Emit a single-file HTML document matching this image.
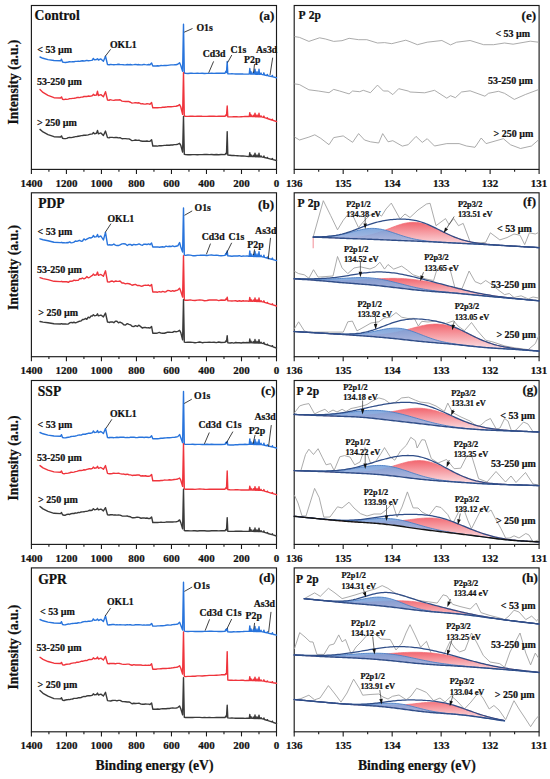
<!DOCTYPE html>
<html><head><meta charset="utf-8"><style>
html,body{margin:0;padding:0;background:#fff;}
svg{display:block;}
text{font-family:"Liberation Serif",serif;font-weight:bold;fill:#111;stroke:#111;stroke-width:0.22px;}
</style></head><body>
<svg width="550" height="779" viewBox="0 0 550 779">
<defs><linearGradient id="gR" x1="0" y1="0" x2="0" y2="1"><stop offset="0" stop-color="#f2666f"/><stop offset="0.5" stop-color="#f7a9af"/><stop offset="1" stop-color="#fdebee"/></linearGradient><linearGradient id="gB" x1="0" y1="0" x2="0" y2="1"><stop offset="0" stop-color="#75a0da"/><stop offset="0.5" stop-color="#9aafdd"/><stop offset="1" stop-color="#cacae4"/></linearGradient></defs>
<rect width="550" height="779" fill="#fff"/>
<rect x="31.40" y="5.50" width="245.10" height="163.90" fill="none" stroke="#1a1a1a" stroke-width="1.15"/>
<rect x="294.20" y="5.50" width="244.90" height="163.90" fill="none" stroke="#1a1a1a" stroke-width="1.15"/>
<line x1="276.50" y1="169.40" x2="276.50" y2="174.00" stroke="#1a1a1a" stroke-width="1.1"/>
<line x1="258.99" y1="169.40" x2="258.99" y2="171.80" stroke="#1a1a1a" stroke-width="1.1"/>
<line x1="241.49" y1="169.40" x2="241.49" y2="174.00" stroke="#1a1a1a" stroke-width="1.1"/>
<line x1="223.98" y1="169.40" x2="223.98" y2="171.80" stroke="#1a1a1a" stroke-width="1.1"/>
<line x1="206.47" y1="169.40" x2="206.47" y2="174.00" stroke="#1a1a1a" stroke-width="1.1"/>
<line x1="188.96" y1="169.40" x2="188.96" y2="171.80" stroke="#1a1a1a" stroke-width="1.1"/>
<line x1="171.46" y1="169.40" x2="171.46" y2="174.00" stroke="#1a1a1a" stroke-width="1.1"/>
<line x1="153.95" y1="169.40" x2="153.95" y2="171.80" stroke="#1a1a1a" stroke-width="1.1"/>
<line x1="136.44" y1="169.40" x2="136.44" y2="174.00" stroke="#1a1a1a" stroke-width="1.1"/>
<line x1="118.94" y1="169.40" x2="118.94" y2="171.80" stroke="#1a1a1a" stroke-width="1.1"/>
<line x1="101.43" y1="169.40" x2="101.43" y2="174.00" stroke="#1a1a1a" stroke-width="1.1"/>
<line x1="83.92" y1="169.40" x2="83.92" y2="171.80" stroke="#1a1a1a" stroke-width="1.1"/>
<line x1="66.41" y1="169.40" x2="66.41" y2="174.00" stroke="#1a1a1a" stroke-width="1.1"/>
<line x1="48.91" y1="169.40" x2="48.91" y2="171.80" stroke="#1a1a1a" stroke-width="1.1"/>
<line x1="31.40" y1="169.40" x2="31.40" y2="174.00" stroke="#1a1a1a" stroke-width="1.1"/>
<line x1="294.20" y1="169.40" x2="294.20" y2="174.00" stroke="#1a1a1a" stroke-width="1.1"/>
<line x1="318.69" y1="169.40" x2="318.69" y2="171.80" stroke="#1a1a1a" stroke-width="1.1"/>
<line x1="343.18" y1="169.40" x2="343.18" y2="174.00" stroke="#1a1a1a" stroke-width="1.1"/>
<line x1="367.67" y1="169.40" x2="367.67" y2="171.80" stroke="#1a1a1a" stroke-width="1.1"/>
<line x1="392.16" y1="169.40" x2="392.16" y2="174.00" stroke="#1a1a1a" stroke-width="1.1"/>
<line x1="416.65" y1="169.40" x2="416.65" y2="171.80" stroke="#1a1a1a" stroke-width="1.1"/>
<line x1="441.14" y1="169.40" x2="441.14" y2="174.00" stroke="#1a1a1a" stroke-width="1.1"/>
<line x1="465.63" y1="169.40" x2="465.63" y2="171.80" stroke="#1a1a1a" stroke-width="1.1"/>
<line x1="490.12" y1="169.40" x2="490.12" y2="174.00" stroke="#1a1a1a" stroke-width="1.1"/>
<line x1="514.61" y1="169.40" x2="514.61" y2="171.80" stroke="#1a1a1a" stroke-width="1.1"/>
<line x1="539.10" y1="169.40" x2="539.10" y2="174.00" stroke="#1a1a1a" stroke-width="1.1"/>
<text x="276.50" y="186.60" font-size="11.0" text-anchor="middle" >0</text>
<text x="241.49" y="186.60" font-size="11.0" text-anchor="middle" >200</text>
<text x="206.47" y="186.60" font-size="11.0" text-anchor="middle" >400</text>
<text x="171.46" y="186.60" font-size="11.0" text-anchor="middle" >600</text>
<text x="136.44" y="186.60" font-size="11.0" text-anchor="middle" >800</text>
<text x="101.43" y="186.60" font-size="11.0" text-anchor="middle" >1000</text>
<text x="66.41" y="186.60" font-size="11.0" text-anchor="middle" >1200</text>
<text x="31.40" y="186.60" font-size="11.0" text-anchor="middle" >1400</text>
<text x="539.10" y="186.60" font-size="11.0" text-anchor="middle" >131</text>
<text x="490.12" y="186.60" font-size="11.0" text-anchor="middle" >132</text>
<text x="441.14" y="186.60" font-size="11.0" text-anchor="middle" >133</text>
<text x="392.16" y="186.60" font-size="11.0" text-anchor="middle" >134</text>
<text x="343.18" y="186.60" font-size="11.0" text-anchor="middle" >135</text>
<text x="294.20" y="186.60" font-size="11.0" text-anchor="middle" >136</text>
<rect x="31.40" y="192.80" width="245.10" height="163.90" fill="none" stroke="#1a1a1a" stroke-width="1.15"/>
<rect x="294.20" y="192.80" width="244.90" height="163.90" fill="none" stroke="#1a1a1a" stroke-width="1.15"/>
<line x1="276.50" y1="356.70" x2="276.50" y2="361.30" stroke="#1a1a1a" stroke-width="1.1"/>
<line x1="258.99" y1="356.70" x2="258.99" y2="359.10" stroke="#1a1a1a" stroke-width="1.1"/>
<line x1="241.49" y1="356.70" x2="241.49" y2="361.30" stroke="#1a1a1a" stroke-width="1.1"/>
<line x1="223.98" y1="356.70" x2="223.98" y2="359.10" stroke="#1a1a1a" stroke-width="1.1"/>
<line x1="206.47" y1="356.70" x2="206.47" y2="361.30" stroke="#1a1a1a" stroke-width="1.1"/>
<line x1="188.96" y1="356.70" x2="188.96" y2="359.10" stroke="#1a1a1a" stroke-width="1.1"/>
<line x1="171.46" y1="356.70" x2="171.46" y2="361.30" stroke="#1a1a1a" stroke-width="1.1"/>
<line x1="153.95" y1="356.70" x2="153.95" y2="359.10" stroke="#1a1a1a" stroke-width="1.1"/>
<line x1="136.44" y1="356.70" x2="136.44" y2="361.30" stroke="#1a1a1a" stroke-width="1.1"/>
<line x1="118.94" y1="356.70" x2="118.94" y2="359.10" stroke="#1a1a1a" stroke-width="1.1"/>
<line x1="101.43" y1="356.70" x2="101.43" y2="361.30" stroke="#1a1a1a" stroke-width="1.1"/>
<line x1="83.92" y1="356.70" x2="83.92" y2="359.10" stroke="#1a1a1a" stroke-width="1.1"/>
<line x1="66.41" y1="356.70" x2="66.41" y2="361.30" stroke="#1a1a1a" stroke-width="1.1"/>
<line x1="48.91" y1="356.70" x2="48.91" y2="359.10" stroke="#1a1a1a" stroke-width="1.1"/>
<line x1="31.40" y1="356.70" x2="31.40" y2="361.30" stroke="#1a1a1a" stroke-width="1.1"/>
<line x1="294.20" y1="356.70" x2="294.20" y2="361.30" stroke="#1a1a1a" stroke-width="1.1"/>
<line x1="318.69" y1="356.70" x2="318.69" y2="359.10" stroke="#1a1a1a" stroke-width="1.1"/>
<line x1="343.18" y1="356.70" x2="343.18" y2="361.30" stroke="#1a1a1a" stroke-width="1.1"/>
<line x1="367.67" y1="356.70" x2="367.67" y2="359.10" stroke="#1a1a1a" stroke-width="1.1"/>
<line x1="392.16" y1="356.70" x2="392.16" y2="361.30" stroke="#1a1a1a" stroke-width="1.1"/>
<line x1="416.65" y1="356.70" x2="416.65" y2="359.10" stroke="#1a1a1a" stroke-width="1.1"/>
<line x1="441.14" y1="356.70" x2="441.14" y2="361.30" stroke="#1a1a1a" stroke-width="1.1"/>
<line x1="465.63" y1="356.70" x2="465.63" y2="359.10" stroke="#1a1a1a" stroke-width="1.1"/>
<line x1="490.12" y1="356.70" x2="490.12" y2="361.30" stroke="#1a1a1a" stroke-width="1.1"/>
<line x1="514.61" y1="356.70" x2="514.61" y2="359.10" stroke="#1a1a1a" stroke-width="1.1"/>
<line x1="539.10" y1="356.70" x2="539.10" y2="361.30" stroke="#1a1a1a" stroke-width="1.1"/>
<text x="276.50" y="373.90" font-size="11.0" text-anchor="middle" >0</text>
<text x="241.49" y="373.90" font-size="11.0" text-anchor="middle" >200</text>
<text x="206.47" y="373.90" font-size="11.0" text-anchor="middle" >400</text>
<text x="171.46" y="373.90" font-size="11.0" text-anchor="middle" >600</text>
<text x="136.44" y="373.90" font-size="11.0" text-anchor="middle" >800</text>
<text x="101.43" y="373.90" font-size="11.0" text-anchor="middle" >1000</text>
<text x="66.41" y="373.90" font-size="11.0" text-anchor="middle" >1200</text>
<text x="31.40" y="373.90" font-size="11.0" text-anchor="middle" >1400</text>
<text x="539.10" y="373.90" font-size="11.0" text-anchor="middle" >131</text>
<text x="490.12" y="373.90" font-size="11.0" text-anchor="middle" >132</text>
<text x="441.14" y="373.90" font-size="11.0" text-anchor="middle" >133</text>
<text x="392.16" y="373.90" font-size="11.0" text-anchor="middle" >134</text>
<text x="343.18" y="373.90" font-size="11.0" text-anchor="middle" >135</text>
<text x="294.20" y="373.90" font-size="11.0" text-anchor="middle" >136</text>
<rect x="31.40" y="380.50" width="245.10" height="163.90" fill="none" stroke="#1a1a1a" stroke-width="1.15"/>
<rect x="294.20" y="380.50" width="244.90" height="163.90" fill="none" stroke="#1a1a1a" stroke-width="1.15"/>
<line x1="276.50" y1="544.40" x2="276.50" y2="549.00" stroke="#1a1a1a" stroke-width="1.1"/>
<line x1="258.99" y1="544.40" x2="258.99" y2="546.80" stroke="#1a1a1a" stroke-width="1.1"/>
<line x1="241.49" y1="544.40" x2="241.49" y2="549.00" stroke="#1a1a1a" stroke-width="1.1"/>
<line x1="223.98" y1="544.40" x2="223.98" y2="546.80" stroke="#1a1a1a" stroke-width="1.1"/>
<line x1="206.47" y1="544.40" x2="206.47" y2="549.00" stroke="#1a1a1a" stroke-width="1.1"/>
<line x1="188.96" y1="544.40" x2="188.96" y2="546.80" stroke="#1a1a1a" stroke-width="1.1"/>
<line x1="171.46" y1="544.40" x2="171.46" y2="549.00" stroke="#1a1a1a" stroke-width="1.1"/>
<line x1="153.95" y1="544.40" x2="153.95" y2="546.80" stroke="#1a1a1a" stroke-width="1.1"/>
<line x1="136.44" y1="544.40" x2="136.44" y2="549.00" stroke="#1a1a1a" stroke-width="1.1"/>
<line x1="118.94" y1="544.40" x2="118.94" y2="546.80" stroke="#1a1a1a" stroke-width="1.1"/>
<line x1="101.43" y1="544.40" x2="101.43" y2="549.00" stroke="#1a1a1a" stroke-width="1.1"/>
<line x1="83.92" y1="544.40" x2="83.92" y2="546.80" stroke="#1a1a1a" stroke-width="1.1"/>
<line x1="66.41" y1="544.40" x2="66.41" y2="549.00" stroke="#1a1a1a" stroke-width="1.1"/>
<line x1="48.91" y1="544.40" x2="48.91" y2="546.80" stroke="#1a1a1a" stroke-width="1.1"/>
<line x1="31.40" y1="544.40" x2="31.40" y2="549.00" stroke="#1a1a1a" stroke-width="1.1"/>
<line x1="294.20" y1="544.40" x2="294.20" y2="549.00" stroke="#1a1a1a" stroke-width="1.1"/>
<line x1="318.69" y1="544.40" x2="318.69" y2="546.80" stroke="#1a1a1a" stroke-width="1.1"/>
<line x1="343.18" y1="544.40" x2="343.18" y2="549.00" stroke="#1a1a1a" stroke-width="1.1"/>
<line x1="367.67" y1="544.40" x2="367.67" y2="546.80" stroke="#1a1a1a" stroke-width="1.1"/>
<line x1="392.16" y1="544.40" x2="392.16" y2="549.00" stroke="#1a1a1a" stroke-width="1.1"/>
<line x1="416.65" y1="544.40" x2="416.65" y2="546.80" stroke="#1a1a1a" stroke-width="1.1"/>
<line x1="441.14" y1="544.40" x2="441.14" y2="549.00" stroke="#1a1a1a" stroke-width="1.1"/>
<line x1="465.63" y1="544.40" x2="465.63" y2="546.80" stroke="#1a1a1a" stroke-width="1.1"/>
<line x1="490.12" y1="544.40" x2="490.12" y2="549.00" stroke="#1a1a1a" stroke-width="1.1"/>
<line x1="514.61" y1="544.40" x2="514.61" y2="546.80" stroke="#1a1a1a" stroke-width="1.1"/>
<line x1="539.10" y1="544.40" x2="539.10" y2="549.00" stroke="#1a1a1a" stroke-width="1.1"/>
<text x="276.50" y="561.60" font-size="11.0" text-anchor="middle" >0</text>
<text x="241.49" y="561.60" font-size="11.0" text-anchor="middle" >200</text>
<text x="206.47" y="561.60" font-size="11.0" text-anchor="middle" >400</text>
<text x="171.46" y="561.60" font-size="11.0" text-anchor="middle" >600</text>
<text x="136.44" y="561.60" font-size="11.0" text-anchor="middle" >800</text>
<text x="101.43" y="561.60" font-size="11.0" text-anchor="middle" >1000</text>
<text x="66.41" y="561.60" font-size="11.0" text-anchor="middle" >1200</text>
<text x="31.40" y="561.60" font-size="11.0" text-anchor="middle" >1400</text>
<text x="539.10" y="561.60" font-size="11.0" text-anchor="middle" >131</text>
<text x="490.12" y="561.60" font-size="11.0" text-anchor="middle" >132</text>
<text x="441.14" y="561.60" font-size="11.0" text-anchor="middle" >133</text>
<text x="392.16" y="561.60" font-size="11.0" text-anchor="middle" >134</text>
<text x="343.18" y="561.60" font-size="11.0" text-anchor="middle" >135</text>
<text x="294.20" y="561.60" font-size="11.0" text-anchor="middle" >136</text>
<rect x="31.40" y="567.90" width="245.10" height="163.90" fill="none" stroke="#1a1a1a" stroke-width="1.15"/>
<rect x="294.20" y="567.90" width="244.90" height="163.90" fill="none" stroke="#1a1a1a" stroke-width="1.15"/>
<line x1="276.50" y1="731.80" x2="276.50" y2="736.40" stroke="#1a1a1a" stroke-width="1.1"/>
<line x1="258.99" y1="731.80" x2="258.99" y2="734.20" stroke="#1a1a1a" stroke-width="1.1"/>
<line x1="241.49" y1="731.80" x2="241.49" y2="736.40" stroke="#1a1a1a" stroke-width="1.1"/>
<line x1="223.98" y1="731.80" x2="223.98" y2="734.20" stroke="#1a1a1a" stroke-width="1.1"/>
<line x1="206.47" y1="731.80" x2="206.47" y2="736.40" stroke="#1a1a1a" stroke-width="1.1"/>
<line x1="188.96" y1="731.80" x2="188.96" y2="734.20" stroke="#1a1a1a" stroke-width="1.1"/>
<line x1="171.46" y1="731.80" x2="171.46" y2="736.40" stroke="#1a1a1a" stroke-width="1.1"/>
<line x1="153.95" y1="731.80" x2="153.95" y2="734.20" stroke="#1a1a1a" stroke-width="1.1"/>
<line x1="136.44" y1="731.80" x2="136.44" y2="736.40" stroke="#1a1a1a" stroke-width="1.1"/>
<line x1="118.94" y1="731.80" x2="118.94" y2="734.20" stroke="#1a1a1a" stroke-width="1.1"/>
<line x1="101.43" y1="731.80" x2="101.43" y2="736.40" stroke="#1a1a1a" stroke-width="1.1"/>
<line x1="83.92" y1="731.80" x2="83.92" y2="734.20" stroke="#1a1a1a" stroke-width="1.1"/>
<line x1="66.41" y1="731.80" x2="66.41" y2="736.40" stroke="#1a1a1a" stroke-width="1.1"/>
<line x1="48.91" y1="731.80" x2="48.91" y2="734.20" stroke="#1a1a1a" stroke-width="1.1"/>
<line x1="31.40" y1="731.80" x2="31.40" y2="736.40" stroke="#1a1a1a" stroke-width="1.1"/>
<line x1="294.20" y1="731.80" x2="294.20" y2="736.40" stroke="#1a1a1a" stroke-width="1.1"/>
<line x1="318.69" y1="731.80" x2="318.69" y2="734.20" stroke="#1a1a1a" stroke-width="1.1"/>
<line x1="343.18" y1="731.80" x2="343.18" y2="736.40" stroke="#1a1a1a" stroke-width="1.1"/>
<line x1="367.67" y1="731.80" x2="367.67" y2="734.20" stroke="#1a1a1a" stroke-width="1.1"/>
<line x1="392.16" y1="731.80" x2="392.16" y2="736.40" stroke="#1a1a1a" stroke-width="1.1"/>
<line x1="416.65" y1="731.80" x2="416.65" y2="734.20" stroke="#1a1a1a" stroke-width="1.1"/>
<line x1="441.14" y1="731.80" x2="441.14" y2="736.40" stroke="#1a1a1a" stroke-width="1.1"/>
<line x1="465.63" y1="731.80" x2="465.63" y2="734.20" stroke="#1a1a1a" stroke-width="1.1"/>
<line x1="490.12" y1="731.80" x2="490.12" y2="736.40" stroke="#1a1a1a" stroke-width="1.1"/>
<line x1="514.61" y1="731.80" x2="514.61" y2="734.20" stroke="#1a1a1a" stroke-width="1.1"/>
<line x1="539.10" y1="731.80" x2="539.10" y2="736.40" stroke="#1a1a1a" stroke-width="1.1"/>
<text x="276.50" y="749.00" font-size="11.0" text-anchor="middle" >0</text>
<text x="241.49" y="749.00" font-size="11.0" text-anchor="middle" >200</text>
<text x="206.47" y="749.00" font-size="11.0" text-anchor="middle" >400</text>
<text x="171.46" y="749.00" font-size="11.0" text-anchor="middle" >600</text>
<text x="136.44" y="749.00" font-size="11.0" text-anchor="middle" >800</text>
<text x="101.43" y="749.00" font-size="11.0" text-anchor="middle" >1000</text>
<text x="66.41" y="749.00" font-size="11.0" text-anchor="middle" >1200</text>
<text x="31.40" y="749.00" font-size="11.0" text-anchor="middle" >1400</text>
<text x="539.10" y="749.00" font-size="11.0" text-anchor="middle" >131</text>
<text x="490.12" y="749.00" font-size="11.0" text-anchor="middle" >132</text>
<text x="441.14" y="749.00" font-size="11.0" text-anchor="middle" >133</text>
<text x="392.16" y="749.00" font-size="11.0" text-anchor="middle" >134</text>
<text x="343.18" y="749.00" font-size="11.0" text-anchor="middle" >135</text>
<text x="294.20" y="749.00" font-size="11.0" text-anchor="middle" >136</text>
<text transform="translate(17.6,82.10) rotate(-90)" font-size="13.6" text-anchor="middle">Intensity (a.u.)</text>
<text transform="translate(17.6,267.50) rotate(-90)" font-size="13.6" text-anchor="middle">Intensity (a.u.)</text>
<text transform="translate(17.6,458.00) rotate(-90)" font-size="13.6" text-anchor="middle">Intensity (a.u.)</text>
<text transform="translate(17.6,647.10) rotate(-90)" font-size="13.6" text-anchor="middle">Intensity (a.u.)</text>
<text x="154.55" y="769.60" font-size="13.7" text-anchor="middle" >Binding energy (eV)</text>
<text x="416.85" y="769.60" font-size="13.7" text-anchor="middle" >Binding energy (eV)</text>
<polyline points="40.00,57.00 43.00,58.29 48.00,59.58 54.00,60.50 60.50,60.80 61.50,59.20 62.50,62.00 64.00,62.40 65.42,62.49 66.85,62.32 68.28,62.01 69.70,61.80 71.12,61.83 72.55,61.65 73.97,61.77 75.40,61.36 76.83,61.35 78.25,61.30 79.67,61.38 81.10,61.02 82.53,60.77 83.95,60.94 85.38,60.75 86.80,60.41 88.22,60.69 89.65,60.62 91.08,60.40 92.50,60.10 93.30,58.40 94.60,59.90 96.50,59.50 97.50,58.70 98.40,60.00 100.90,58.90 103.40,61.30 105.50,56.20 107.50,64.50 109.20,64.80 109.20,64.75 110.74,64.39 112.29,64.64 113.83,64.74 115.37,64.61 116.91,64.48 118.46,64.26 120.00,64.46 122.00,64.63 123.75,64.81 125.50,64.85 127.25,64.56 129.00,64.80 130.50,64.47 132.00,64.83 133.75,64.67 135.50,64.35 137.25,64.77 139.00,64.57 141.00,64.87 142.50,64.78 144.00,64.38 145.50,64.68 147.00,64.91 148.50,64.54 150.00,64.70 151.60,63.10 152.80,66.00 156.00,66.00 157.67,65.82 159.33,65.94 161.00,65.55 162.67,65.60 164.33,65.35 166.00,65.55 167.67,65.37 169.33,65.11 171.00,64.85 172.67,64.84 174.33,64.81 176.00,64.70 177.80,64.30 179.60,62.80 180.80,65.50 182.60,71.20 183.50,24.20 184.30,73.00 185.50,73.30 187.88,73.43 190.25,73.18 192.62,73.32 195.00,73.36 197.38,73.31 199.75,73.39 202.12,73.31 204.50,73.44 206.88,73.33 209.25,73.33 211.62,73.28 214.00,73.33 216.38,73.27 218.75,73.32 221.12,73.24 225.00,73.30 225.90,71.30 226.50,72.50 227.20,61.50 227.80,73.70 230.00,73.90 231.88,73.82 233.76,73.83 235.64,73.96 237.52,73.99 239.40,73.94 241.28,73.84 243.16,74.05 245.04,74.09 246.92,74.12 248.80,74.00 249.25,74.01 249.80,68.53 250.35,74.05 250.45,74.05 251.00,71.57 251.55,74.08 252.75,74.12 253.30,72.14 253.85,74.15 254.45,74.17 255.00,69.19 255.55,74.20 256.45,74.23 257.00,71.75 257.55,74.26 258.45,74.29 259.00,69.31 259.55,74.32 260.45,74.35 261.00,72.87 261.55,74.38 263.35,74.70 263.90,72.83 264.45,74.95 266.85,75.50 267.40,74.43 267.95,75.75 271.85,76.64 272.40,75.37 272.95,76.89 276.50,77.70" fill="none" stroke="#2874dc" stroke-width="1.4" stroke-linejoin="round" stroke-linecap="round" />
<polyline points="40.00,89.60 43.00,92.46 48.00,95.31 54.00,97.70 60.50,98.00 61.50,96.88 62.50,99.20 64.00,99.60 65.42,99.18 66.85,99.41 68.28,99.16 69.70,98.65 71.12,98.60 72.55,98.37 73.97,98.29 75.40,98.17 76.83,97.56 78.25,97.32 79.67,97.60 81.10,97.16 82.53,97.16 83.95,96.50 85.38,96.57 86.80,96.53 88.22,96.04 89.65,96.27 91.08,96.04 92.50,95.60 93.30,94.29 94.60,95.40 96.50,95.00 97.50,91.30 98.40,95.50 100.90,94.64 103.40,96.70 105.50,91.70 107.50,100.00 109.20,100.30 109.20,99.84 110.74,99.82 112.29,100.11 113.83,100.34 115.37,99.98 116.91,99.87 118.46,99.97 120.00,99.72 122.00,101.09 123.75,101.33 125.50,101.47 127.25,101.41 129.00,101.52 130.50,102.25 132.00,103.13 133.75,102.92 135.50,102.65 137.25,103.04 139.00,102.76 141.00,103.87 142.50,103.63 144.00,104.16 145.50,104.12 147.00,103.72 148.50,103.89 150.00,104.20 151.60,102.60 152.80,107.80 156.00,107.80 157.67,107.76 159.33,107.62 161.00,107.58 162.67,107.23 164.33,107.27 166.00,107.07 167.67,106.78 169.33,106.77 171.00,106.76 172.67,106.61 174.33,106.34 176.00,106.20 177.80,105.80 179.60,104.60 180.80,107.00 182.60,114.30 183.50,72.60 184.30,116.00 185.50,116.30 187.88,116.33 190.25,116.16 192.62,116.22 195.00,116.39 197.38,116.27 199.75,116.20 202.12,116.31 204.50,116.36 206.88,116.35 209.25,116.26 211.62,116.28 214.00,116.30 216.38,116.38 218.75,116.31 221.12,116.27 225.00,116.30 225.90,114.90 226.50,115.50 227.20,106.00 227.80,116.70 230.00,116.90 231.88,116.86 233.76,116.68 235.64,116.64 237.52,116.80 239.40,116.84 241.28,116.69 243.16,116.59 245.04,116.48 246.92,116.54 248.80,116.50 249.25,116.51 249.80,112.68 250.35,116.55 250.45,116.55 251.00,114.82 251.55,116.58 252.75,116.62 253.30,115.23 253.85,116.65 254.45,116.67 255.00,113.19 255.55,116.70 256.45,116.73 257.00,115.00 257.55,116.76 258.45,116.79 259.00,113.31 259.55,116.82 260.45,116.85 261.00,115.82 261.55,116.88 263.35,117.32 263.90,116.10 264.45,117.67 266.85,118.44 267.40,117.77 267.95,118.79 271.85,120.02 272.40,119.22 272.95,120.37 276.50,121.50" fill="none" stroke="#ef343c" stroke-width="1.4" stroke-linejoin="round" stroke-linecap="round" />
<polyline points="40.00,129.40 43.00,131.98 48.00,134.57 54.00,136.70 60.50,137.00 61.50,135.88 62.50,138.20 64.00,138.60 65.42,138.64 66.85,138.40 68.28,137.63 69.70,137.41 71.12,137.63 72.55,137.33 73.97,137.06 75.40,136.60 76.83,136.55 78.25,136.31 79.67,136.06 81.10,135.58 82.53,135.50 83.95,135.25 85.38,135.21 86.80,135.14 88.22,134.87 89.65,134.40 91.08,134.10 92.50,133.90 93.30,132.59 94.60,133.70 96.50,133.30 97.50,130.50 98.40,133.80 100.90,132.94 103.40,135.50 105.50,131.10 107.50,137.60 109.20,137.90 109.20,137.57 110.74,137.42 112.29,137.40 113.83,137.64 115.37,137.54 116.91,137.56 118.46,137.85 120.00,137.62 122.00,138.75 123.75,138.64 125.50,138.61 127.25,138.88 129.00,138.86 130.50,139.73 132.00,140.67 133.75,140.39 135.50,140.00 137.25,140.33 139.00,140.18 141.00,141.07 142.50,141.21 144.00,141.16 145.50,141.21 147.00,140.99 148.50,141.40 150.00,141.30 151.60,139.70 152.80,146.00 156.00,146.00 157.67,146.08 159.33,145.62 161.00,145.76 162.67,145.62 164.33,145.40 166.00,145.31 167.67,145.18 169.33,145.25 171.00,144.95 172.67,144.97 174.33,144.66 176.00,144.60 177.80,144.20 179.60,143.30 180.80,145.40 182.60,152.00 183.50,116.50 184.30,154.30 185.50,154.60 187.88,154.71 190.25,154.72 192.62,154.59 195.00,154.62 197.38,154.73 199.75,154.67 202.12,154.60 204.50,154.52 206.88,154.55 209.25,154.66 211.62,154.50 214.00,154.72 216.38,154.53 218.75,154.72 221.12,154.54 225.00,154.60 225.90,153.20 226.50,153.80 227.20,131.60 227.80,155.00 230.00,155.20 231.88,155.47 233.76,155.52 235.64,155.59 237.52,155.73 239.40,155.90 241.28,156.01 243.16,156.05 245.04,156.15 246.92,156.37 248.80,156.50 249.25,156.51 249.80,152.68 250.35,156.55 250.45,156.55 251.00,154.82 251.55,156.58 252.75,156.62 253.30,155.23 253.85,156.65 254.45,156.67 255.00,153.19 255.55,156.70 256.45,156.73 257.00,155.00 257.55,156.76 258.45,156.79 259.00,153.31 259.55,156.82 260.45,156.85 261.00,155.82 261.55,156.88 263.35,157.23 263.90,155.97 264.45,157.50 266.85,158.10 267.40,157.40 267.95,158.37 271.85,159.34 272.40,158.50 272.95,159.62 276.50,160.50" fill="none" stroke="#3a3a3a" stroke-width="1.4" stroke-linejoin="round" stroke-linecap="round" />
<polyline points="40.00,238.80 43.00,239.75 48.00,240.70 54.00,242.30 60.50,242.60 61.50,242.30 62.50,242.75 64.00,242.80 65.42,242.89 66.85,242.56 68.28,242.72 69.70,241.91 71.12,242.83 72.55,242.66 73.97,242.14 75.40,241.01 76.83,241.40 78.25,240.77 79.67,240.32 81.10,241.27 82.53,241.00 83.95,238.93 85.38,240.01 86.80,239.15 88.22,238.34 89.65,237.73 91.08,237.98 92.50,237.20 93.30,235.50 94.60,237.00 96.50,236.60 97.50,234.50 98.40,237.10 100.90,236.00 103.40,240.00 105.50,232.40 107.50,244.70 109.20,245.00 109.20,244.62 110.74,245.03 112.29,244.99 113.83,244.04 115.37,245.18 116.91,245.57 118.46,245.54 120.00,244.90 122.00,243.88 123.75,243.81 125.50,244.04 127.25,245.49 129.00,244.35 130.50,244.46 132.00,245.42 133.75,244.37 135.50,244.79 137.25,244.58 139.00,243.92 141.00,244.85 142.50,245.32 144.00,244.08 145.50,244.20 147.00,244.54 148.50,243.87 150.00,244.70 151.60,243.10 152.80,247.00 156.00,247.00 157.67,246.93 159.33,247.27 161.00,247.00 162.67,246.78 164.33,247.11 166.00,246.16 167.67,246.62 169.33,246.31 171.00,246.53 172.67,245.85 174.33,246.61 176.00,246.20 177.80,245.80 179.60,242.50 180.80,247.00 182.60,252.10 183.50,208.00 184.30,255.10 185.50,255.40 187.88,255.04 190.25,255.10 192.62,255.68 195.00,255.80 197.38,255.34 199.75,255.32 202.12,255.17 204.50,255.20 206.88,255.51 209.25,255.11 211.62,255.06 214.00,255.36 216.38,255.10 218.75,255.53 221.12,255.69 225.00,255.40 225.90,253.40 226.50,254.60 227.20,251.00 227.80,255.80 230.00,256.00 231.88,256.28 233.76,256.04 235.64,255.95 237.52,256.06 239.40,255.70 241.28,256.37 243.16,256.06 245.04,256.08 246.92,255.89 248.80,256.30 249.25,256.31 249.80,250.83 250.35,256.35 250.45,256.35 251.00,253.87 251.55,256.38 252.75,256.42 253.30,254.44 253.85,256.45 254.45,256.47 255.00,251.49 255.55,256.50 256.45,256.53 257.00,254.05 257.55,256.56 258.45,256.59 259.00,251.61 259.55,256.62 260.45,256.65 261.00,255.17 261.55,256.68 263.35,257.06 263.90,255.21 264.45,257.36 266.85,258.00 267.40,256.95 267.95,258.30 271.85,259.35 272.40,258.10 272.95,259.64 276.50,260.60" fill="none" stroke="#2874dc" stroke-width="1.4" stroke-linejoin="round" stroke-linecap="round" />
<polyline points="40.00,277.60 43.00,278.60 48.00,279.60 54.00,281.30 60.50,281.60 61.50,281.30 62.50,281.75 64.00,281.80 65.42,281.67 66.85,281.78 68.28,282.31 69.70,281.32 71.12,281.21 72.55,281.13 73.97,280.16 75.40,280.47 76.83,280.39 78.25,280.36 79.67,278.75 81.10,278.76 82.53,277.99 83.95,278.87 85.38,278.22 86.80,276.60 88.22,277.81 89.65,277.29 91.08,276.21 92.50,275.40 93.30,274.09 94.60,275.20 96.50,274.80 97.50,272.06 98.40,275.30 100.90,274.44 103.40,276.30 105.50,270.80 107.50,281.80 109.20,282.10 109.20,282.13 110.74,281.29 112.29,281.02 113.83,281.92 115.37,281.06 116.91,281.28 118.46,281.35 120.00,280.95 122.00,283.00 123.75,283.06 125.50,283.89 127.25,283.41 129.00,283.73 130.50,284.21 132.00,285.24 133.75,284.77 135.50,284.34 137.25,285.53 139.00,285.42 141.00,286.19 142.50,286.00 144.00,285.33 145.50,285.22 147.00,285.37 148.50,285.02 150.00,286.00 151.60,284.40 152.80,292.00 156.00,292.00 157.67,292.21 159.33,291.62 161.00,292.06 162.67,291.36 164.33,291.95 166.00,291.69 167.67,290.50 169.33,290.63 171.00,291.39 172.67,290.71 174.33,291.23 176.00,290.50 177.80,290.10 179.60,288.30 180.80,291.30 182.60,297.10 183.50,255.80 184.30,300.00 185.50,300.30 187.88,300.21 190.25,299.92 192.62,300.42 195.00,300.55 197.38,300.09 199.75,299.93 202.12,300.15 204.50,300.72 206.88,300.53 209.25,299.96 211.62,300.07 214.00,299.94 216.38,299.90 218.75,300.57 221.12,300.01 225.00,300.30 225.90,298.90 226.50,299.50 227.20,297.20 227.80,300.70 230.00,300.90 231.88,300.98 233.76,300.91 235.64,300.71 237.52,301.23 239.40,300.72 241.28,301.21 243.16,300.76 245.04,301.07 246.92,300.91 248.80,301.20 249.25,301.21 249.80,297.38 250.35,301.25 250.45,301.25 251.00,299.52 251.55,301.28 252.75,301.32 253.30,299.94 253.85,301.35 254.45,301.37 255.00,297.89 255.55,301.40 256.45,301.43 257.00,299.70 257.55,301.46 258.45,301.49 259.00,298.01 259.55,301.52 260.45,301.55 261.00,300.52 261.55,301.58 263.35,302.01 263.90,300.77 264.45,302.34 266.85,303.07 267.40,302.40 267.95,303.40 271.85,304.59 272.40,303.77 272.95,304.92 276.50,306.00" fill="none" stroke="#ef343c" stroke-width="1.4" stroke-linejoin="round" stroke-linecap="round" />
<polyline points="40.00,321.50 43.00,322.12 48.00,322.75 54.00,323.70 60.50,324.00 61.50,323.70 62.50,324.00 64.00,324.00 65.42,323.91 66.85,324.12 68.28,323.98 69.70,322.84 71.12,322.36 72.55,322.74 73.97,322.25 75.40,322.87 76.83,322.28 78.25,321.72 79.67,321.21 81.10,320.93 82.53,319.52 83.95,319.53 85.38,318.49 86.80,319.26 88.22,317.14 89.65,317.89 91.08,315.90 92.50,316.00 93.30,314.69 94.60,315.80 96.50,315.40 97.50,313.78 98.40,315.90 100.90,315.04 103.40,316.90 105.50,313.00 107.50,322.00 109.20,322.30 109.20,322.52 110.74,321.86 112.29,321.96 113.83,322.72 115.37,321.21 116.91,321.26 118.46,322.77 120.00,322.02 122.00,323.09 123.75,324.86 125.50,324.94 127.25,323.59 129.00,324.30 130.50,324.85 132.00,326.24 133.75,326.64 135.50,325.66 137.25,326.47 139.00,325.16 141.00,326.90 142.50,328.12 144.00,327.43 145.50,327.53 147.00,327.91 148.50,327.75 150.00,328.10 151.60,326.50 152.80,333.20 156.00,333.20 157.67,332.94 159.33,332.38 161.00,333.14 162.67,333.32 164.33,333.22 166.00,332.71 167.67,332.20 169.33,332.09 171.00,332.39 172.67,332.25 174.33,331.43 176.00,331.80 177.80,331.40 179.60,330.30 180.80,332.60 182.60,339.90 183.50,299.60 184.30,342.10 185.50,342.40 187.88,342.16 190.25,342.28 192.62,342.41 195.00,342.68 197.38,342.40 199.75,341.98 202.12,342.69 204.50,342.34 206.88,342.42 209.25,342.15 211.62,342.33 214.00,342.30 216.38,342.64 218.75,342.04 221.12,342.44 225.00,342.40 225.90,341.00 226.50,341.60 227.20,335.70 227.80,342.80 230.00,343.00 231.88,342.69 233.76,343.14 235.64,342.52 237.52,342.72 239.40,342.76 241.28,343.00 243.16,342.46 245.04,342.80 246.92,342.56 248.80,342.80 249.25,342.81 249.80,338.98 250.35,342.85 250.45,342.85 251.00,341.12 251.55,342.88 252.75,342.92 253.30,341.54 253.85,342.95 254.45,342.97 255.00,339.49 255.55,343.00 256.45,343.03 257.00,341.30 257.55,343.06 258.45,343.09 259.00,339.61 259.55,343.12 260.45,343.15 261.00,342.12 261.55,343.18 263.35,343.64 263.90,342.43 264.45,344.01 266.85,344.80 267.40,344.15 267.95,345.17 271.85,346.46 272.40,345.66 272.95,346.82 276.50,348.00" fill="none" stroke="#3a3a3a" stroke-width="1.4" stroke-linejoin="round" stroke-linecap="round" />
<polyline points="40.00,432.50 43.00,433.79 48.00,435.08 54.00,436.00 60.50,436.30 61.50,434.70 62.50,437.50 64.00,437.90 65.42,437.88 66.85,437.49 68.28,437.28 69.70,437.10 71.12,436.46 72.55,436.42 73.97,436.32 75.40,436.04 76.83,435.60 78.25,435.10 79.67,434.99 81.10,435.08 82.53,434.28 83.95,434.15 85.38,434.27 86.80,433.71 88.22,433.31 89.65,433.11 91.08,433.21 92.50,432.70 93.30,431.00 94.60,432.50 96.50,432.10 97.50,430.50 98.40,432.60 100.90,431.50 103.40,433.50 105.50,428.40 107.50,437.50 109.20,437.80 109.20,437.40 110.74,437.45 112.29,437.57 113.83,437.68 115.37,437.49 116.91,437.25 118.46,437.54 120.00,437.22 122.00,437.23 123.75,437.28 125.50,437.58 127.25,437.33 129.00,437.57 130.50,437.24 132.00,437.20 133.75,437.14 135.50,437.55 137.25,437.65 139.00,437.27 141.00,437.25 142.50,437.12 144.00,437.49 145.50,437.29 147.00,437.19 148.50,437.49 150.00,437.40 151.60,435.80 152.80,438.80 156.00,438.80 157.67,438.69 159.33,438.48 161.00,438.20 162.67,438.26 164.33,438.07 166.00,437.87 167.67,437.61 169.33,437.78 171.00,437.60 172.67,437.38 174.33,437.36 176.00,437.00 177.80,436.60 179.60,434.60 180.80,437.80 182.60,442.70 183.50,391.50 184.30,444.10 185.50,444.40 187.88,444.42 190.25,444.35 192.62,444.28 195.00,444.43 197.38,444.41 199.75,444.38 202.12,444.55 204.50,444.50 206.88,444.28 209.25,444.52 211.62,444.25 214.00,444.45 216.38,444.34 218.75,444.47 221.12,444.54 225.00,444.40 225.90,442.40 226.50,443.60 227.20,441.50 227.80,444.80 230.00,445.00 231.88,444.94 233.76,444.94 235.64,444.66 237.52,444.77 239.40,444.54 241.28,444.57 243.16,444.46 245.04,444.31 246.92,444.44 248.80,444.30 249.25,444.31 249.80,438.83 250.35,444.35 250.45,444.35 251.00,441.87 251.55,444.38 252.75,444.42 253.30,442.44 253.85,444.45 254.45,444.47 255.00,439.49 255.55,444.50 256.45,444.53 257.00,442.05 257.55,444.56 258.45,444.59 259.00,439.61 259.55,444.62 260.45,444.65 261.00,443.17 261.55,444.68 263.35,445.00 263.90,443.13 264.45,445.25 266.85,445.80 267.40,444.73 267.95,446.05 271.85,446.94 272.40,445.67 272.95,447.19 276.50,448.00" fill="none" stroke="#2874dc" stroke-width="1.4" stroke-linejoin="round" stroke-linecap="round" />
<polyline points="40.00,465.60 43.00,467.84 48.00,470.09 54.00,471.90 60.50,472.20 61.50,471.08 62.50,473.40 64.00,473.80 65.42,473.33 66.85,473.37 68.28,473.07 69.70,472.71 71.12,472.28 72.55,472.36 73.97,472.09 75.40,471.65 76.83,471.37 78.25,470.94 79.67,470.53 81.10,470.48 82.53,470.34 83.95,469.76 85.38,469.93 86.80,469.32 88.22,469.05 89.65,468.67 91.08,468.97 92.50,468.40 93.30,467.09 94.60,468.20 96.50,467.80 97.50,466.32 98.40,468.30 100.90,467.44 103.40,469.30 105.50,465.60 107.50,473.40 109.20,473.70 109.20,473.62 110.74,473.69 112.29,473.53 113.83,473.17 115.37,473.33 116.91,473.42 118.46,473.18 120.00,473.67 122.00,474.13 123.75,474.07 125.50,474.54 127.25,474.19 129.00,474.74 130.50,474.92 132.00,475.46 133.75,475.26 135.50,475.28 137.25,475.03 139.00,474.88 141.00,476.05 142.50,475.70 144.00,476.05 145.50,475.74 147.00,476.22 148.50,476.20 150.00,476.10 151.60,474.50 152.80,480.80 156.00,480.80 157.67,480.79 159.33,480.68 161.00,480.48 162.67,480.43 164.33,480.06 166.00,480.09 167.67,480.12 169.33,479.74 171.00,479.93 172.67,479.80 174.33,479.48 176.00,479.40 177.80,479.00 179.60,478.00 180.80,480.20 182.60,486.40 183.50,443.80 184.30,488.90 185.50,489.20 187.88,489.16 190.25,489.19 192.62,489.17 195.00,489.35 197.38,489.17 199.75,489.06 202.12,489.08 204.50,489.27 206.88,489.35 209.25,489.20 211.62,489.20 214.00,489.22 216.38,489.27 218.75,489.12 221.12,489.23 225.00,489.20 225.90,487.80 226.50,488.40 227.20,471.00 227.80,489.60 230.00,489.80 231.88,489.84 233.76,489.88 235.64,489.76 237.52,489.78 239.40,489.85 241.28,490.05 243.16,489.89 245.04,489.99 246.92,489.92 248.80,490.00 249.25,490.01 249.80,486.18 250.35,490.05 250.45,490.05 251.00,488.32 251.55,490.08 252.75,490.12 253.30,488.74 253.85,490.15 254.45,490.17 255.00,486.69 255.55,490.20 256.45,490.23 257.00,488.50 257.55,490.26 258.45,490.29 259.00,486.81 259.55,490.32 260.45,490.35 261.00,489.32 261.55,490.38 263.35,490.80 263.90,489.56 264.45,491.12 266.85,491.84 267.40,491.16 267.95,492.16 271.85,493.32 272.40,492.50 272.95,493.65 276.50,494.70" fill="none" stroke="#ef343c" stroke-width="1.4" stroke-linejoin="round" stroke-linecap="round" />
<polyline points="40.00,506.50 43.00,508.91 48.00,511.33 54.00,513.30 60.50,513.60 61.50,512.48 62.50,514.80 64.00,515.20 65.42,515.21 66.85,514.46 68.28,514.13 69.70,514.46 71.12,513.71 72.55,513.41 73.97,513.47 75.40,513.03 76.83,513.09 78.25,512.44 79.67,512.62 81.10,511.97 82.53,511.88 83.95,511.82 85.38,511.41 86.80,511.29 88.22,510.90 89.65,510.25 91.08,510.49 92.50,510.00 93.30,508.69 94.60,509.80 96.50,509.40 97.50,508.27 98.40,509.90 100.90,509.04 103.40,510.90 105.50,507.70 107.50,514.80 109.20,515.10 109.20,514.96 110.74,514.78 112.29,514.69 113.83,515.07 115.37,514.90 116.91,515.09 118.46,514.98 120.00,515.08 122.00,515.95 123.75,516.12 125.50,516.16 127.25,516.04 129.00,516.55 130.50,516.81 132.00,517.74 133.75,517.76 135.50,517.48 137.25,517.08 139.00,517.40 141.00,518.23 142.50,517.98 144.00,517.93 145.50,518.26 147.00,518.00 148.50,518.57 150.00,518.50 151.60,516.90 152.80,522.50 156.00,522.50 157.67,522.44 159.33,522.39 161.00,522.29 162.67,522.33 164.33,522.38 166.00,522.07 167.67,522.04 169.33,522.07 171.00,521.89 172.67,521.96 174.33,521.88 176.00,521.80 177.80,521.40 179.60,519.90 180.80,522.60 182.60,528.80 183.50,489.20 184.30,530.50 185.50,530.80 187.88,530.78 190.25,530.85 192.62,530.81 195.00,530.68 197.38,530.95 199.75,530.76 202.12,530.78 204.50,530.77 206.88,530.93 209.25,530.94 211.62,530.80 214.00,530.77 216.38,530.68 218.75,530.92 221.12,530.70 225.00,530.80 225.90,529.40 226.50,530.00 227.20,517.60 227.80,531.20 230.00,531.40 231.88,531.40 233.76,531.33 235.64,531.32 237.52,531.32 239.40,531.26 241.28,531.20 243.16,531.34 245.04,531.41 246.92,531.35 248.80,531.30 249.25,531.31 249.80,527.48 250.35,531.35 250.45,531.35 251.00,529.62 251.55,531.38 252.75,531.42 253.30,530.03 253.85,531.45 254.45,531.47 255.00,527.99 255.55,531.50 256.45,531.53 257.00,529.80 257.55,531.56 258.45,531.59 259.00,528.11 259.55,531.62 260.45,531.65 261.00,530.62 261.55,531.68 263.35,532.10 263.90,530.86 264.45,532.42 266.85,533.14 267.40,532.46 267.95,533.46 271.85,534.62 272.40,533.80 272.95,534.95 276.50,536.00" fill="none" stroke="#3a3a3a" stroke-width="1.4" stroke-linejoin="round" stroke-linecap="round" />
<polyline points="40.00,619.50 43.00,620.79 48.00,622.08 54.00,623.00 60.50,623.30 61.50,621.70 62.50,624.50 64.00,624.90 65.42,624.71 66.85,624.34 68.28,623.97 69.70,624.13 71.12,623.65 72.55,623.46 73.97,623.33 75.40,623.26 76.83,623.26 78.25,622.73 79.67,622.83 81.10,622.62 82.53,621.95 83.95,621.63 85.38,621.47 86.80,621.67 88.22,621.30 89.65,621.28 91.08,621.10 92.50,620.60 93.30,618.90 94.60,620.40 96.50,620.00 97.50,619.00 98.40,620.50 100.90,619.40 103.40,621.50 105.50,616.00 107.50,624.70 109.20,625.00 109.20,624.80 110.74,624.73 112.29,624.45 113.83,624.42 115.37,624.89 116.91,624.81 118.46,624.86 120.00,624.74 122.00,624.89 123.75,624.88 125.50,625.04 127.25,624.58 129.00,624.82 130.50,624.76 132.00,625.12 133.75,625.14 135.50,624.76 137.25,624.65 139.00,624.74 141.00,624.86 142.50,625.13 144.00,624.92 145.50,625.13 147.00,624.86 148.50,625.00 150.00,625.00 151.60,623.40 152.80,626.10 156.00,626.10 157.67,625.83 159.33,625.88 161.00,625.68 162.67,625.69 164.33,625.58 166.00,625.26 167.67,624.93 169.33,625.15 171.00,625.01 172.67,624.67 174.33,624.54 176.00,624.40 177.80,624.00 179.60,622.20 180.80,625.20 182.60,630.10 183.50,582.30 184.30,631.10 185.50,631.40 187.88,631.53 190.25,631.33 192.62,631.33 195.00,631.46 197.38,631.45 199.75,631.46 202.12,631.50 204.50,631.40 206.88,631.38 209.25,631.32 211.62,631.31 214.00,631.36 216.38,631.38 218.75,631.47 221.12,631.44 225.00,631.40 225.90,629.40 226.50,630.60 227.20,628.50 227.80,631.80 230.00,632.00 231.88,631.93 233.76,631.82 235.64,631.83 237.52,631.68 239.40,631.74 241.28,631.62 243.16,631.57 245.04,631.40 246.92,631.38 248.80,631.30 249.25,631.31 249.80,625.83 250.35,631.35 250.45,631.35 251.00,628.87 251.55,631.38 252.75,631.42 253.30,629.43 253.85,631.45 254.45,631.47 255.00,626.49 255.55,631.50 256.45,631.53 257.00,629.05 257.55,631.56 258.45,631.59 259.00,626.61 259.55,631.62 260.45,631.65 261.00,630.17 261.55,631.68 263.35,632.01 263.90,630.14 264.45,632.27 266.85,632.83 267.40,631.76 267.95,633.09 271.85,634.01 272.40,632.74 272.95,634.27 276.50,635.10" fill="none" stroke="#2874dc" stroke-width="1.4" stroke-linejoin="round" stroke-linecap="round" />
<polyline points="40.00,657.30 43.00,659.41 48.00,661.52 54.00,663.20 60.50,663.50 61.50,662.38 62.50,664.70 64.00,665.10 65.42,664.51 66.85,664.27 68.28,664.14 69.70,664.01 71.12,663.38 72.55,663.07 73.97,662.84 75.40,662.85 76.83,662.19 78.25,662.24 79.67,661.90 81.10,661.28 82.53,661.22 83.95,660.87 85.38,660.55 86.80,660.60 88.22,659.76 89.65,659.41 91.08,659.66 92.50,659.10 93.30,657.79 94.60,658.90 96.50,658.50 97.50,657.09 98.40,659.00 100.90,658.14 103.40,660.00 105.50,656.40 107.50,663.50 109.20,663.80 109.20,663.50 110.74,663.37 112.29,663.44 113.83,663.45 115.37,663.80 116.91,663.34 118.46,663.34 120.00,663.55 122.00,664.10 123.75,664.39 125.50,664.37 127.25,664.13 129.00,664.08 130.50,664.79 132.00,665.22 133.75,664.60 135.50,664.97 137.25,665.00 139.00,664.83 141.00,665.04 142.50,665.41 144.00,665.39 145.50,665.08 147.00,665.37 148.50,665.14 150.00,665.40 151.60,663.80 152.80,669.20 156.00,669.20 157.67,668.86 159.33,668.83 161.00,668.68 162.67,668.56 164.33,668.51 166.00,668.44 167.67,668.34 169.33,668.20 171.00,668.06 172.67,667.82 174.33,667.47 176.00,667.40 177.80,667.00 179.60,665.70 180.80,668.20 182.60,674.10 183.50,632.00 184.30,676.30 185.50,676.60 187.88,676.39 190.25,676.41 192.62,676.28 195.00,676.20 197.38,675.92 199.75,675.83 202.12,675.94 204.50,675.73 206.88,675.65 209.25,675.35 211.62,675.33 214.00,675.37 216.38,675.18 218.75,675.17 221.12,674.82 225.00,674.80 225.90,673.40 226.50,674.00 227.20,651.60 227.80,680.00 230.00,680.20 231.88,680.22 233.76,680.35 235.64,680.27 237.52,680.41 239.40,680.37 241.28,680.27 243.16,680.29 245.04,680.58 246.92,680.36 248.80,680.50 249.25,680.51 249.80,676.68 250.35,680.55 250.45,680.55 251.00,678.82 251.55,680.58 252.75,680.62 253.30,679.24 253.85,680.65 254.45,680.67 255.00,677.19 255.55,680.70 256.45,680.73 257.00,679.00 257.55,680.76 258.45,680.79 259.00,677.31 259.55,680.82 260.45,680.85 261.00,679.82 261.55,680.88 263.35,681.12 263.90,679.81 264.45,681.30 266.85,681.70 267.40,680.95 267.95,681.88 271.85,682.53 272.40,681.64 272.95,682.71 276.50,683.30" fill="none" stroke="#ef343c" stroke-width="1.4" stroke-linejoin="round" stroke-linecap="round" />
<polyline points="40.00,690.40 43.00,693.29 48.00,696.18 54.00,698.60 60.50,698.90 61.50,697.78 62.50,700.10 64.00,700.50 65.42,699.98 66.85,699.79 68.28,699.57 69.70,699.66 71.12,699.15 72.55,699.01 73.97,698.37 75.40,698.35 76.83,698.28 78.25,697.81 79.67,697.80 81.10,697.49 82.53,696.91 83.95,696.42 85.38,696.60 86.80,695.96 88.22,695.62 89.65,695.78 91.08,695.58 92.50,695.10 93.30,693.79 94.60,694.90 96.50,694.50 97.50,693.02 98.40,695.00 100.90,694.14 103.40,696.00 105.50,692.30 107.50,700.60 109.20,700.90 109.20,700.92 110.74,700.97 112.29,700.50 113.83,700.42 115.37,700.42 116.91,700.92 118.46,700.38 120.00,700.40 122.00,701.48 123.75,701.60 125.50,701.69 127.25,701.97 129.00,701.96 130.50,702.73 132.00,703.78 133.75,703.23 135.50,703.52 137.25,703.38 139.00,703.18 141.00,704.16 142.50,704.31 144.00,704.24 145.50,704.06 147.00,704.16 148.50,704.15 150.00,704.50 151.60,702.90 152.80,709.20 156.00,709.20 157.67,709.06 159.33,709.20 161.00,708.87 162.67,708.62 164.33,708.69 166.00,708.73 167.67,708.48 169.33,708.48 171.00,708.13 172.67,708.02 174.33,708.17 176.00,708.00 177.80,707.60 179.60,705.90 180.80,708.80 182.60,714.80 183.50,677.60 184.30,717.20 185.50,717.50 187.88,717.36 190.25,717.44 192.62,717.47 195.00,717.41 197.38,717.36 199.75,717.35 202.12,717.64 204.50,717.56 206.88,717.64 209.25,717.50 211.62,717.64 214.00,717.61 216.38,717.54 218.75,717.51 221.12,717.50 225.00,717.50 225.90,716.10 226.50,716.70 227.20,705.30 227.80,717.90 230.00,718.10 231.88,718.04 233.76,718.10 235.64,718.23 237.52,718.09 239.40,718.30 241.28,718.22 243.16,718.27 245.04,718.36 246.92,718.32 248.80,718.30 249.25,718.31 249.80,714.48 250.35,718.35 250.45,718.35 251.00,716.62 251.55,718.38 252.75,718.42 253.30,717.03 253.85,718.45 254.45,718.47 255.00,714.99 255.55,718.50 256.45,718.53 257.00,716.80 257.55,718.56 258.45,718.59 259.00,715.11 259.55,718.62 260.45,718.65 261.00,717.62 261.55,718.68 263.35,719.14 263.90,717.93 264.45,719.51 266.85,720.30 267.40,719.65 267.95,720.67 271.85,721.96 272.40,721.16 272.95,722.32 276.50,723.50" fill="none" stroke="#3a3a3a" stroke-width="1.4" stroke-linejoin="round" stroke-linecap="round" />
<text x="34.60" y="20.00" font-size="13.6" text-anchor="start" >Control</text>
<text x="274.30" y="19.90" font-size="13.0" text-anchor="end" >(a)</text>
<text x="37.20" y="53.30" font-size="10" text-anchor="start" >&lt; 53 µm</text>
<text x="37.00" y="85.20" font-size="10" text-anchor="start" >53-250 µm</text>
<text x="37.10" y="125.80" font-size="10" text-anchor="start" >&gt; 250 µm</text>
<text x="109.90" y="47.60" font-size="9.8" text-anchor="start" >OKL1</text>
<line x1="110.60" y1="49.30" x2="105.20" y2="56.40" stroke="#111" stroke-width="0.8"/>
<text x="196.50" y="30.50" font-size="9.8" text-anchor="start" >O1s</text>
<line x1="192.50" y1="28.50" x2="184.20" y2="32.20" stroke="#111" stroke-width="0.8"/>
<text x="202.70" y="56.80" font-size="9.8" text-anchor="start" >Cd3d</text>
<line x1="213.60" y1="61.40" x2="208.70" y2="72.80" stroke="#111" stroke-width="0.8"/>
<text x="230.50" y="52.50" font-size="9.8" text-anchor="start" >C1s</text>
<line x1="231.80" y1="55.00" x2="227.60" y2="62.60" stroke="#111" stroke-width="0.8"/>
<text x="244.00" y="62.80" font-size="9.8" text-anchor="start" >P2p</text>
<line x1="254.50" y1="64.10" x2="253.60" y2="72.80" stroke="#111" stroke-width="0.8"/>
<text x="256.00" y="52.50" font-size="9.8" text-anchor="start" >As3d</text>
<line x1="272.70" y1="57.70" x2="270.00" y2="75.00" stroke="#111" stroke-width="0.8"/>
<text x="38.20" y="208.40" font-size="13.6" text-anchor="start" >PDP</text>
<text x="274.00" y="208.70" font-size="13.0" text-anchor="end" >(b)</text>
<text x="37.60" y="235.30" font-size="10" text-anchor="start" >&lt; 53 µm</text>
<text x="37.00" y="273.20" font-size="10" text-anchor="start" >53-250 µm</text>
<text x="38.30" y="315.80" font-size="10" text-anchor="start" >&gt; 250 µm</text>
<text x="107.40" y="221.60" font-size="9.8" text-anchor="start" >OKL1</text>
<line x1="111.00" y1="223.60" x2="105.20" y2="232.40" stroke="#111" stroke-width="0.8"/>
<text x="194.60" y="210.50" font-size="9.8" text-anchor="start" >O1s</text>
<line x1="192.20" y1="210.90" x2="184.50" y2="215.30" stroke="#111" stroke-width="0.8"/>
<text x="201.80" y="240.40" font-size="9.8" text-anchor="start" >Cd3d</text>
<line x1="210.50" y1="243.60" x2="206.40" y2="254.30" stroke="#111" stroke-width="0.8"/>
<text x="228.50" y="240.40" font-size="9.8" text-anchor="start" >C1s</text>
<line x1="231.70" y1="242.80" x2="226.30" y2="253.50" stroke="#111" stroke-width="0.8"/>
<text x="247.30" y="247.70" font-size="9.8" text-anchor="start" >P2p</text>
<line x1="254.60" y1="249.40" x2="253.50" y2="255.10" stroke="#111" stroke-width="0.8"/>
<text x="255.10" y="233.80" font-size="9.8" text-anchor="start" >As3d</text>
<line x1="270.50" y1="237.90" x2="268.20" y2="259.20" stroke="#111" stroke-width="0.8"/>
<text x="37.80" y="396.00" font-size="13.6" text-anchor="start" >SSP</text>
<text x="275.40" y="394.80" font-size="13.0" text-anchor="end" >(c)</text>
<text x="37.60" y="428.10" font-size="10" text-anchor="start" >&lt; 53 µm</text>
<text x="37.00" y="461.20" font-size="10" text-anchor="start" >53-250 µm</text>
<text x="38.00" y="502.50" font-size="10" text-anchor="start" >&gt; 250 µm</text>
<text x="109.90" y="417.10" font-size="9.8" text-anchor="start" >OKL1</text>
<line x1="111.90" y1="419.30" x2="105.90" y2="428.40" stroke="#111" stroke-width="0.8"/>
<text x="194.10" y="398.50" font-size="9.8" text-anchor="start" >O1s</text>
<line x1="191.80" y1="399.20" x2="184.20" y2="403.50" stroke="#111" stroke-width="0.8"/>
<text x="198.50" y="427.90" font-size="9.8" text-anchor="start" >Cd3d</text>
<line x1="209.30" y1="432.50" x2="204.40" y2="443.90" stroke="#111" stroke-width="0.8"/>
<text x="225.70" y="427.90" font-size="9.8" text-anchor="start" >C1s</text>
<line x1="232.90" y1="431.60" x2="226.30" y2="443.10" stroke="#111" stroke-width="0.8"/>
<text x="248.80" y="434.10" font-size="9.8" text-anchor="start" >P2p</text>
<line x1="255.10" y1="434.90" x2="253.00" y2="443.90" stroke="#111" stroke-width="0.8"/>
<text x="254.50" y="420.20" font-size="9.8" text-anchor="start" >As3d</text>
<line x1="271.30" y1="425.10" x2="268.60" y2="446.40" stroke="#111" stroke-width="0.8"/>
<text x="38.20" y="583.60" font-size="13.6" text-anchor="start" >GPR</text>
<text x="274.80" y="582.10" font-size="13.0" text-anchor="end" >(d)</text>
<text x="40.00" y="614.60" font-size="10" text-anchor="start" >&lt; 53 µm</text>
<text x="36.60" y="651.00" font-size="10" text-anchor="start" >53-250 µm</text>
<text x="37.60" y="687.90" font-size="10" text-anchor="start" >&gt; 250 µm</text>
<text x="107.00" y="605.30" font-size="9.8" text-anchor="start" >OKL1</text>
<line x1="110.60" y1="608.00" x2="105.20" y2="616.00" stroke="#111" stroke-width="0.8"/>
<text x="193.60" y="588.80" font-size="9.8" text-anchor="start" >O1s</text>
<line x1="192.20" y1="587.00" x2="184.40" y2="591.40" stroke="#111" stroke-width="0.8"/>
<text x="199.50" y="616.30" font-size="9.8" text-anchor="start" >Cd3d</text>
<line x1="209.60" y1="619.30" x2="205.10" y2="630.70" stroke="#111" stroke-width="0.8"/>
<text x="225.70" y="616.30" font-size="9.8" text-anchor="start" >C1s</text>
<line x1="231.70" y1="619.00" x2="226.80" y2="629.10" stroke="#111" stroke-width="0.8"/>
<text x="245.60" y="619.30" font-size="9.8" text-anchor="start" >P2p</text>
<line x1="254.60" y1="622.90" x2="253.80" y2="629.10" stroke="#111" stroke-width="0.8"/>
<text x="253.80" y="607.00" font-size="9.8" text-anchor="start" >As3d</text>
<line x1="271.00" y1="611.90" x2="268.60" y2="632.40" stroke="#111" stroke-width="0.8"/>
<polyline points="294.70,36.60 299.50,37.40 308.90,41.40 319.60,37.80 325.50,39.00 333.70,41.40 342.00,40.70 349.10,38.30 358.60,39.70 366.80,39.70 377.50,43.00 384.60,42.60 391.70,43.70 405.80,40.20 410.00,41.70 417.40,44.70 427.20,42.20 441.90,40.50 450.50,44.90 456.60,42.20 470.10,40.50 483.60,44.70 493.50,44.70 504.50,43.00 513.10,44.20 530.30,41.20 538.50,42.20" fill="none" stroke="#9c9c9c" stroke-width="0.85" stroke-linejoin="round" stroke-linecap="round" />
<polyline points="294.70,83.90 299.50,84.60 308.90,89.80 318.40,91.00 329.00,92.70 333.70,89.40 339.60,91.00 349.10,93.90 352.60,91.00 359.70,91.70 363.30,90.30 370.40,92.70 377.50,85.10 383.40,91.00 388.10,91.00 392.80,94.60 398.70,88.70 408.20,91.00 410.00,92.00 424.70,92.80 434.50,90.30 446.80,98.20 450.50,95.70 455.40,97.70 461.50,92.00 470.10,90.80 484.90,96.20 488.50,93.30 498.40,91.30 504.50,93.30 514.30,99.40 525.40,94.50 538.50,89.60" fill="none" stroke="#9c9c9c" stroke-width="0.85" stroke-linejoin="round" stroke-linecap="round" />
<polyline points="294.70,137.10 299.50,140.00 308.90,137.10 314.80,134.80 320.70,138.30 329.00,144.70 333.70,137.60 343.20,135.90 352.60,142.30 358.60,133.60 364.50,140.00 370.40,141.80 378.70,143.00 382.70,133.60 388.10,141.80 392.80,140.70 402.30,146.10 408.20,144.70 416.00,136.40 422.30,142.40 427.20,138.70 434.50,146.00 446.80,143.60 459.10,143.60 466.50,146.00 475.00,147.30 481.20,138.00 486.10,143.60 503.30,138.70 510.60,144.80 520.50,148.50 531.50,146.00 538.50,139.90" fill="none" stroke="#9c9c9c" stroke-width="0.85" stroke-linejoin="round" stroke-linecap="round" />
<polyline points="313.50,235.80 323.30,200.70 330.70,215.60 337.50,229.80 343.30,220.20 350.00,212.00 354.00,218.00 358.50,227.60 364.00,221.00 369.50,215.60 376.00,212.00 381.50,216.20 386.00,209.00 391.30,203.10 400.00,218.90 405.00,214.00 410.00,217.50 418.00,210.00 426.50,204.00 430.10,203.30 436.00,225.70 445.50,218.60 449.00,224.60 453.70,218.60 458.50,225.70 463.20,223.40 470.30,242.30 478.00,243.00 485.70,242.30 490.40,232.80 499.80,239.90 507.00,237.60 514.00,234.00 520.00,235.20 524.70,244.60 529.40,232.80 535.30,234.00 538.50,232.50" fill="none" stroke="#9c9c9c" stroke-width="0.85" stroke-linejoin="round" stroke-linecap="round" />
<polyline points="294.50,271.30 298.60,273.60 304.30,274.80 308.90,278.20 313.50,269.70 318.10,277.10 333.00,276.00 337.50,256.50 342.10,267.90 347.80,273.60 354.00,268.00 360.40,266.80 365.00,267.90 370.00,269.00 375.30,266.80 379.90,262.20 384.50,269.10 388.00,264.50 393.70,269.10 401.70,266.10 407.40,270.20 413.10,274.80 420.00,277.10 426.00,279.00 433.60,280.50 437.20,268.60 445.50,267.50 450.20,269.80 454.90,287.60 462.00,288.70 469.10,271.00 475.00,281.60 480.90,284.00 485.70,280.50 491.00,284.00 499.80,291.10 504.60,294.60 509.30,293.50 514.00,297.50 521.10,295.80 528.20,298.90 533.00,297.00 538.50,298.00" fill="none" stroke="#9c9c9c" stroke-width="0.85" stroke-linejoin="round" stroke-linecap="round" />
<polyline points="294.50,328.60 298.60,321.80 304.30,330.90 307.70,332.10 343.30,332.10 347.80,321.80 352.40,321.10 357.00,330.90 364.00,327.00 371.00,323.00 378.80,321.80 384.00,318.00 390.20,317.20 396.00,312.60 401.70,317.20 408.00,318.50 414.30,318.30 418.30,326.00 421.80,321.30 428.00,322.00 436.00,321.00 445.50,323.60 453.70,320.80 458.00,326.00 464.40,330.70 471.50,322.50 477.40,330.70 485.70,340.20 493.00,342.00 505.00,346.00 516.00,348.00 528.20,349.60 535.30,343.70 538.80,335.50" fill="none" stroke="#9c9c9c" stroke-width="0.85" stroke-linejoin="round" stroke-linecap="round" />
<polyline points="294.50,412.80 299.70,405.90 304.00,404.50 308.90,403.60 314.60,413.90 319.20,411.60 324.90,409.30 328.50,412.50 333.00,410.00 337.00,412.00 342.10,409.30 346.00,411.50 351.00,408.50 356.00,407.50 362.70,405.90 367.00,404.50 371.90,401.30 378.80,397.90 384.50,399.50 390.20,403.60 395.00,402.50 401.70,397.90 408.50,397.20 415.40,400.20 420.00,402.00 428.90,403.10 436.00,406.00 444.30,411.40 447.80,403.10 452.60,412.60 461.00,417.00 470.00,421.00 477.40,426.70 481.00,425.00 485.70,420.80 490.40,418.50 496.30,429.10 500.00,428.00 504.60,418.50 508.00,421.00 511.70,431.50 516.00,430.00 523.50,422.00 528.00,424.00 532.90,431.50 538.50,431.50" fill="none" stroke="#9c9c9c" stroke-width="0.85" stroke-linejoin="round" stroke-linecap="round" />
<polyline points="300.90,470.50 305.50,454.50 308.90,449.20 313.50,454.50 318.10,448.70 322.60,457.90 326.10,464.80 330.70,463.60 334.10,470.50 339.80,456.80 344.40,455.60 350.00,457.00 354.70,464.80 360.00,462.00 365.00,447.60 370.70,463.60 376.00,461.00 381.10,453.30 384.50,447.60 390.20,456.80 394.80,460.20 400.50,451.00 406.30,445.30 410.80,437.30 415.40,440.70 417.10,448.00 421.80,439.70 425.00,440.00 431.30,458.60 438.00,463.00 446.50,459.50 454.20,468.70 460.70,468.20 466.70,456.20 471.60,455.60 478.60,478.70 487.00,482.00 496.00,471.50 505.50,482.00 511.00,476.00 516.00,482.50 525.50,472.50 533.00,484.00 538.50,485.00" fill="none" stroke="#9c9c9c" stroke-width="0.85" stroke-linejoin="round" stroke-linecap="round" />
<polyline points="294.50,495.30 298.00,503.00 302.00,515.90 306.00,516.00 314.60,488.40 319.20,497.60 323.80,517.10 330.00,517.00 337.50,506.80 342.00,508.00 349.00,502.20 354.00,508.00 360.40,513.60 367.00,516.00 374.00,514.00 381.00,514.00 386.00,510.00 392.50,503.30 397.10,517.10 402.00,507.00 407.40,491.90 413.10,507.90 418.00,508.00 422.00,512.00 428.90,515.70 436.00,506.30 441.00,507.50 447.80,514.60 452.60,524.00 458.50,512.20 463.20,507.50 467.90,520.50 471.50,528.70 477.40,516.90 482.10,507.50 488.00,512.20 491.00,510.00 495.10,518.10 501.00,528.70 505.70,538.20 510.00,538.00 514.00,535.80 519.00,538.00 525.80,533.50 529.00,535.00 532.90,541.70 538.50,540.00" fill="none" stroke="#9c9c9c" stroke-width="0.85" stroke-linejoin="round" stroke-linecap="round" />
<polyline points="304.30,598.60 309.00,596.00 314.60,592.90 320.30,596.30 328.40,588.30 335.00,593.00 342.10,598.60 348.00,597.00 355.00,595.00 361.60,592.90 368.00,591.00 375.00,589.00 382.20,585.60 387.90,588.30 394.80,592.90 401.00,595.50 408.00,597.00 415.00,599.50 422.00,601.00 430.00,602.00 437.20,603.10 443.10,594.80 447.00,596.00 452.60,604.30 460.00,606.50 470.30,609.00 476.20,603.10 480.90,612.60 490.00,615.50 498.00,617.50 504.60,619.60 509.00,616.00 514.00,610.20 519.00,612.00 525.80,619.60 531.70,616.10 536.50,620.80 538.50,619.00" fill="none" stroke="#9c9c9c" stroke-width="0.85" stroke-linejoin="round" stroke-linecap="round" />
<polyline points="294.50,648.60 299.70,632.60 305.00,637.00 310.00,641.80 313.00,642.00 316.90,654.40 324.00,654.40 329.50,645.20 334.00,644.00 338.70,634.90 342.10,641.80 345.50,639.50 351.30,654.40 356.00,647.00 361.00,642.00 367.30,634.90 373.00,632.50 381.00,639.00 390.20,639.50 396.00,650.00 402.00,643.00 406.00,633.00 410.00,624.70 415.00,635.00 420.60,647.20 426.50,641.30 431.00,653.00 440.70,661.40 450.20,641.30 455.00,648.00 459.60,651.90 465.00,650.00 471.50,633.00 477.00,643.00 483.30,655.50 490.00,662.00 499.80,663.70 504.60,667.30 510.00,652.00 520.00,633.00 525.80,653.10 530.60,664.90 535.30,653.10 538.50,658.00" fill="none" stroke="#9c9c9c" stroke-width="0.85" stroke-linejoin="round" stroke-linecap="round" />
<polyline points="294.50,700.00 300.90,698.60 308.90,695.20 314.60,699.80 320.00,698.00 328.40,685.60 335.00,694.00 341.00,702.10 347.00,693.00 353.60,679.20 359.30,688.30 362.70,695.20 370.00,694.50 378.80,694.00 383.00,697.00 388.00,699.00 392.50,696.30 399.00,695.00 406.30,699.80 411.00,696.00 416.60,688.30 421.00,690.00 426.50,692.50 433.60,700.70 440.00,698.00 445.00,702.00 451.40,696.00 457.00,701.00 464.40,709.00 471.00,702.00 478.60,692.50 483.00,698.00 489.20,709.00 493.90,705.50 499.00,710.00 505.70,719.60 509.00,712.00 514.00,700.70 519.00,709.00 525.00,718.00 530.60,726.70 535.30,719.60 538.50,716.00" fill="none" stroke="#9c9c9c" stroke-width="0.85" stroke-linejoin="round" stroke-linecap="round" />
<line x1="313.2" y1="237.5" x2="313.2" y2="248.2" stroke="#f4a0a8" stroke-width="1.2"/>
<path d="M313.20,237.19 L314.81,237.23 L316.43,237.26 L318.04,237.30 L319.65,237.35 L321.26,237.39 L322.88,237.43 L324.49,237.48 L326.10,237.53 L327.72,237.58 L329.33,237.63 L330.94,237.68 L332.55,237.72 L334.17,237.76 L335.78,237.80 L337.39,237.83 L339.01,237.85 L340.62,237.87 L342.23,237.88 L343.84,237.87 L345.46,237.86 L347.07,237.83 L348.68,237.79 L350.30,237.73 L351.91,237.64 L353.52,237.54 L355.13,237.42 L356.75,237.27 L358.36,237.10 L359.97,236.91 L361.59,236.68 L363.20,236.43 L364.81,236.15 L366.42,235.84 L368.04,235.51 L369.65,235.14 L371.26,234.74 L372.88,234.31 L374.49,233.85 L376.10,233.36 L377.71,232.85 L379.33,232.30 L380.94,231.74 L382.55,231.15 L384.17,230.54 L385.78,229.92 L387.39,229.28 L389.00,228.65 L390.62,228.01 L392.23,227.37 L393.84,226.75 L395.46,226.14 L397.07,225.56 L398.68,225.01 L400.29,224.49 L401.91,224.02 L403.52,223.59 L405.13,223.21 L406.75,222.89 L408.36,222.64 L409.97,222.45 L411.58,222.33 L413.20,222.28 L414.81,222.30 L416.42,222.39 L418.04,222.56 L419.65,222.80 L421.26,223.11 L422.87,223.49 L424.49,223.93 L426.10,224.43 L427.71,224.98 L429.33,225.58 L430.94,226.23 L432.55,226.92 L434.16,227.64 L435.78,228.38 L437.39,229.15 L439.00,229.93 L440.62,230.72 L442.23,231.51 L443.84,232.30 L445.45,233.08 L447.07,233.84 L448.68,234.59 L450.29,235.32 L451.91,236.02 L453.52,236.69 L455.13,237.34 L456.74,237.95 L458.36,238.53 L459.97,239.08 L461.58,239.59 L463.20,240.07 L464.81,240.52 L466.42,240.94 L468.03,241.33 L469.65,241.69 L471.26,242.02 L472.87,242.33 L474.49,242.62 L476.10,242.88 L477.71,243.12 L479.32,243.34 L480.94,243.55 L482.55,243.74 L484.16,243.92 L485.78,244.09 L487.39,244.25 L489.00,244.40 L490.61,244.54 L492.23,244.68 L493.84,244.81 L495.45,244.94 L497.07,245.06 L498.68,245.18 L500.29,245.29 L501.90,245.40 L503.52,245.50 L505.13,245.61 L506.74,245.71 L508.36,245.81 L509.97,245.91 L511.58,246.00 L513.19,246.10 L514.81,246.20 L516.42,246.29 L518.03,246.39 L519.65,246.48 L521.26,246.58 L522.87,246.67 L524.48,246.76 L526.10,246.86 L527.71,246.95 L529.32,247.04 L530.94,247.14 L532.55,247.23 L534.16,247.32 L535.77,247.41 L537.39,247.51 L539.00,247.60 L539.00,247.60 L537.39,247.51 L535.77,247.41 L534.16,247.32 L532.55,247.23 L530.94,247.14 L529.32,247.04 L527.71,246.95 L526.10,246.86 L524.48,246.77 L522.87,246.67 L521.26,246.58 L519.65,246.49 L518.03,246.39 L516.42,246.30 L514.81,246.21 L513.19,246.12 L511.58,246.02 L509.97,245.93 L508.36,245.84 L506.74,245.74 L505.13,245.65 L503.52,245.56 L501.90,245.47 L500.29,245.37 L498.68,245.28 L497.07,245.19 L495.45,245.10 L493.84,245.00 L492.23,244.91 L490.61,244.82 L489.00,244.73 L487.39,244.64 L485.78,244.55 L484.16,244.47 L482.55,244.38 L480.94,244.30 L479.32,244.22 L477.71,244.15 L476.10,244.07 L474.49,243.99 L472.87,243.91 L471.26,243.83 L469.65,243.75 L468.03,243.68 L466.42,243.60 L464.81,243.52 L463.20,243.44 L461.58,243.37 L459.97,243.29 L458.36,243.21 L456.74,243.13 L455.13,243.05 L453.52,242.97 L451.91,242.88 L450.29,242.80 L448.68,242.71 L447.07,242.63 L445.45,242.54 L443.84,242.46 L442.23,242.37 L440.62,242.29 L439.00,242.21 L437.39,242.13 L435.78,242.05 L434.16,241.97 L432.55,241.89 L430.94,241.81 L429.33,241.74 L427.71,241.66 L426.10,241.59 L424.49,241.52 L422.87,241.44 L421.26,241.37 L419.65,241.30 L418.04,241.23 L416.42,241.16 L414.81,241.10 L413.20,241.03 L411.58,240.96 L409.97,240.90 L408.36,240.83 L406.75,240.77 L405.13,240.71 L403.52,240.64 L401.91,240.58 L400.29,240.51 L398.68,240.45 L397.07,240.38 L395.46,240.32 L393.84,240.25 L392.23,240.18 L390.62,240.12 L389.00,240.05 L387.39,239.98 L385.78,239.91 L384.17,239.85 L382.55,239.78 L380.94,239.71 L379.33,239.64 L377.71,239.57 L376.10,239.50 L374.49,239.44 L372.88,239.37 L371.26,239.31 L369.65,239.25 L368.04,239.19 L366.42,239.13 L364.81,239.07 L363.20,239.01 L361.59,238.96 L359.97,238.91 L358.36,238.86 L356.75,238.80 L355.13,238.75 L353.52,238.69 L351.91,238.63 L350.30,238.58 L348.68,238.51 L347.07,238.45 L345.46,238.39 L343.84,238.32 L342.23,238.25 L340.62,238.18 L339.01,238.11 L337.39,238.05 L335.78,237.98 L334.17,237.91 L332.55,237.84 L330.94,237.78 L329.33,237.71 L327.72,237.65 L326.10,237.58 L324.49,237.53 L322.88,237.47 L321.26,237.42 L319.65,237.37 L318.04,237.32 L316.43,237.28 L314.81,237.24 L313.20,237.20 Z" fill="url(#gR)" stroke="none"/>
<polyline points="313.20,237.19 314.81,237.23 316.43,237.26 318.04,237.30 319.65,237.35 321.26,237.39 322.88,237.43 324.49,237.48 326.10,237.53 327.72,237.58 329.33,237.63 330.94,237.68 332.55,237.72 334.17,237.76 335.78,237.80 337.39,237.83 339.01,237.85 340.62,237.87 342.23,237.88 343.84,237.87 345.46,237.86 347.07,237.83 348.68,237.79 350.30,237.73 351.91,237.64 353.52,237.54 355.13,237.42 356.75,237.27 358.36,237.10 359.97,236.91 361.59,236.68 363.20,236.43 364.81,236.15 366.42,235.84 368.04,235.51 369.65,235.14 371.26,234.74 372.88,234.31 374.49,233.85 376.10,233.36 377.71,232.85 379.33,232.30 380.94,231.74 382.55,231.15 384.17,230.54 385.78,229.92 387.39,229.28 389.00,228.65 390.62,228.01 392.23,227.37 393.84,226.75 395.46,226.14 397.07,225.56 398.68,225.01 400.29,224.49 401.91,224.02 403.52,223.59 405.13,223.21 406.75,222.89 408.36,222.64 409.97,222.45 411.58,222.33 413.20,222.28 414.81,222.30 416.42,222.39 418.04,222.56 419.65,222.80 421.26,223.11 422.87,223.49 424.49,223.93 426.10,224.43 427.71,224.98 429.33,225.58 430.94,226.23 432.55,226.92 434.16,227.64 435.78,228.38 437.39,229.15 439.00,229.93 440.62,230.72 442.23,231.51 443.84,232.30 445.45,233.08 447.07,233.84 448.68,234.59 450.29,235.32 451.91,236.02 453.52,236.69 455.13,237.34 456.74,237.95 458.36,238.53 459.97,239.08 461.58,239.59 463.20,240.07 464.81,240.52 466.42,240.94 468.03,241.33 469.65,241.69 471.26,242.02 472.87,242.33 474.49,242.62 476.10,242.88 477.71,243.12 479.32,243.34 480.94,243.55 482.55,243.74 484.16,243.92 485.78,244.09 487.39,244.25 489.00,244.40 490.61,244.54 492.23,244.68 493.84,244.81 495.45,244.94 497.07,245.06 498.68,245.18 500.29,245.29 501.90,245.40 503.52,245.50 505.13,245.61 506.74,245.71 508.36,245.81 509.97,245.91 511.58,246.00 513.19,246.10 514.81,246.20 516.42,246.29 518.03,246.39 519.65,246.48 521.26,246.58 522.87,246.67 524.48,246.76 526.10,246.86 527.71,246.95 529.32,247.04 530.94,247.14 532.55,247.23 534.16,247.32 535.77,247.41 537.39,247.51 539.00,247.60" fill="none" stroke="#f26a72" stroke-width="0.7" stroke-linejoin="round" stroke-linecap="round" />
<path d="M313.20,236.96 L314.81,236.94 L316.43,236.92 L318.04,236.89 L319.65,236.85 L321.26,236.80 L322.88,236.73 L324.49,236.65 L326.10,236.56 L327.72,236.44 L329.33,236.31 L330.94,236.16 L332.55,235.98 L334.17,235.78 L335.78,235.55 L337.39,235.29 L339.01,235.01 L340.62,234.70 L342.23,234.37 L343.84,234.02 L345.46,233.64 L347.07,233.25 L348.68,232.84 L350.30,232.42 L351.91,231.99 L353.52,231.56 L355.13,231.13 L356.75,230.71 L358.36,230.31 L359.97,229.93 L361.59,229.58 L363.20,229.26 L364.81,228.99 L366.42,228.76 L368.04,228.58 L369.65,228.46 L371.26,228.39 L372.88,228.39 L374.49,228.44 L376.10,228.55 L377.71,228.72 L379.33,228.96 L380.94,229.24 L382.55,229.58 L384.17,229.96 L385.78,230.38 L387.39,230.84 L389.00,231.33 L390.62,231.85 L392.23,232.38 L393.84,232.93 L395.46,233.48 L397.07,234.03 L398.68,234.58 L400.29,235.13 L401.91,235.66 L403.52,236.17 L405.13,236.66 L406.75,237.14 L408.36,237.59 L409.97,238.01 L411.58,238.41 L413.20,238.78 L414.81,239.13 L416.42,239.45 L418.04,239.75 L419.65,240.02 L421.26,240.28 L422.87,240.51 L424.49,240.72 L426.10,240.92 L427.71,241.10 L429.33,241.27 L430.94,241.43 L432.55,241.57 L434.16,241.70 L435.78,241.83 L437.39,241.95 L439.00,242.07 L440.62,242.18 L442.23,242.28 L443.84,242.39 L445.45,242.49 L447.07,242.58 L448.68,242.68 L450.29,242.77 L451.91,242.86 L453.52,242.95 L455.13,243.04 L456.74,243.12 L458.36,243.20 L459.97,243.28 L461.58,243.36 L463.20,243.44 L464.81,243.52 L466.42,243.60 L468.03,243.67 L469.65,243.75 L471.26,243.83 L472.87,243.91 L474.49,243.99 L476.10,244.07 L477.71,244.14 L479.32,244.22 L480.94,244.30 L482.55,244.38 L484.16,244.47 L485.78,244.55 L487.39,244.64 L489.00,244.73 L490.61,244.82 L492.23,244.91 L493.84,245.00 L495.45,245.10 L497.07,245.19 L498.68,245.28 L500.29,245.37 L501.90,245.47 L503.52,245.56 L505.13,245.65 L506.74,245.74 L508.36,245.84 L509.97,245.93 L511.58,246.02 L513.19,246.12 L514.81,246.21 L516.42,246.30 L518.03,246.39 L519.65,246.49 L521.26,246.58 L522.87,246.67 L524.48,246.77 L526.10,246.86 L527.71,246.95 L529.32,247.04 L530.94,247.14 L532.55,247.23 L534.16,247.32 L535.77,247.41 L537.39,247.51 L539.00,247.60 L539.00,247.60 L537.39,247.51 L535.77,247.41 L534.16,247.32 L532.55,247.23 L530.94,247.14 L529.32,247.04 L527.71,246.95 L526.10,246.86 L524.48,246.77 L522.87,246.67 L521.26,246.58 L519.65,246.49 L518.03,246.39 L516.42,246.30 L514.81,246.21 L513.19,246.12 L511.58,246.02 L509.97,245.93 L508.36,245.84 L506.74,245.74 L505.13,245.65 L503.52,245.56 L501.90,245.47 L500.29,245.37 L498.68,245.28 L497.07,245.19 L495.45,245.10 L493.84,245.00 L492.23,244.91 L490.61,244.82 L489.00,244.73 L487.39,244.64 L485.78,244.55 L484.16,244.47 L482.55,244.38 L480.94,244.30 L479.32,244.22 L477.71,244.15 L476.10,244.07 L474.49,243.99 L472.87,243.91 L471.26,243.83 L469.65,243.75 L468.03,243.68 L466.42,243.60 L464.81,243.52 L463.20,243.44 L461.58,243.37 L459.97,243.29 L458.36,243.21 L456.74,243.13 L455.13,243.05 L453.52,242.97 L451.91,242.88 L450.29,242.80 L448.68,242.71 L447.07,242.63 L445.45,242.54 L443.84,242.46 L442.23,242.37 L440.62,242.29 L439.00,242.21 L437.39,242.13 L435.78,242.05 L434.16,241.97 L432.55,241.89 L430.94,241.81 L429.33,241.74 L427.71,241.66 L426.10,241.59 L424.49,241.52 L422.87,241.44 L421.26,241.37 L419.65,241.30 L418.04,241.23 L416.42,241.16 L414.81,241.10 L413.20,241.03 L411.58,240.96 L409.97,240.90 L408.36,240.83 L406.75,240.77 L405.13,240.71 L403.52,240.64 L401.91,240.58 L400.29,240.51 L398.68,240.45 L397.07,240.38 L395.46,240.32 L393.84,240.25 L392.23,240.18 L390.62,240.12 L389.00,240.05 L387.39,239.98 L385.78,239.91 L384.17,239.85 L382.55,239.78 L380.94,239.71 L379.33,239.64 L377.71,239.57 L376.10,239.50 L374.49,239.44 L372.88,239.37 L371.26,239.31 L369.65,239.25 L368.04,239.19 L366.42,239.13 L364.81,239.07 L363.20,239.01 L361.59,238.96 L359.97,238.91 L358.36,238.86 L356.75,238.80 L355.13,238.75 L353.52,238.69 L351.91,238.63 L350.30,238.58 L348.68,238.51 L347.07,238.45 L345.46,238.39 L343.84,238.32 L342.23,238.25 L340.62,238.18 L339.01,238.11 L337.39,238.05 L335.78,237.98 L334.17,237.91 L332.55,237.84 L330.94,237.78 L329.33,237.71 L327.72,237.65 L326.10,237.58 L324.49,237.53 L322.88,237.47 L321.26,237.42 L319.65,237.37 L318.04,237.32 L316.43,237.28 L314.81,237.24 L313.20,237.20 Z" fill="url(#gB)" fill-opacity="0.9" stroke="none"/>
<polyline points="313.20,236.96 314.81,236.94 316.43,236.92 318.04,236.89 319.65,236.85 321.26,236.80 322.88,236.73 324.49,236.65 326.10,236.56 327.72,236.44 329.33,236.31 330.94,236.16 332.55,235.98 334.17,235.78 335.78,235.55 337.39,235.29 339.01,235.01 340.62,234.70 342.23,234.37 343.84,234.02 345.46,233.64 347.07,233.25 348.68,232.84 350.30,232.42 351.91,231.99 353.52,231.56 355.13,231.13 356.75,230.71 358.36,230.31 359.97,229.93 361.59,229.58 363.20,229.26 364.81,228.99 366.42,228.76 368.04,228.58 369.65,228.46 371.26,228.39 372.88,228.39 374.49,228.44 376.10,228.55 377.71,228.72 379.33,228.96 380.94,229.24 382.55,229.58 384.17,229.96 385.78,230.38 387.39,230.84 389.00,231.33 390.62,231.85 392.23,232.38 393.84,232.93 395.46,233.48 397.07,234.03 398.68,234.58 400.29,235.13 401.91,235.66 403.52,236.17 405.13,236.66 406.75,237.14 408.36,237.59 409.97,238.01 411.58,238.41 413.20,238.78 414.81,239.13 416.42,239.45 418.04,239.75 419.65,240.02 421.26,240.28 422.87,240.51 424.49,240.72 426.10,240.92 427.71,241.10 429.33,241.27 430.94,241.43 432.55,241.57 434.16,241.70 435.78,241.83 437.39,241.95 439.00,242.07 440.62,242.18 442.23,242.28 443.84,242.39 445.45,242.49 447.07,242.58 448.68,242.68 450.29,242.77 451.91,242.86 453.52,242.95 455.13,243.04 456.74,243.12 458.36,243.20 459.97,243.28 461.58,243.36 463.20,243.44 464.81,243.52 466.42,243.60 468.03,243.67 469.65,243.75 471.26,243.83 472.87,243.91 474.49,243.99 476.10,244.07 477.71,244.14 479.32,244.22 480.94,244.30 482.55,244.38 484.16,244.47 485.78,244.55 487.39,244.64 489.00,244.73 490.61,244.82 492.23,244.91 493.84,245.00 495.45,245.10 497.07,245.19 498.68,245.28 500.29,245.37 501.90,245.47 503.52,245.56 505.13,245.65 506.74,245.74 508.36,245.84 509.97,245.93 511.58,246.02 513.19,246.12 514.81,246.21 516.42,246.30 518.03,246.39 519.65,246.49 521.26,246.58 522.87,246.67 524.48,246.77 526.10,246.86 527.71,246.95 529.32,247.04 530.94,247.14 532.55,247.23 534.16,247.32 535.77,247.41 537.39,247.51 539.00,247.60" fill="none" stroke="#4a7fc6" stroke-width="0.9" stroke-linejoin="round" stroke-linecap="round" />
<polyline points="313.20,236.95 314.81,236.93 316.43,236.91 318.04,236.87 319.65,236.83 321.26,236.77 322.88,236.70 324.49,236.61 326.10,236.50 327.72,236.38 329.33,236.23 330.94,236.06 332.55,235.86 334.17,235.63 335.78,235.37 337.39,235.07 339.01,234.75 340.62,234.39 342.23,234.00 343.84,233.57 345.46,233.12 347.07,232.63 348.68,232.11 350.30,231.57 351.91,231.00 353.52,230.41 355.13,229.80 356.75,229.19 358.36,228.56 359.97,227.93 361.59,227.30 363.20,226.68 364.81,226.07 366.42,225.48 368.04,224.90 369.65,224.35 371.26,223.83 372.88,223.33 374.49,222.85 376.10,222.41 377.71,222.00 379.33,221.62 380.94,221.27 382.55,220.95 384.17,220.65 385.78,220.39 387.39,220.14 389.00,219.93 390.62,219.74 392.23,219.57 393.84,219.43 395.46,219.31 397.07,219.21 398.68,219.15 400.29,219.11 401.91,219.09 403.52,219.12 405.13,219.17 406.75,219.26 408.36,219.39 409.97,219.56 411.58,219.77 413.20,220.03 414.81,220.33 416.42,220.68 418.04,221.08 419.65,221.52 421.26,222.02 422.87,222.55 424.49,223.14 426.10,223.76 427.71,224.42 429.33,225.12 430.94,225.85 432.55,226.60 434.16,227.38 435.78,228.17 437.39,228.98 439.00,229.79 440.62,230.61 442.23,231.42 443.84,232.23 445.45,233.02 447.07,233.80 448.68,234.55 450.29,235.29 451.91,236.00 453.52,236.68 455.13,237.33 456.74,237.94 458.36,238.52 459.97,239.07 461.58,239.59 463.20,240.07 464.81,240.52 466.42,240.94 468.03,241.33 469.65,241.69 471.26,242.02 472.87,242.33 474.49,242.61 476.10,242.88 477.71,243.12 479.32,243.34 480.94,243.55 482.55,243.74 484.16,243.92 485.78,244.09 487.39,244.25 489.00,244.40 490.61,244.54 492.23,244.68 493.84,244.81 495.45,244.94 497.07,245.06 498.68,245.18 500.29,245.29 501.90,245.40 503.52,245.50 505.13,245.61 506.74,245.71 508.36,245.81 509.97,245.91 511.58,246.00 513.19,246.10 514.81,246.20 516.42,246.29 518.03,246.39 519.65,246.48 521.26,246.58 522.87,246.67 524.48,246.76 526.10,246.86 527.71,246.95 529.32,247.04 530.94,247.14 532.55,247.23 534.16,247.32 535.77,247.41 537.39,247.51 539.00,247.60" fill="none" stroke="#2f4d88" stroke-width="1.25" stroke-linejoin="round" stroke-linecap="round" />
<polyline points="313.20,237.20 314.81,237.24 316.43,237.28 318.04,237.32 319.65,237.37 321.26,237.42 322.88,237.47 324.49,237.53 326.10,237.58 327.72,237.65 329.33,237.71 330.94,237.78 332.55,237.84 334.17,237.91 335.78,237.98 337.39,238.05 339.01,238.11 340.62,238.18 342.23,238.25 343.84,238.32 345.46,238.39 347.07,238.45 348.68,238.51 350.30,238.58 351.91,238.63 353.52,238.69 355.13,238.75 356.75,238.80 358.36,238.86 359.97,238.91 361.59,238.96 363.20,239.01 364.81,239.07 366.42,239.13 368.04,239.19 369.65,239.25 371.26,239.31 372.88,239.37 374.49,239.44 376.10,239.50 377.71,239.57 379.33,239.64 380.94,239.71 382.55,239.78 384.17,239.85 385.78,239.91 387.39,239.98 389.00,240.05 390.62,240.12 392.23,240.18 393.84,240.25 395.46,240.32 397.07,240.38 398.68,240.45 400.29,240.51 401.91,240.58 403.52,240.64 405.13,240.71 406.75,240.77 408.36,240.83 409.97,240.90 411.58,240.96 413.20,241.03 414.81,241.10 416.42,241.16 418.04,241.23 419.65,241.30 421.26,241.37 422.87,241.44 424.49,241.52 426.10,241.59 427.71,241.66 429.33,241.74 430.94,241.81 432.55,241.89 434.16,241.97 435.78,242.05 437.39,242.13 439.00,242.21 440.62,242.29 442.23,242.37 443.84,242.46 445.45,242.54 447.07,242.63 448.68,242.71 450.29,242.80 451.91,242.88 453.52,242.97 455.13,243.05 456.74,243.13 458.36,243.21 459.97,243.29 461.58,243.37 463.20,243.44 464.81,243.52 466.42,243.60 468.03,243.68 469.65,243.75 471.26,243.83 472.87,243.91 474.49,243.99 476.10,244.07 477.71,244.15 479.32,244.22 480.94,244.30 482.55,244.38 484.16,244.47 485.78,244.55 487.39,244.64 489.00,244.73 490.61,244.82 492.23,244.91 493.84,245.00 495.45,245.10 497.07,245.19 498.68,245.28 500.29,245.37 501.90,245.47 503.52,245.56 505.13,245.65 506.74,245.74 508.36,245.84 509.97,245.93 511.58,246.02 513.19,246.12 514.81,246.21 516.42,246.30 518.03,246.39 519.65,246.49 521.26,246.58 522.87,246.67 524.48,246.77 526.10,246.86 527.71,246.95 529.32,247.04 530.94,247.14 532.55,247.23 534.16,247.32 535.77,247.41 537.39,247.51 539.00,247.60" fill="none" stroke="#2f4d88" stroke-width="1.4" stroke-linejoin="round" stroke-linecap="round" />
<path d="M294.20,278.82 L295.95,278.91 L297.70,279.01 L299.45,279.10 L301.19,279.19 L302.94,279.28 L304.69,279.36 L306.44,279.45 L308.19,279.54 L309.94,279.63 L311.69,279.71 L313.43,279.80 L315.18,279.89 L316.93,279.98 L318.68,280.07 L320.43,280.15 L322.18,280.23 L323.93,280.31 L325.67,280.39 L327.42,280.47 L329.17,280.54 L330.92,280.60 L332.67,280.66 L334.42,280.71 L336.17,280.74 L337.91,280.77 L339.66,280.79 L341.41,280.79 L343.16,280.77 L344.91,280.74 L346.66,280.70 L348.41,280.64 L350.15,280.58 L351.90,280.50 L353.65,280.41 L355.40,280.32 L357.15,280.22 L358.90,280.11 L360.65,279.99 L362.39,279.87 L364.14,279.74 L365.89,279.62 L367.64,279.49 L369.39,279.37 L371.14,279.25 L372.89,279.13 L374.63,279.01 L376.38,278.91 L378.13,278.81 L379.88,278.72 L381.63,278.64 L383.38,278.57 L385.13,278.50 L386.87,278.45 L388.62,278.40 L390.37,278.37 L392.12,278.35 L393.87,278.35 L395.62,278.36 L397.37,278.38 L399.11,278.43 L400.86,278.49 L402.61,278.58 L404.36,278.68 L406.11,278.80 L407.86,278.95 L409.61,279.11 L411.35,279.29 L413.10,279.49 L414.85,279.70 L416.60,279.92 L418.35,280.17 L420.10,280.42 L421.85,280.70 L423.59,280.98 L425.34,281.28 L427.09,281.59 L428.84,281.91 L430.59,282.25 L432.34,282.59 L434.09,282.95 L435.83,283.32 L437.58,283.69 L439.33,284.07 L441.08,284.46 L442.83,284.85 L444.58,285.25 L446.33,285.66 L448.07,286.07 L449.82,286.49 L451.57,286.92 L453.32,287.34 L455.07,287.77 L456.82,288.21 L458.57,288.64 L460.31,289.07 L462.06,289.50 L463.81,289.93 L465.56,290.35 L467.31,290.76 L469.06,291.16 L470.81,291.55 L472.55,291.94 L474.30,292.31 L476.05,292.68 L477.80,293.03 L479.55,293.38 L481.30,293.71 L483.05,294.04 L484.79,294.36 L486.54,294.66 L488.29,294.95 L490.04,295.23 L491.79,295.51 L493.54,295.77 L495.29,296.02 L497.03,296.27 L498.78,296.50 L500.53,296.73 L502.28,296.96 L504.03,297.17 L505.78,297.39 L507.53,297.59 L509.27,297.79 L511.02,297.99 L512.77,298.19 L514.52,298.37 L516.27,298.56 L518.02,298.74 L519.77,298.92 L521.51,299.10 L523.26,299.27 L525.01,299.44 L526.76,299.61 L528.51,299.78 L530.26,299.95 L532.01,300.11 L533.75,300.28 L535.50,300.44 L537.25,300.60 L539.00,300.76 L539.00,300.80 L537.25,300.65 L535.50,300.49 L533.75,300.34 L532.01,300.18 L530.26,300.03 L528.51,299.88 L526.76,299.72 L525.01,299.57 L523.26,299.41 L521.51,299.26 L519.77,299.10 L518.02,298.95 L516.27,298.80 L514.52,298.64 L512.77,298.49 L511.02,298.33 L509.27,298.18 L507.53,298.03 L505.78,297.87 L504.03,297.72 L502.28,297.56 L500.53,297.41 L498.78,297.26 L497.03,297.10 L495.29,296.95 L493.54,296.79 L491.79,296.63 L490.04,296.47 L488.29,296.31 L486.54,296.15 L484.79,295.98 L483.05,295.82 L481.30,295.65 L479.55,295.48 L477.80,295.31 L476.05,295.14 L474.30,294.97 L472.55,294.80 L470.81,294.63 L469.06,294.46 L467.31,294.29 L465.56,294.12 L463.81,293.95 L462.06,293.78 L460.31,293.61 L458.57,293.45 L456.82,293.29 L455.07,293.14 L453.32,292.99 L451.57,292.85 L449.82,292.71 L448.07,292.57 L446.33,292.44 L444.58,292.31 L442.83,292.19 L441.08,292.07 L439.33,291.95 L437.58,291.82 L435.83,291.69 L434.09,291.56 L432.34,291.43 L430.59,291.30 L428.84,291.16 L427.09,291.02 L425.34,290.87 L423.59,290.72 L421.85,290.56 L420.10,290.40 L418.35,290.23 L416.60,290.05 L414.85,289.87 L413.10,289.68 L411.35,289.49 L409.61,289.29 L407.86,289.09 L406.11,288.88 L404.36,288.67 L402.61,288.47 L400.86,288.26 L399.11,288.06 L397.37,287.85 L395.62,287.65 L393.87,287.45 L392.12,287.25 L390.37,287.05 L388.62,286.84 L386.87,286.64 L385.13,286.45 L383.38,286.25 L381.63,286.05 L379.88,285.85 L378.13,285.67 L376.38,285.48 L374.63,285.30 L372.89,285.13 L371.14,284.97 L369.39,284.81 L367.64,284.65 L365.89,284.50 L364.14,284.36 L362.39,284.22 L360.65,284.08 L358.90,283.95 L357.15,283.82 L355.40,283.68 L353.65,283.55 L351.90,283.42 L350.15,283.29 L348.41,283.16 L346.66,283.03 L344.91,282.89 L343.16,282.75 L341.41,282.60 L339.66,282.45 L337.91,282.30 L336.17,282.14 L334.42,281.98 L332.67,281.81 L330.92,281.65 L329.17,281.49 L327.42,281.33 L325.67,281.17 L323.93,281.01 L322.18,280.86 L320.43,280.71 L318.68,280.57 L316.93,280.43 L315.18,280.29 L313.43,280.16 L311.69,280.03 L309.94,279.90 L308.19,279.78 L306.44,279.66 L304.69,279.55 L302.94,279.44 L301.19,279.33 L299.45,279.23 L297.70,279.12 L295.95,279.01 L294.20,278.90 Z" fill="url(#gR)" stroke="none"/>
<polyline points="294.20,278.82 295.95,278.91 297.70,279.01 299.45,279.10 301.19,279.19 302.94,279.28 304.69,279.36 306.44,279.45 308.19,279.54 309.94,279.63 311.69,279.71 313.43,279.80 315.18,279.89 316.93,279.98 318.68,280.07 320.43,280.15 322.18,280.23 323.93,280.31 325.67,280.39 327.42,280.47 329.17,280.54 330.92,280.60 332.67,280.66 334.42,280.71 336.17,280.74 337.91,280.77 339.66,280.79 341.41,280.79 343.16,280.77 344.91,280.74 346.66,280.70 348.41,280.64 350.15,280.58 351.90,280.50 353.65,280.41 355.40,280.32 357.15,280.22 358.90,280.11 360.65,279.99 362.39,279.87 364.14,279.74 365.89,279.62 367.64,279.49 369.39,279.37 371.14,279.25 372.89,279.13 374.63,279.01 376.38,278.91 378.13,278.81 379.88,278.72 381.63,278.64 383.38,278.57 385.13,278.50 386.87,278.45 388.62,278.40 390.37,278.37 392.12,278.35 393.87,278.35 395.62,278.36 397.37,278.38 399.11,278.43 400.86,278.49 402.61,278.58 404.36,278.68 406.11,278.80 407.86,278.95 409.61,279.11 411.35,279.29 413.10,279.49 414.85,279.70 416.60,279.92 418.35,280.17 420.10,280.42 421.85,280.70 423.59,280.98 425.34,281.28 427.09,281.59 428.84,281.91 430.59,282.25 432.34,282.59 434.09,282.95 435.83,283.32 437.58,283.69 439.33,284.07 441.08,284.46 442.83,284.85 444.58,285.25 446.33,285.66 448.07,286.07 449.82,286.49 451.57,286.92 453.32,287.34 455.07,287.77 456.82,288.21 458.57,288.64 460.31,289.07 462.06,289.50 463.81,289.93 465.56,290.35 467.31,290.76 469.06,291.16 470.81,291.55 472.55,291.94 474.30,292.31 476.05,292.68 477.80,293.03 479.55,293.38 481.30,293.71 483.05,294.04 484.79,294.36 486.54,294.66 488.29,294.95 490.04,295.23 491.79,295.51 493.54,295.77 495.29,296.02 497.03,296.27 498.78,296.50 500.53,296.73 502.28,296.96 504.03,297.17 505.78,297.39 507.53,297.59 509.27,297.79 511.02,297.99 512.77,298.19 514.52,298.37 516.27,298.56 518.02,298.74 519.77,298.92 521.51,299.10 523.26,299.27 525.01,299.44 526.76,299.61 528.51,299.78 530.26,299.95 532.01,300.11 533.75,300.28 535.50,300.44 537.25,300.60 539.00,300.76" fill="none" stroke="#f26a72" stroke-width="0.7" stroke-linejoin="round" stroke-linecap="round" />
<path d="M294.20,278.66 L295.95,278.73 L297.70,278.79 L299.45,278.85 L301.19,278.90 L302.94,278.95 L304.69,278.99 L306.44,279.02 L308.19,279.05 L309.94,279.08 L311.69,279.10 L313.43,279.12 L315.18,279.12 L316.93,279.13 L318.68,279.12 L320.43,279.11 L322.18,279.10 L323.93,279.07 L325.67,279.04 L327.42,279.00 L329.17,278.96 L330.92,278.91 L332.67,278.85 L334.42,278.78 L336.17,278.71 L337.91,278.63 L339.66,278.54 L341.41,278.44 L343.16,278.34 L344.91,278.23 L346.66,278.13 L348.41,278.02 L350.15,277.92 L351.90,277.83 L353.65,277.75 L355.40,277.68 L357.15,277.62 L358.90,277.59 L360.65,277.57 L362.39,277.57 L364.14,277.59 L365.89,277.65 L367.64,277.73 L369.39,277.83 L371.14,277.97 L372.89,278.14 L374.63,278.33 L376.38,278.56 L378.13,278.81 L379.88,279.09 L381.63,279.40 L383.38,279.73 L385.13,280.08 L386.87,280.45 L388.62,280.84 L390.37,281.24 L392.12,281.66 L393.87,282.08 L395.62,282.52 L397.37,282.96 L399.11,283.41 L400.86,283.86 L402.61,284.31 L404.36,284.76 L406.11,285.21 L407.86,285.66 L409.61,286.10 L411.35,286.53 L413.10,286.94 L414.85,287.34 L416.60,287.73 L418.35,288.10 L420.10,288.46 L421.85,288.80 L423.59,289.12 L425.34,289.43 L427.09,289.72 L428.84,290.00 L430.59,290.26 L432.34,290.50 L434.09,290.74 L435.83,290.97 L437.58,291.18 L439.33,291.38 L441.08,291.58 L442.83,291.76 L444.58,291.94 L446.33,292.12 L448.07,292.29 L449.82,292.47 L451.57,292.64 L453.32,292.81 L455.07,292.99 L456.82,293.16 L458.57,293.34 L460.31,293.52 L462.06,293.71 L463.81,293.89 L465.56,294.07 L467.31,294.25 L469.06,294.43 L470.81,294.60 L472.55,294.78 L474.30,294.95 L476.05,295.12 L477.80,295.30 L479.55,295.47 L481.30,295.64 L483.05,295.81 L484.79,295.98 L486.54,296.14 L488.29,296.31 L490.04,296.47 L491.79,296.63 L493.54,296.79 L495.29,296.95 L497.03,297.10 L498.78,297.25 L500.53,297.41 L502.28,297.56 L504.03,297.72 L505.78,297.87 L507.53,298.03 L509.27,298.18 L511.02,298.33 L512.77,298.49 L514.52,298.64 L516.27,298.80 L518.02,298.95 L519.77,299.10 L521.51,299.26 L523.26,299.41 L525.01,299.57 L526.76,299.72 L528.51,299.88 L530.26,300.03 L532.01,300.18 L533.75,300.34 L535.50,300.49 L537.25,300.65 L539.00,300.80 L539.00,300.80 L537.25,300.65 L535.50,300.49 L533.75,300.34 L532.01,300.18 L530.26,300.03 L528.51,299.88 L526.76,299.72 L525.01,299.57 L523.26,299.41 L521.51,299.26 L519.77,299.10 L518.02,298.95 L516.27,298.80 L514.52,298.64 L512.77,298.49 L511.02,298.33 L509.27,298.18 L507.53,298.03 L505.78,297.87 L504.03,297.72 L502.28,297.56 L500.53,297.41 L498.78,297.26 L497.03,297.10 L495.29,296.95 L493.54,296.79 L491.79,296.63 L490.04,296.47 L488.29,296.31 L486.54,296.15 L484.79,295.98 L483.05,295.82 L481.30,295.65 L479.55,295.48 L477.80,295.31 L476.05,295.14 L474.30,294.97 L472.55,294.80 L470.81,294.63 L469.06,294.46 L467.31,294.29 L465.56,294.12 L463.81,293.95 L462.06,293.78 L460.31,293.61 L458.57,293.45 L456.82,293.29 L455.07,293.14 L453.32,292.99 L451.57,292.85 L449.82,292.71 L448.07,292.57 L446.33,292.44 L444.58,292.31 L442.83,292.19 L441.08,292.07 L439.33,291.95 L437.58,291.82 L435.83,291.69 L434.09,291.56 L432.34,291.43 L430.59,291.30 L428.84,291.16 L427.09,291.02 L425.34,290.87 L423.59,290.72 L421.85,290.56 L420.10,290.40 L418.35,290.23 L416.60,290.05 L414.85,289.87 L413.10,289.68 L411.35,289.49 L409.61,289.29 L407.86,289.09 L406.11,288.88 L404.36,288.67 L402.61,288.47 L400.86,288.26 L399.11,288.06 L397.37,287.85 L395.62,287.65 L393.87,287.45 L392.12,287.25 L390.37,287.05 L388.62,286.84 L386.87,286.64 L385.13,286.45 L383.38,286.25 L381.63,286.05 L379.88,285.85 L378.13,285.67 L376.38,285.48 L374.63,285.30 L372.89,285.13 L371.14,284.97 L369.39,284.81 L367.64,284.65 L365.89,284.50 L364.14,284.36 L362.39,284.22 L360.65,284.08 L358.90,283.95 L357.15,283.82 L355.40,283.68 L353.65,283.55 L351.90,283.42 L350.15,283.29 L348.41,283.16 L346.66,283.03 L344.91,282.89 L343.16,282.75 L341.41,282.60 L339.66,282.45 L337.91,282.30 L336.17,282.14 L334.42,281.98 L332.67,281.81 L330.92,281.65 L329.17,281.49 L327.42,281.33 L325.67,281.17 L323.93,281.01 L322.18,280.86 L320.43,280.71 L318.68,280.57 L316.93,280.43 L315.18,280.29 L313.43,280.16 L311.69,280.03 L309.94,279.90 L308.19,279.78 L306.44,279.66 L304.69,279.55 L302.94,279.44 L301.19,279.33 L299.45,279.23 L297.70,279.12 L295.95,279.01 L294.20,278.90 Z" fill="url(#gB)" fill-opacity="0.9" stroke="none"/>
<polyline points="294.20,278.66 295.95,278.73 297.70,278.79 299.45,278.85 301.19,278.90 302.94,278.95 304.69,278.99 306.44,279.02 308.19,279.05 309.94,279.08 311.69,279.10 313.43,279.12 315.18,279.12 316.93,279.13 318.68,279.12 320.43,279.11 322.18,279.10 323.93,279.07 325.67,279.04 327.42,279.00 329.17,278.96 330.92,278.91 332.67,278.85 334.42,278.78 336.17,278.71 337.91,278.63 339.66,278.54 341.41,278.44 343.16,278.34 344.91,278.23 346.66,278.13 348.41,278.02 350.15,277.92 351.90,277.83 353.65,277.75 355.40,277.68 357.15,277.62 358.90,277.59 360.65,277.57 362.39,277.57 364.14,277.59 365.89,277.65 367.64,277.73 369.39,277.83 371.14,277.97 372.89,278.14 374.63,278.33 376.38,278.56 378.13,278.81 379.88,279.09 381.63,279.40 383.38,279.73 385.13,280.08 386.87,280.45 388.62,280.84 390.37,281.24 392.12,281.66 393.87,282.08 395.62,282.52 397.37,282.96 399.11,283.41 400.86,283.86 402.61,284.31 404.36,284.76 406.11,285.21 407.86,285.66 409.61,286.10 411.35,286.53 413.10,286.94 414.85,287.34 416.60,287.73 418.35,288.10 420.10,288.46 421.85,288.80 423.59,289.12 425.34,289.43 427.09,289.72 428.84,290.00 430.59,290.26 432.34,290.50 434.09,290.74 435.83,290.97 437.58,291.18 439.33,291.38 441.08,291.58 442.83,291.76 444.58,291.94 446.33,292.12 448.07,292.29 449.82,292.47 451.57,292.64 453.32,292.81 455.07,292.99 456.82,293.16 458.57,293.34 460.31,293.52 462.06,293.71 463.81,293.89 465.56,294.07 467.31,294.25 469.06,294.43 470.81,294.60 472.55,294.78 474.30,294.95 476.05,295.12 477.80,295.30 479.55,295.47 481.30,295.64 483.05,295.81 484.79,295.98 486.54,296.14 488.29,296.31 490.04,296.47 491.79,296.63 493.54,296.79 495.29,296.95 497.03,297.10 498.78,297.25 500.53,297.41 502.28,297.56 504.03,297.72 505.78,297.87 507.53,298.03 509.27,298.18 511.02,298.33 512.77,298.49 514.52,298.64 516.27,298.80 518.02,298.95 519.77,299.10 521.51,299.26 523.26,299.41 525.01,299.57 526.76,299.72 528.51,299.88 530.26,300.03 532.01,300.18 533.75,300.34 535.50,300.49 537.25,300.65 539.00,300.80" fill="none" stroke="#4a7fc6" stroke-width="0.9" stroke-linejoin="round" stroke-linecap="round" />
<polyline points="294.20,278.57 295.95,278.63 297.70,278.68 299.45,278.72 301.19,278.76 302.94,278.78 304.69,278.80 306.44,278.81 308.19,278.81 309.94,278.80 311.69,278.79 313.43,278.76 315.18,278.73 316.93,278.68 318.68,278.62 320.43,278.55 322.18,278.47 323.93,278.38 325.67,278.27 327.42,278.15 329.17,278.01 330.92,277.86 332.67,277.70 334.42,277.51 336.17,277.31 337.91,277.10 339.66,276.87 341.41,276.62 343.16,276.36 344.91,276.09 346.66,275.80 348.41,275.51 350.15,275.21 351.90,274.91 353.65,274.61 355.40,274.31 357.15,274.03 358.90,273.75 360.65,273.48 362.39,273.22 364.14,272.98 365.89,272.76 367.64,272.57 369.39,272.39 371.14,272.25 372.89,272.13 374.63,272.04 376.38,271.98 378.13,271.95 379.88,271.96 381.63,271.99 383.38,272.05 385.13,272.14 386.87,272.26 388.62,272.40 390.37,272.57 392.12,272.76 393.87,272.98 395.62,273.22 397.37,273.49 399.11,273.78 400.86,274.09 402.61,274.42 404.36,274.77 406.11,275.13 407.86,275.52 409.61,275.92 411.35,276.33 413.10,276.75 414.85,277.17 416.60,277.61 418.35,278.04 420.10,278.49 421.85,278.94 423.59,279.39 425.34,279.84 427.09,280.29 428.84,280.75 430.59,281.21 432.34,281.67 434.09,282.13 435.83,282.59 437.58,283.05 439.33,283.51 441.08,283.96 442.83,284.42 444.58,284.88 446.33,285.33 448.07,285.79 449.82,286.25 451.57,286.71 453.32,287.17 455.07,287.62 456.82,288.08 458.57,288.53 460.31,288.98 462.06,289.42 463.81,289.86 465.56,290.29 467.31,290.71 469.06,291.12 470.81,291.52 472.55,291.91 474.30,292.29 476.05,292.66 477.80,293.02 479.55,293.37 481.30,293.71 483.05,294.03 484.79,294.35 486.54,294.65 488.29,294.95 490.04,295.23 491.79,295.50 493.54,295.77 495.29,296.02 497.03,296.27 498.78,296.50 500.53,296.73 502.28,296.96 504.03,297.17 505.78,297.39 507.53,297.59 509.27,297.79 511.02,297.99 512.77,298.19 514.52,298.37 516.27,298.56 518.02,298.74 519.77,298.92 521.51,299.10 523.26,299.27 525.01,299.44 526.76,299.61 528.51,299.78 530.26,299.95 532.01,300.11 533.75,300.28 535.50,300.44 537.25,300.60 539.00,300.76" fill="none" stroke="#2f4d88" stroke-width="1.25" stroke-linejoin="round" stroke-linecap="round" />
<polyline points="294.20,278.90 295.95,279.01 297.70,279.12 299.45,279.23 301.19,279.33 302.94,279.44 304.69,279.55 306.44,279.66 308.19,279.78 309.94,279.90 311.69,280.03 313.43,280.16 315.18,280.29 316.93,280.43 318.68,280.57 320.43,280.71 322.18,280.86 323.93,281.01 325.67,281.17 327.42,281.33 329.17,281.49 330.92,281.65 332.67,281.81 334.42,281.98 336.17,282.14 337.91,282.30 339.66,282.45 341.41,282.60 343.16,282.75 344.91,282.89 346.66,283.03 348.41,283.16 350.15,283.29 351.90,283.42 353.65,283.55 355.40,283.68 357.15,283.82 358.90,283.95 360.65,284.08 362.39,284.22 364.14,284.36 365.89,284.50 367.64,284.65 369.39,284.81 371.14,284.97 372.89,285.13 374.63,285.30 376.38,285.48 378.13,285.67 379.88,285.85 381.63,286.05 383.38,286.25 385.13,286.45 386.87,286.64 388.62,286.84 390.37,287.05 392.12,287.25 393.87,287.45 395.62,287.65 397.37,287.85 399.11,288.06 400.86,288.26 402.61,288.47 404.36,288.67 406.11,288.88 407.86,289.09 409.61,289.29 411.35,289.49 413.10,289.68 414.85,289.87 416.60,290.05 418.35,290.23 420.10,290.40 421.85,290.56 423.59,290.72 425.34,290.87 427.09,291.02 428.84,291.16 430.59,291.30 432.34,291.43 434.09,291.56 435.83,291.69 437.58,291.82 439.33,291.95 441.08,292.07 442.83,292.19 444.58,292.31 446.33,292.44 448.07,292.57 449.82,292.71 451.57,292.85 453.32,292.99 455.07,293.14 456.82,293.29 458.57,293.45 460.31,293.61 462.06,293.78 463.81,293.95 465.56,294.12 467.31,294.29 469.06,294.46 470.81,294.63 472.55,294.80 474.30,294.97 476.05,295.14 477.80,295.31 479.55,295.48 481.30,295.65 483.05,295.82 484.79,295.98 486.54,296.15 488.29,296.31 490.04,296.47 491.79,296.63 493.54,296.79 495.29,296.95 497.03,297.10 498.78,297.26 500.53,297.41 502.28,297.56 504.03,297.72 505.78,297.87 507.53,298.03 509.27,298.18 511.02,298.33 512.77,298.49 514.52,298.64 516.27,298.80 518.02,298.95 519.77,299.10 521.51,299.26 523.26,299.41 525.01,299.57 526.76,299.72 528.51,299.88 530.26,300.03 532.01,300.18 533.75,300.34 535.50,300.49 537.25,300.65 539.00,300.80" fill="none" stroke="#2f4d88" stroke-width="1.4" stroke-linejoin="round" stroke-linecap="round" />
<path d="M294.20,331.50 L295.95,331.61 L297.70,331.71 L299.45,331.82 L301.19,331.93 L302.94,332.03 L304.69,332.14 L306.44,332.25 L308.19,332.35 L309.94,332.46 L311.69,332.57 L313.43,332.67 L315.18,332.78 L316.93,332.88 L318.68,332.99 L320.43,333.09 L322.18,333.20 L323.93,333.30 L325.67,333.41 L327.42,333.51 L329.17,333.61 L330.92,333.72 L332.67,333.82 L334.42,333.92 L336.17,334.03 L337.91,334.13 L339.66,334.23 L341.41,334.33 L343.16,334.43 L344.91,334.53 L346.66,334.62 L348.41,334.71 L350.15,334.80 L351.90,334.88 L353.65,334.96 L355.40,335.03 L357.15,335.09 L358.90,335.15 L360.65,335.19 L362.39,335.22 L364.14,335.24 L365.89,335.25 L367.64,335.24 L369.39,335.21 L371.14,335.17 L372.89,335.11 L374.63,335.04 L376.38,334.94 L378.13,334.82 L379.88,334.69 L381.63,334.53 L383.38,334.35 L385.13,334.14 L386.87,333.91 L388.62,333.65 L390.37,333.37 L392.12,333.07 L393.87,332.74 L395.62,332.39 L397.37,332.02 L399.11,331.62 L400.86,331.21 L402.61,330.79 L404.36,330.35 L406.11,329.89 L407.86,329.43 L409.61,328.95 L411.35,328.48 L413.10,328.00 L414.85,327.53 L416.60,327.07 L418.35,326.63 L420.10,326.20 L421.85,325.81 L423.59,325.44 L425.34,325.10 L427.09,324.81 L428.84,324.56 L430.59,324.36 L432.34,324.21 L434.09,324.12 L435.83,324.09 L437.58,324.11 L439.33,324.20 L441.08,324.35 L442.83,324.57 L444.58,324.85 L446.33,325.19 L448.07,325.59 L449.82,326.05 L451.57,326.58 L453.32,327.16 L455.07,327.79 L456.82,328.47 L458.57,329.19 L460.31,329.96 L462.06,330.75 L463.81,331.58 L465.56,332.42 L467.31,333.27 L469.06,334.12 L470.81,334.97 L472.55,335.82 L474.30,336.66 L476.05,337.48 L477.80,338.29 L479.55,339.08 L481.30,339.84 L483.05,340.58 L484.79,341.29 L486.54,341.96 L488.29,342.59 L490.04,343.20 L491.79,343.76 L493.54,344.29 L495.29,344.78 L497.03,345.24 L498.78,345.66 L500.53,346.07 L502.28,346.45 L504.03,346.80 L505.78,347.13 L507.53,347.45 L509.27,347.74 L511.02,348.02 L512.77,348.28 L514.52,348.52 L516.27,348.76 L518.02,348.97 L519.77,349.18 L521.51,349.38 L523.26,349.57 L525.01,349.75 L526.76,349.93 L528.51,350.10 L530.26,350.26 L532.01,350.42 L533.75,350.58 L535.50,350.73 L537.25,350.87 L539.00,351.02 L539.00,351.10 L537.25,350.97 L535.50,350.85 L533.75,350.72 L532.01,350.59 L530.26,350.47 L528.51,350.34 L526.76,350.22 L525.01,350.09 L523.26,349.97 L521.51,349.85 L519.77,349.73 L518.02,349.62 L516.27,349.50 L514.52,349.39 L512.77,349.28 L511.02,349.17 L509.27,349.06 L507.53,348.95 L505.78,348.84 L504.03,348.74 L502.28,348.64 L500.53,348.54 L498.78,348.44 L497.03,348.34 L495.29,348.24 L493.54,348.13 L491.79,348.02 L490.04,347.90 L488.29,347.77 L486.54,347.63 L484.79,347.49 L483.05,347.33 L481.30,347.17 L479.55,347.01 L477.80,346.84 L476.05,346.67 L474.30,346.49 L472.55,346.31 L470.81,346.13 L469.06,345.95 L467.31,345.76 L465.56,345.57 L463.81,345.37 L462.06,345.18 L460.31,344.99 L458.57,344.80 L456.82,344.62 L455.07,344.45 L453.32,344.28 L451.57,344.12 L449.82,343.97 L448.07,343.82 L446.33,343.67 L444.58,343.53 L442.83,343.38 L441.08,343.24 L439.33,343.10 L437.58,342.95 L435.83,342.81 L434.09,342.66 L432.34,342.51 L430.59,342.35 L428.84,342.20 L427.09,342.04 L425.34,341.88 L423.59,341.71 L421.85,341.54 L420.10,341.37 L418.35,341.20 L416.60,341.02 L414.85,340.83 L413.10,340.65 L411.35,340.46 L409.61,340.27 L407.86,340.07 L406.11,339.87 L404.36,339.68 L402.61,339.48 L400.86,339.28 L399.11,339.09 L397.37,338.90 L395.62,338.72 L393.87,338.54 L392.12,338.36 L390.37,338.18 L388.62,338.02 L386.87,337.85 L385.13,337.69 L383.38,337.53 L381.63,337.38 L379.88,337.23 L378.13,337.08 L376.38,336.94 L374.63,336.80 L372.89,336.66 L371.14,336.53 L369.39,336.40 L367.64,336.27 L365.89,336.14 L364.14,336.02 L362.39,335.89 L360.65,335.76 L358.90,335.64 L357.15,335.51 L355.40,335.38 L353.65,335.26 L351.90,335.14 L350.15,335.01 L348.41,334.89 L346.66,334.77 L344.91,334.65 L343.16,334.53 L341.41,334.42 L339.66,334.30 L337.91,334.19 L336.17,334.07 L334.42,333.96 L332.67,333.85 L330.92,333.74 L329.17,333.63 L327.42,333.53 L325.67,333.42 L323.93,333.31 L322.18,333.21 L320.43,333.10 L318.68,332.99 L316.93,332.89 L315.18,332.78 L313.43,332.67 L311.69,332.57 L309.94,332.46 L308.19,332.35 L306.44,332.25 L304.69,332.14 L302.94,332.03 L301.19,331.93 L299.45,331.82 L297.70,331.71 L295.95,331.61 L294.20,331.50 Z" fill="url(#gR)" stroke="none"/>
<polyline points="294.20,331.50 295.95,331.61 297.70,331.71 299.45,331.82 301.19,331.93 302.94,332.03 304.69,332.14 306.44,332.25 308.19,332.35 309.94,332.46 311.69,332.57 313.43,332.67 315.18,332.78 316.93,332.88 318.68,332.99 320.43,333.09 322.18,333.20 323.93,333.30 325.67,333.41 327.42,333.51 329.17,333.61 330.92,333.72 332.67,333.82 334.42,333.92 336.17,334.03 337.91,334.13 339.66,334.23 341.41,334.33 343.16,334.43 344.91,334.53 346.66,334.62 348.41,334.71 350.15,334.80 351.90,334.88 353.65,334.96 355.40,335.03 357.15,335.09 358.90,335.15 360.65,335.19 362.39,335.22 364.14,335.24 365.89,335.25 367.64,335.24 369.39,335.21 371.14,335.17 372.89,335.11 374.63,335.04 376.38,334.94 378.13,334.82 379.88,334.69 381.63,334.53 383.38,334.35 385.13,334.14 386.87,333.91 388.62,333.65 390.37,333.37 392.12,333.07 393.87,332.74 395.62,332.39 397.37,332.02 399.11,331.62 400.86,331.21 402.61,330.79 404.36,330.35 406.11,329.89 407.86,329.43 409.61,328.95 411.35,328.48 413.10,328.00 414.85,327.53 416.60,327.07 418.35,326.63 420.10,326.20 421.85,325.81 423.59,325.44 425.34,325.10 427.09,324.81 428.84,324.56 430.59,324.36 432.34,324.21 434.09,324.12 435.83,324.09 437.58,324.11 439.33,324.20 441.08,324.35 442.83,324.57 444.58,324.85 446.33,325.19 448.07,325.59 449.82,326.05 451.57,326.58 453.32,327.16 455.07,327.79 456.82,328.47 458.57,329.19 460.31,329.96 462.06,330.75 463.81,331.58 465.56,332.42 467.31,333.27 469.06,334.12 470.81,334.97 472.55,335.82 474.30,336.66 476.05,337.48 477.80,338.29 479.55,339.08 481.30,339.84 483.05,340.58 484.79,341.29 486.54,341.96 488.29,342.59 490.04,343.20 491.79,343.76 493.54,344.29 495.29,344.78 497.03,345.24 498.78,345.66 500.53,346.07 502.28,346.45 504.03,346.80 505.78,347.13 507.53,347.45 509.27,347.74 511.02,348.02 512.77,348.28 514.52,348.52 516.27,348.76 518.02,348.97 519.77,349.18 521.51,349.38 523.26,349.57 525.01,349.75 526.76,349.93 528.51,350.10 530.26,350.26 532.01,350.42 533.75,350.58 535.50,350.73 537.25,350.87 539.00,351.02" fill="none" stroke="#f26a72" stroke-width="0.7" stroke-linejoin="round" stroke-linecap="round" />
<path d="M294.20,331.50 L295.95,331.61 L297.70,331.71 L299.45,331.82 L301.19,331.93 L302.94,332.03 L304.69,332.14 L306.44,332.25 L308.19,332.35 L309.94,332.46 L311.69,332.56 L313.43,332.67 L315.18,332.77 L316.93,332.88 L318.68,332.98 L320.43,333.08 L322.18,333.19 L323.93,333.29 L325.67,333.38 L327.42,333.48 L329.17,333.57 L330.92,333.66 L332.67,333.75 L334.42,333.83 L336.17,333.91 L337.91,333.99 L339.66,334.05 L341.41,334.11 L343.16,334.15 L344.91,334.18 L346.66,334.20 L348.41,334.20 L350.15,334.18 L351.90,334.15 L353.65,334.09 L355.40,334.00 L357.15,333.89 L358.90,333.75 L360.65,333.58 L362.39,333.38 L364.14,333.16 L365.89,332.90 L367.64,332.61 L369.39,332.29 L371.14,331.96 L372.89,331.61 L374.63,331.24 L376.38,330.87 L378.13,330.49 L379.88,330.12 L381.63,329.75 L383.38,329.41 L385.13,329.09 L386.87,328.81 L388.62,328.57 L390.37,328.37 L392.12,328.23 L393.87,328.15 L395.62,328.13 L397.37,328.18 L399.11,328.30 L400.86,328.49 L402.61,328.76 L404.36,329.09 L406.11,329.48 L407.86,329.94 L409.61,330.45 L411.35,331.01 L413.10,331.60 L414.85,332.24 L416.60,332.89 L418.35,333.57 L420.10,334.26 L421.85,334.95 L423.59,335.63 L425.34,336.31 L427.09,336.98 L428.84,337.62 L430.59,338.24 L432.34,338.84 L434.09,339.40 L435.83,339.94 L437.58,340.44 L439.33,340.91 L441.08,341.35 L442.83,341.76 L444.58,342.14 L446.33,342.50 L448.07,342.83 L449.82,343.14 L451.57,343.43 L453.32,343.71 L455.07,343.98 L456.82,344.24 L458.57,344.49 L460.31,344.73 L462.06,344.97 L463.81,345.21 L465.56,345.44 L467.31,345.66 L469.06,345.87 L470.81,346.07 L472.55,346.27 L474.30,346.45 L476.05,346.64 L477.80,346.82 L479.55,346.99 L481.30,347.16 L483.05,347.32 L484.79,347.48 L486.54,347.63 L488.29,347.76 L490.04,347.90 L491.79,348.02 L493.54,348.13 L495.29,348.24 L497.03,348.34 L498.78,348.44 L500.53,348.53 L502.28,348.64 L504.03,348.74 L505.78,348.84 L507.53,348.95 L509.27,349.06 L511.02,349.17 L512.77,349.28 L514.52,349.39 L516.27,349.50 L518.02,349.62 L519.77,349.73 L521.51,349.85 L523.26,349.97 L525.01,350.09 L526.76,350.22 L528.51,350.34 L530.26,350.47 L532.01,350.59 L533.75,350.72 L535.50,350.85 L537.25,350.97 L539.00,351.10 L539.00,351.10 L537.25,350.97 L535.50,350.85 L533.75,350.72 L532.01,350.59 L530.26,350.47 L528.51,350.34 L526.76,350.22 L525.01,350.09 L523.26,349.97 L521.51,349.85 L519.77,349.73 L518.02,349.62 L516.27,349.50 L514.52,349.39 L512.77,349.28 L511.02,349.17 L509.27,349.06 L507.53,348.95 L505.78,348.84 L504.03,348.74 L502.28,348.64 L500.53,348.54 L498.78,348.44 L497.03,348.34 L495.29,348.24 L493.54,348.13 L491.79,348.02 L490.04,347.90 L488.29,347.77 L486.54,347.63 L484.79,347.49 L483.05,347.33 L481.30,347.17 L479.55,347.01 L477.80,346.84 L476.05,346.67 L474.30,346.49 L472.55,346.31 L470.81,346.13 L469.06,345.95 L467.31,345.76 L465.56,345.57 L463.81,345.37 L462.06,345.18 L460.31,344.99 L458.57,344.80 L456.82,344.62 L455.07,344.45 L453.32,344.28 L451.57,344.12 L449.82,343.97 L448.07,343.82 L446.33,343.67 L444.58,343.53 L442.83,343.38 L441.08,343.24 L439.33,343.10 L437.58,342.95 L435.83,342.81 L434.09,342.66 L432.34,342.51 L430.59,342.35 L428.84,342.20 L427.09,342.04 L425.34,341.88 L423.59,341.71 L421.85,341.54 L420.10,341.37 L418.35,341.20 L416.60,341.02 L414.85,340.83 L413.10,340.65 L411.35,340.46 L409.61,340.27 L407.86,340.07 L406.11,339.87 L404.36,339.68 L402.61,339.48 L400.86,339.28 L399.11,339.09 L397.37,338.90 L395.62,338.72 L393.87,338.54 L392.12,338.36 L390.37,338.18 L388.62,338.02 L386.87,337.85 L385.13,337.69 L383.38,337.53 L381.63,337.38 L379.88,337.23 L378.13,337.08 L376.38,336.94 L374.63,336.80 L372.89,336.66 L371.14,336.53 L369.39,336.40 L367.64,336.27 L365.89,336.14 L364.14,336.02 L362.39,335.89 L360.65,335.76 L358.90,335.64 L357.15,335.51 L355.40,335.38 L353.65,335.26 L351.90,335.14 L350.15,335.01 L348.41,334.89 L346.66,334.77 L344.91,334.65 L343.16,334.53 L341.41,334.42 L339.66,334.30 L337.91,334.19 L336.17,334.07 L334.42,333.96 L332.67,333.85 L330.92,333.74 L329.17,333.63 L327.42,333.53 L325.67,333.42 L323.93,333.31 L322.18,333.21 L320.43,333.10 L318.68,332.99 L316.93,332.89 L315.18,332.78 L313.43,332.67 L311.69,332.57 L309.94,332.46 L308.19,332.35 L306.44,332.25 L304.69,332.14 L302.94,332.03 L301.19,331.93 L299.45,331.82 L297.70,331.71 L295.95,331.61 L294.20,331.50 Z" fill="url(#gB)" fill-opacity="0.9" stroke="none"/>
<polyline points="294.20,331.50 295.95,331.61 297.70,331.71 299.45,331.82 301.19,331.93 302.94,332.03 304.69,332.14 306.44,332.25 308.19,332.35 309.94,332.46 311.69,332.56 313.43,332.67 315.18,332.77 316.93,332.88 318.68,332.98 320.43,333.08 322.18,333.19 323.93,333.29 325.67,333.38 327.42,333.48 329.17,333.57 330.92,333.66 332.67,333.75 334.42,333.83 336.17,333.91 337.91,333.99 339.66,334.05 341.41,334.11 343.16,334.15 344.91,334.18 346.66,334.20 348.41,334.20 350.15,334.18 351.90,334.15 353.65,334.09 355.40,334.00 357.15,333.89 358.90,333.75 360.65,333.58 362.39,333.38 364.14,333.16 365.89,332.90 367.64,332.61 369.39,332.29 371.14,331.96 372.89,331.61 374.63,331.24 376.38,330.87 378.13,330.49 379.88,330.12 381.63,329.75 383.38,329.41 385.13,329.09 386.87,328.81 388.62,328.57 390.37,328.37 392.12,328.23 393.87,328.15 395.62,328.13 397.37,328.18 399.11,328.30 400.86,328.49 402.61,328.76 404.36,329.09 406.11,329.48 407.86,329.94 409.61,330.45 411.35,331.01 413.10,331.60 414.85,332.24 416.60,332.89 418.35,333.57 420.10,334.26 421.85,334.95 423.59,335.63 425.34,336.31 427.09,336.98 428.84,337.62 430.59,338.24 432.34,338.84 434.09,339.40 435.83,339.94 437.58,340.44 439.33,340.91 441.08,341.35 442.83,341.76 444.58,342.14 446.33,342.50 448.07,342.83 449.82,343.14 451.57,343.43 453.32,343.71 455.07,343.98 456.82,344.24 458.57,344.49 460.31,344.73 462.06,344.97 463.81,345.21 465.56,345.44 467.31,345.66 469.06,345.87 470.81,346.07 472.55,346.27 474.30,346.45 476.05,346.64 477.80,346.82 479.55,346.99 481.30,347.16 483.05,347.32 484.79,347.48 486.54,347.63 488.29,347.76 490.04,347.90 491.79,348.02 493.54,348.13 495.29,348.24 497.03,348.34 498.78,348.44 500.53,348.53 502.28,348.64 504.03,348.74 505.78,348.84 507.53,348.95 509.27,349.06 511.02,349.17 512.77,349.28 514.52,349.39 516.27,349.50 518.02,349.62 519.77,349.73 521.51,349.85 523.26,349.97 525.01,350.09 526.76,350.22 528.51,350.34 530.26,350.47 532.01,350.59 533.75,350.72 535.50,350.85 537.25,350.97 539.00,351.10" fill="none" stroke="#4a7fc6" stroke-width="0.9" stroke-linejoin="round" stroke-linecap="round" />
<polyline points="294.20,331.50 295.95,331.61 297.70,331.71 299.45,331.82 301.19,331.93 302.94,332.03 304.69,332.14 306.44,332.24 308.19,332.35 309.94,332.46 311.69,332.56 313.43,332.67 315.18,332.77 316.93,332.87 318.68,332.98 320.43,333.08 322.18,333.18 323.93,333.28 325.67,333.37 327.42,333.46 329.17,333.55 330.92,333.64 332.67,333.72 334.42,333.80 336.17,333.87 337.91,333.93 339.66,333.98 341.41,334.02 343.16,334.05 344.91,334.06 346.66,334.05 348.41,334.02 350.15,333.97 351.90,333.89 353.65,333.79 355.40,333.65 357.15,333.47 358.90,333.26 360.65,333.01 362.39,332.72 364.14,332.38 365.89,332.00 367.64,331.58 369.39,331.11 371.14,330.60 372.89,330.06 374.63,329.48 376.38,328.87 378.13,328.24 379.88,327.58 381.63,326.91 383.38,326.23 385.13,325.55 386.87,324.87 388.62,324.21 390.37,323.56 392.12,322.94 393.87,322.35 395.62,321.80 397.37,321.29 399.11,320.83 400.86,320.42 402.61,320.06 404.36,319.76 406.11,319.50 407.86,319.29 409.61,319.14 411.35,319.03 413.10,318.96 414.85,318.94 416.60,318.95 418.35,319.00 420.10,319.09 421.85,319.21 423.59,319.36 425.34,319.54 427.09,319.75 428.84,319.99 430.59,320.25 432.34,320.55 434.09,320.87 435.83,321.22 437.58,321.60 439.33,322.02 441.08,322.47 442.83,322.94 444.58,323.46 446.33,324.01 448.07,324.60 449.82,325.22 451.57,325.88 453.32,326.58 455.07,327.32 456.82,328.09 458.57,328.88 460.31,329.71 462.06,330.55 463.81,331.42 465.56,332.29 467.31,333.17 469.06,334.04 470.81,334.91 472.55,335.78 474.30,336.62 476.05,337.46 477.80,338.27 479.55,339.06 481.30,339.83 483.05,340.57 484.79,341.28 486.54,341.95 488.29,342.59 490.04,343.19 491.79,343.76 493.54,344.29 495.29,344.78 497.03,345.24 498.78,345.66 500.53,346.07 502.28,346.45 504.03,346.80 505.78,347.13 507.53,347.45 509.27,347.74 511.02,348.02 512.77,348.28 514.52,348.52 516.27,348.76 518.02,348.97 519.77,349.18 521.51,349.38 523.26,349.57 525.01,349.75 526.76,349.93 528.51,350.10 530.26,350.26 532.01,350.42 533.75,350.58 535.50,350.73 537.25,350.87 539.00,351.02" fill="none" stroke="#2f4d88" stroke-width="1.25" stroke-linejoin="round" stroke-linecap="round" />
<polyline points="294.20,331.50 295.95,331.61 297.70,331.71 299.45,331.82 301.19,331.93 302.94,332.03 304.69,332.14 306.44,332.25 308.19,332.35 309.94,332.46 311.69,332.57 313.43,332.67 315.18,332.78 316.93,332.89 318.68,332.99 320.43,333.10 322.18,333.21 323.93,333.31 325.67,333.42 327.42,333.53 329.17,333.63 330.92,333.74 332.67,333.85 334.42,333.96 336.17,334.07 337.91,334.19 339.66,334.30 341.41,334.42 343.16,334.53 344.91,334.65 346.66,334.77 348.41,334.89 350.15,335.01 351.90,335.14 353.65,335.26 355.40,335.38 357.15,335.51 358.90,335.64 360.65,335.76 362.39,335.89 364.14,336.02 365.89,336.14 367.64,336.27 369.39,336.40 371.14,336.53 372.89,336.66 374.63,336.80 376.38,336.94 378.13,337.08 379.88,337.23 381.63,337.38 383.38,337.53 385.13,337.69 386.87,337.85 388.62,338.02 390.37,338.18 392.12,338.36 393.87,338.54 395.62,338.72 397.37,338.90 399.11,339.09 400.86,339.28 402.61,339.48 404.36,339.68 406.11,339.87 407.86,340.07 409.61,340.27 411.35,340.46 413.10,340.65 414.85,340.83 416.60,341.02 418.35,341.20 420.10,341.37 421.85,341.54 423.59,341.71 425.34,341.88 427.09,342.04 428.84,342.20 430.59,342.35 432.34,342.51 434.09,342.66 435.83,342.81 437.58,342.95 439.33,343.10 441.08,343.24 442.83,343.38 444.58,343.53 446.33,343.67 448.07,343.82 449.82,343.97 451.57,344.12 453.32,344.28 455.07,344.45 456.82,344.62 458.57,344.80 460.31,344.99 462.06,345.18 463.81,345.37 465.56,345.57 467.31,345.76 469.06,345.95 470.81,346.13 472.55,346.31 474.30,346.49 476.05,346.67 477.80,346.84 479.55,347.01 481.30,347.17 483.05,347.33 484.79,347.49 486.54,347.63 488.29,347.77 490.04,347.90 491.79,348.02 493.54,348.13 495.29,348.24 497.03,348.34 498.78,348.44 500.53,348.54 502.28,348.64 504.03,348.74 505.78,348.84 507.53,348.95 509.27,349.06 511.02,349.17 512.77,349.28 514.52,349.39 516.27,349.50 518.02,349.62 519.77,349.73 521.51,349.85 523.26,349.97 525.01,350.09 526.76,350.22 528.51,350.34 530.26,350.47 532.01,350.59 533.75,350.72 535.50,350.85 537.25,350.97 539.00,351.10" fill="none" stroke="#2f4d88" stroke-width="1.4" stroke-linejoin="round" stroke-linecap="round" />
<path d="M294.20,414.50 L295.95,414.57 L297.70,414.64 L299.45,414.71 L301.19,414.79 L302.94,414.86 L304.69,414.93 L306.44,415.00 L308.19,415.07 L309.94,415.14 L311.69,415.21 L313.43,415.28 L315.18,415.34 L316.93,415.41 L318.68,415.48 L320.43,415.54 L322.18,415.60 L323.93,415.65 L325.67,415.70 L327.42,415.75 L329.17,415.79 L330.92,415.82 L332.67,415.85 L334.42,415.87 L336.17,415.89 L337.91,415.91 L339.66,415.91 L341.41,415.91 L343.16,415.91 L344.91,415.90 L346.66,415.87 L348.41,415.84 L350.15,415.80 L351.90,415.75 L353.65,415.70 L355.40,415.65 L357.15,415.58 L358.90,415.51 L360.65,415.43 L362.39,415.34 L364.14,415.23 L365.89,415.12 L367.64,415.00 L369.39,414.86 L371.14,414.70 L372.89,414.53 L374.63,414.34 L376.38,414.13 L378.13,413.91 L379.88,413.68 L381.63,413.43 L383.38,413.17 L385.13,412.88 L386.87,412.59 L388.62,412.28 L390.37,411.96 L392.12,411.63 L393.87,411.29 L395.62,410.96 L397.37,410.63 L399.11,410.30 L400.86,409.99 L402.61,409.69 L404.36,409.40 L406.11,409.14 L407.86,408.90 L409.61,408.69 L411.35,408.52 L413.10,408.38 L414.85,408.29 L416.60,408.23 L418.35,408.23 L420.10,408.27 L421.85,408.36 L423.59,408.50 L425.34,408.70 L427.09,408.94 L428.84,409.23 L430.59,409.57 L432.34,409.95 L434.09,410.38 L435.83,410.86 L437.58,411.37 L439.33,411.92 L441.08,412.50 L442.83,413.12 L444.58,413.76 L446.33,414.42 L448.07,415.10 L449.82,415.79 L451.57,416.49 L453.32,417.20 L455.07,417.90 L456.82,418.61 L458.57,419.31 L460.31,420.00 L462.06,420.68 L463.81,421.35 L465.56,422.00 L467.31,422.62 L469.06,423.23 L470.81,423.81 L472.55,424.36 L474.30,424.89 L476.05,425.39 L477.80,425.86 L479.55,426.31 L481.30,426.72 L483.05,427.12 L484.79,427.48 L486.54,427.82 L488.29,428.13 L490.04,428.43 L491.79,428.70 L493.54,428.95 L495.29,429.18 L497.03,429.39 L498.78,429.58 L500.53,429.76 L502.28,429.93 L504.03,430.09 L505.78,430.24 L507.53,430.38 L509.27,430.50 L511.02,430.62 L512.77,430.74 L514.52,430.85 L516.27,430.95 L518.02,431.04 L519.77,431.14 L521.51,431.23 L523.26,431.31 L525.01,431.39 L526.76,431.47 L528.51,431.55 L530.26,431.63 L532.01,431.70 L533.75,431.77 L535.50,431.84 L537.25,431.91 L539.00,431.98 L539.00,432.00 L537.25,431.93 L535.50,431.87 L533.75,431.80 L532.01,431.74 L530.26,431.67 L528.51,431.61 L526.76,431.54 L525.01,431.48 L523.26,431.41 L521.51,431.35 L519.77,431.28 L518.02,431.22 L516.27,431.15 L514.52,431.09 L512.77,431.02 L511.02,430.96 L509.27,430.89 L507.53,430.83 L505.78,430.76 L504.03,430.70 L502.28,430.63 L500.53,430.57 L498.78,430.50 L497.03,430.44 L495.29,430.37 L493.54,430.30 L491.79,430.23 L490.04,430.15 L488.29,430.08 L486.54,429.99 L484.79,429.91 L483.05,429.82 L481.30,429.72 L479.55,429.62 L477.80,429.52 L476.05,429.41 L474.30,429.29 L472.55,429.17 L470.81,429.04 L469.06,428.91 L467.31,428.77 L465.56,428.62 L463.81,428.47 L462.06,428.31 L460.31,428.15 L458.57,427.99 L456.82,427.82 L455.07,427.65 L453.32,427.47 L451.57,427.29 L449.82,427.11 L448.07,426.92 L446.33,426.73 L444.58,426.54 L442.83,426.34 L441.08,426.14 L439.33,425.94 L437.58,425.74 L435.83,425.53 L434.09,425.33 L432.34,425.12 L430.59,424.92 L428.84,424.71 L427.09,424.50 L425.34,424.30 L423.59,424.09 L421.85,423.88 L420.10,423.68 L418.35,423.47 L416.60,423.27 L414.85,423.07 L413.10,422.87 L411.35,422.68 L409.61,422.48 L407.86,422.29 L406.11,422.10 L404.36,421.90 L402.61,421.70 L400.86,421.51 L399.11,421.31 L397.37,421.11 L395.62,420.91 L393.87,420.72 L392.12,420.52 L390.37,420.32 L388.62,420.11 L386.87,419.91 L385.13,419.71 L383.38,419.50 L381.63,419.29 L379.88,419.09 L378.13,418.89 L376.38,418.69 L374.63,418.50 L372.89,418.32 L371.14,418.15 L369.39,417.98 L367.64,417.81 L365.89,417.65 L364.14,417.51 L362.39,417.37 L360.65,417.24 L358.90,417.11 L357.15,417.00 L355.40,416.90 L353.65,416.81 L351.90,416.72 L350.15,416.65 L348.41,416.58 L346.66,416.51 L344.91,416.45 L343.16,416.39 L341.41,416.33 L339.66,416.27 L337.91,416.21 L336.17,416.15 L334.42,416.09 L332.67,416.04 L330.92,415.98 L329.17,415.92 L327.42,415.86 L325.67,415.79 L323.93,415.73 L322.18,415.66 L320.43,415.59 L318.68,415.52 L316.93,415.45 L315.18,415.37 L313.43,415.30 L311.69,415.23 L309.94,415.16 L308.19,415.08 L306.44,415.01 L304.69,414.94 L302.94,414.86 L301.19,414.79 L299.45,414.72 L297.70,414.65 L295.95,414.57 L294.20,414.50 Z" fill="url(#gR)" stroke="none"/>
<polyline points="294.20,414.50 295.95,414.57 297.70,414.64 299.45,414.71 301.19,414.79 302.94,414.86 304.69,414.93 306.44,415.00 308.19,415.07 309.94,415.14 311.69,415.21 313.43,415.28 315.18,415.34 316.93,415.41 318.68,415.48 320.43,415.54 322.18,415.60 323.93,415.65 325.67,415.70 327.42,415.75 329.17,415.79 330.92,415.82 332.67,415.85 334.42,415.87 336.17,415.89 337.91,415.91 339.66,415.91 341.41,415.91 343.16,415.91 344.91,415.90 346.66,415.87 348.41,415.84 350.15,415.80 351.90,415.75 353.65,415.70 355.40,415.65 357.15,415.58 358.90,415.51 360.65,415.43 362.39,415.34 364.14,415.23 365.89,415.12 367.64,415.00 369.39,414.86 371.14,414.70 372.89,414.53 374.63,414.34 376.38,414.13 378.13,413.91 379.88,413.68 381.63,413.43 383.38,413.17 385.13,412.88 386.87,412.59 388.62,412.28 390.37,411.96 392.12,411.63 393.87,411.29 395.62,410.96 397.37,410.63 399.11,410.30 400.86,409.99 402.61,409.69 404.36,409.40 406.11,409.14 407.86,408.90 409.61,408.69 411.35,408.52 413.10,408.38 414.85,408.29 416.60,408.23 418.35,408.23 420.10,408.27 421.85,408.36 423.59,408.50 425.34,408.70 427.09,408.94 428.84,409.23 430.59,409.57 432.34,409.95 434.09,410.38 435.83,410.86 437.58,411.37 439.33,411.92 441.08,412.50 442.83,413.12 444.58,413.76 446.33,414.42 448.07,415.10 449.82,415.79 451.57,416.49 453.32,417.20 455.07,417.90 456.82,418.61 458.57,419.31 460.31,420.00 462.06,420.68 463.81,421.35 465.56,422.00 467.31,422.62 469.06,423.23 470.81,423.81 472.55,424.36 474.30,424.89 476.05,425.39 477.80,425.86 479.55,426.31 481.30,426.72 483.05,427.12 484.79,427.48 486.54,427.82 488.29,428.13 490.04,428.43 491.79,428.70 493.54,428.95 495.29,429.18 497.03,429.39 498.78,429.58 500.53,429.76 502.28,429.93 504.03,430.09 505.78,430.24 507.53,430.38 509.27,430.50 511.02,430.62 512.77,430.74 514.52,430.85 516.27,430.95 518.02,431.04 519.77,431.14 521.51,431.23 523.26,431.31 525.01,431.39 526.76,431.47 528.51,431.55 530.26,431.63 532.01,431.70 533.75,431.77 535.50,431.84 537.25,431.91 539.00,431.98" fill="none" stroke="#f26a72" stroke-width="0.7" stroke-linejoin="round" stroke-linecap="round" />
<path d="M294.20,414.41 L295.95,414.47 L297.70,414.52 L299.45,414.57 L301.19,414.62 L302.94,414.66 L304.69,414.70 L306.44,414.73 L308.19,414.75 L309.94,414.78 L311.69,414.79 L313.43,414.80 L315.18,414.79 L316.93,414.78 L318.68,414.76 L320.43,414.73 L322.18,414.69 L323.93,414.63 L325.67,414.56 L327.42,414.48 L329.17,414.38 L330.92,414.27 L332.67,414.14 L334.42,413.99 L336.17,413.84 L337.91,413.67 L339.66,413.49 L341.41,413.30 L343.16,413.10 L344.91,412.89 L346.66,412.67 L348.41,412.44 L350.15,412.21 L351.90,411.99 L353.65,411.77 L355.40,411.55 L357.15,411.35 L358.90,411.16 L360.65,410.98 L362.39,410.82 L364.14,410.67 L365.89,410.55 L367.64,410.45 L369.39,410.38 L371.14,410.33 L372.89,410.30 L374.63,410.31 L376.38,410.34 L378.13,410.41 L379.88,410.51 L381.63,410.65 L383.38,410.81 L385.13,411.01 L386.87,411.23 L388.62,411.48 L390.37,411.75 L392.12,412.06 L393.87,412.39 L395.62,412.74 L397.37,413.12 L399.11,413.52 L400.86,413.94 L402.61,414.38 L404.36,414.84 L406.11,415.30 L407.86,415.78 L409.61,416.27 L411.35,416.76 L413.10,417.26 L414.85,417.77 L416.60,418.28 L418.35,418.78 L420.10,419.29 L421.85,419.79 L423.59,420.28 L425.34,420.77 L427.09,421.25 L428.84,421.72 L430.59,422.17 L432.34,422.62 L434.09,423.05 L435.83,423.46 L437.58,423.86 L439.33,424.25 L441.08,424.63 L442.83,424.98 L444.58,425.33 L446.33,425.65 L448.07,425.97 L449.82,426.27 L451.57,426.55 L453.32,426.82 L455.07,427.08 L456.82,427.33 L458.57,427.56 L460.31,427.78 L462.06,427.99 L463.81,428.20 L465.56,428.39 L467.31,428.57 L469.06,428.74 L470.81,428.90 L472.55,429.05 L474.30,429.19 L476.05,429.32 L477.80,429.44 L479.55,429.56 L481.30,429.67 L483.05,429.78 L484.79,429.87 L486.54,429.97 L488.29,430.05 L490.04,430.13 L491.79,430.21 L493.54,430.29 L495.29,430.36 L497.03,430.43 L498.78,430.49 L500.53,430.56 L502.28,430.63 L504.03,430.69 L505.78,430.76 L507.53,430.82 L509.27,430.89 L511.02,430.96 L512.77,431.02 L514.52,431.09 L516.27,431.15 L518.02,431.22 L519.77,431.28 L521.51,431.35 L523.26,431.41 L525.01,431.48 L526.76,431.54 L528.51,431.61 L530.26,431.67 L532.01,431.74 L533.75,431.80 L535.50,431.87 L537.25,431.93 L539.00,432.00 L539.00,432.00 L537.25,431.93 L535.50,431.87 L533.75,431.80 L532.01,431.74 L530.26,431.67 L528.51,431.61 L526.76,431.54 L525.01,431.48 L523.26,431.41 L521.51,431.35 L519.77,431.28 L518.02,431.22 L516.27,431.15 L514.52,431.09 L512.77,431.02 L511.02,430.96 L509.27,430.89 L507.53,430.83 L505.78,430.76 L504.03,430.70 L502.28,430.63 L500.53,430.57 L498.78,430.50 L497.03,430.44 L495.29,430.37 L493.54,430.30 L491.79,430.23 L490.04,430.15 L488.29,430.08 L486.54,429.99 L484.79,429.91 L483.05,429.82 L481.30,429.72 L479.55,429.62 L477.80,429.52 L476.05,429.41 L474.30,429.29 L472.55,429.17 L470.81,429.04 L469.06,428.91 L467.31,428.77 L465.56,428.62 L463.81,428.47 L462.06,428.31 L460.31,428.15 L458.57,427.99 L456.82,427.82 L455.07,427.65 L453.32,427.47 L451.57,427.29 L449.82,427.11 L448.07,426.92 L446.33,426.73 L444.58,426.54 L442.83,426.34 L441.08,426.14 L439.33,425.94 L437.58,425.74 L435.83,425.53 L434.09,425.33 L432.34,425.12 L430.59,424.92 L428.84,424.71 L427.09,424.50 L425.34,424.30 L423.59,424.09 L421.85,423.88 L420.10,423.68 L418.35,423.47 L416.60,423.27 L414.85,423.07 L413.10,422.87 L411.35,422.68 L409.61,422.48 L407.86,422.29 L406.11,422.10 L404.36,421.90 L402.61,421.70 L400.86,421.51 L399.11,421.31 L397.37,421.11 L395.62,420.91 L393.87,420.72 L392.12,420.52 L390.37,420.32 L388.62,420.11 L386.87,419.91 L385.13,419.71 L383.38,419.50 L381.63,419.29 L379.88,419.09 L378.13,418.89 L376.38,418.69 L374.63,418.50 L372.89,418.32 L371.14,418.15 L369.39,417.98 L367.64,417.81 L365.89,417.65 L364.14,417.51 L362.39,417.37 L360.65,417.24 L358.90,417.11 L357.15,417.00 L355.40,416.90 L353.65,416.81 L351.90,416.72 L350.15,416.65 L348.41,416.58 L346.66,416.51 L344.91,416.45 L343.16,416.39 L341.41,416.33 L339.66,416.27 L337.91,416.21 L336.17,416.15 L334.42,416.09 L332.67,416.04 L330.92,415.98 L329.17,415.92 L327.42,415.86 L325.67,415.79 L323.93,415.73 L322.18,415.66 L320.43,415.59 L318.68,415.52 L316.93,415.45 L315.18,415.37 L313.43,415.30 L311.69,415.23 L309.94,415.16 L308.19,415.08 L306.44,415.01 L304.69,414.94 L302.94,414.86 L301.19,414.79 L299.45,414.72 L297.70,414.65 L295.95,414.57 L294.20,414.50 Z" fill="url(#gB)" fill-opacity="0.9" stroke="none"/>
<polyline points="294.20,414.41 295.95,414.47 297.70,414.52 299.45,414.57 301.19,414.62 302.94,414.66 304.69,414.70 306.44,414.73 308.19,414.75 309.94,414.78 311.69,414.79 313.43,414.80 315.18,414.79 316.93,414.78 318.68,414.76 320.43,414.73 322.18,414.69 323.93,414.63 325.67,414.56 327.42,414.48 329.17,414.38 330.92,414.27 332.67,414.14 334.42,413.99 336.17,413.84 337.91,413.67 339.66,413.49 341.41,413.30 343.16,413.10 344.91,412.89 346.66,412.67 348.41,412.44 350.15,412.21 351.90,411.99 353.65,411.77 355.40,411.55 357.15,411.35 358.90,411.16 360.65,410.98 362.39,410.82 364.14,410.67 365.89,410.55 367.64,410.45 369.39,410.38 371.14,410.33 372.89,410.30 374.63,410.31 376.38,410.34 378.13,410.41 379.88,410.51 381.63,410.65 383.38,410.81 385.13,411.01 386.87,411.23 388.62,411.48 390.37,411.75 392.12,412.06 393.87,412.39 395.62,412.74 397.37,413.12 399.11,413.52 400.86,413.94 402.61,414.38 404.36,414.84 406.11,415.30 407.86,415.78 409.61,416.27 411.35,416.76 413.10,417.26 414.85,417.77 416.60,418.28 418.35,418.78 420.10,419.29 421.85,419.79 423.59,420.28 425.34,420.77 427.09,421.25 428.84,421.72 430.59,422.17 432.34,422.62 434.09,423.05 435.83,423.46 437.58,423.86 439.33,424.25 441.08,424.63 442.83,424.98 444.58,425.33 446.33,425.65 448.07,425.97 449.82,426.27 451.57,426.55 453.32,426.82 455.07,427.08 456.82,427.33 458.57,427.56 460.31,427.78 462.06,427.99 463.81,428.20 465.56,428.39 467.31,428.57 469.06,428.74 470.81,428.90 472.55,429.05 474.30,429.19 476.05,429.32 477.80,429.44 479.55,429.56 481.30,429.67 483.05,429.78 484.79,429.87 486.54,429.97 488.29,430.05 490.04,430.13 491.79,430.21 493.54,430.29 495.29,430.36 497.03,430.43 498.78,430.49 500.53,430.56 502.28,430.63 504.03,430.69 505.78,430.76 507.53,430.82 509.27,430.89 511.02,430.96 512.77,431.02 514.52,431.09 516.27,431.15 518.02,431.22 519.77,431.28 521.51,431.35 523.26,431.41 525.01,431.48 526.76,431.54 528.51,431.61 530.26,431.67 532.01,431.74 533.75,431.80 535.50,431.87 537.25,431.93 539.00,432.00" fill="none" stroke="#4a7fc6" stroke-width="0.9" stroke-linejoin="round" stroke-linecap="round" />
<polyline points="294.20,414.41 295.95,414.46 297.70,414.52 299.45,414.57 301.19,414.61 302.94,414.65 304.69,414.69 306.44,414.72 308.19,414.74 309.94,414.76 311.69,414.77 313.43,414.77 315.18,414.76 316.93,414.75 318.68,414.72 320.43,414.68 322.18,414.63 323.93,414.56 325.67,414.47 327.42,414.37 329.17,414.25 330.92,414.11 332.67,413.95 334.42,413.77 336.17,413.58 337.91,413.37 339.66,413.14 341.41,412.89 343.16,412.62 344.91,412.33 346.66,412.03 348.41,411.71 350.15,411.37 351.90,411.02 353.65,410.66 355.40,410.30 357.15,409.93 358.90,409.55 360.65,409.17 362.39,408.79 364.14,408.40 365.89,408.02 367.64,407.64 369.39,407.26 371.14,406.88 372.89,406.51 374.63,406.14 376.38,405.78 378.13,405.44 379.88,405.11 381.63,404.79 383.38,404.48 385.13,404.18 386.87,403.90 388.62,403.64 390.37,403.39 392.12,403.17 393.87,402.97 395.62,402.79 397.37,402.64 399.11,402.51 400.86,402.42 402.61,402.36 404.36,402.34 406.11,402.35 407.86,402.39 409.61,402.48 411.35,402.60 413.10,402.77 414.85,402.98 416.60,403.24 418.35,403.54 420.10,403.88 421.85,404.27 423.59,404.70 425.34,405.17 427.09,405.69 428.84,406.24 430.59,406.83 432.34,407.45 434.09,408.10 435.83,408.79 437.58,409.50 439.33,410.23 441.08,410.99 442.83,411.76 444.58,412.55 446.33,413.34 448.07,414.14 449.82,414.94 451.57,415.75 453.32,416.54 455.07,417.34 456.82,418.11 458.57,418.88 460.31,419.63 462.06,420.36 463.81,421.07 465.56,421.76 467.31,422.42 469.06,423.05 470.81,423.66 472.55,424.24 474.30,424.78 476.05,425.30 477.80,425.79 479.55,426.24 481.30,426.67 483.05,427.07 484.79,427.45 486.54,427.79 488.29,428.11 490.04,428.41 491.79,428.68 493.54,428.93 495.29,429.17 497.03,429.38 498.78,429.58 500.53,429.76 502.28,429.93 504.03,430.09 505.78,430.24 507.53,430.37 509.27,430.50 511.02,430.62 512.77,430.74 514.52,430.85 516.27,430.95 518.02,431.04 519.77,431.14 521.51,431.23 523.26,431.31 525.01,431.39 526.76,431.47 528.51,431.55 530.26,431.62 532.01,431.70 533.75,431.77 535.50,431.84 537.25,431.91 539.00,431.98" fill="none" stroke="#2f4d88" stroke-width="1.25" stroke-linejoin="round" stroke-linecap="round" />
<polyline points="294.20,414.50 295.95,414.57 297.70,414.65 299.45,414.72 301.19,414.79 302.94,414.86 304.69,414.94 306.44,415.01 308.19,415.08 309.94,415.16 311.69,415.23 313.43,415.30 315.18,415.37 316.93,415.45 318.68,415.52 320.43,415.59 322.18,415.66 323.93,415.73 325.67,415.79 327.42,415.86 329.17,415.92 330.92,415.98 332.67,416.04 334.42,416.09 336.17,416.15 337.91,416.21 339.66,416.27 341.41,416.33 343.16,416.39 344.91,416.45 346.66,416.51 348.41,416.58 350.15,416.65 351.90,416.72 353.65,416.81 355.40,416.90 357.15,417.00 358.90,417.11 360.65,417.24 362.39,417.37 364.14,417.51 365.89,417.65 367.64,417.81 369.39,417.98 371.14,418.15 372.89,418.32 374.63,418.50 376.38,418.69 378.13,418.89 379.88,419.09 381.63,419.29 383.38,419.50 385.13,419.71 386.87,419.91 388.62,420.11 390.37,420.32 392.12,420.52 393.87,420.72 395.62,420.91 397.37,421.11 399.11,421.31 400.86,421.51 402.61,421.70 404.36,421.90 406.11,422.10 407.86,422.29 409.61,422.48 411.35,422.68 413.10,422.87 414.85,423.07 416.60,423.27 418.35,423.47 420.10,423.68 421.85,423.88 423.59,424.09 425.34,424.30 427.09,424.50 428.84,424.71 430.59,424.92 432.34,425.12 434.09,425.33 435.83,425.53 437.58,425.74 439.33,425.94 441.08,426.14 442.83,426.34 444.58,426.54 446.33,426.73 448.07,426.92 449.82,427.11 451.57,427.29 453.32,427.47 455.07,427.65 456.82,427.82 458.57,427.99 460.31,428.15 462.06,428.31 463.81,428.47 465.56,428.62 467.31,428.77 469.06,428.91 470.81,429.04 472.55,429.17 474.30,429.29 476.05,429.41 477.80,429.52 479.55,429.62 481.30,429.72 483.05,429.82 484.79,429.91 486.54,429.99 488.29,430.08 490.04,430.15 491.79,430.23 493.54,430.30 495.29,430.37 497.03,430.44 498.78,430.50 500.53,430.57 502.28,430.63 504.03,430.70 505.78,430.76 507.53,430.83 509.27,430.89 511.02,430.96 512.77,431.02 514.52,431.09 516.27,431.15 518.02,431.22 519.77,431.28 521.51,431.35 523.26,431.41 525.01,431.48 526.76,431.54 528.51,431.61 530.26,431.67 532.01,431.74 533.75,431.80 535.50,431.87 537.25,431.93 539.00,432.00" fill="none" stroke="#2f4d88" stroke-width="1.4" stroke-linejoin="round" stroke-linecap="round" />
<path d="M294.20,470.60 L295.95,470.66 L297.70,470.72 L299.45,470.78 L301.19,470.83 L302.94,470.89 L304.69,470.95 L306.44,471.01 L308.19,471.07 L309.94,471.13 L311.69,471.18 L313.43,471.24 L315.18,471.30 L316.93,471.36 L318.68,471.42 L320.43,471.49 L322.18,471.56 L323.93,471.62 L325.67,471.69 L327.42,471.76 L329.17,471.84 L330.92,471.91 L332.67,471.98 L334.42,472.04 L336.17,472.11 L337.91,472.17 L339.66,472.23 L341.41,472.28 L343.16,472.33 L344.91,472.37 L346.66,472.40 L348.41,472.43 L350.15,472.44 L351.90,472.44 L353.65,472.43 L355.40,472.40 L357.15,472.36 L358.90,472.30 L360.65,472.22 L362.39,472.12 L364.14,471.99 L365.89,471.84 L367.64,471.66 L369.39,471.46 L371.14,471.23 L372.89,470.97 L374.63,470.69 L376.38,470.38 L378.13,470.04 L379.88,469.68 L381.63,469.28 L383.38,468.86 L385.13,468.41 L386.87,467.93 L388.62,467.43 L390.37,466.91 L392.12,466.38 L393.87,465.84 L395.62,465.29 L397.37,464.75 L399.11,464.21 L400.86,463.69 L402.61,463.19 L404.36,462.72 L406.11,462.28 L407.86,461.87 L409.61,461.52 L411.35,461.21 L413.10,460.96 L414.85,460.76 L416.60,460.64 L418.35,460.58 L420.10,460.60 L421.85,460.69 L423.59,460.86 L425.34,461.10 L427.09,461.42 L428.84,461.81 L430.59,462.28 L432.34,462.81 L434.09,463.40 L435.83,464.04 L437.58,464.73 L439.33,465.47 L441.08,466.24 L442.83,467.04 L444.58,467.87 L446.33,468.71 L448.07,469.56 L449.82,470.42 L451.57,471.28 L453.32,472.13 L455.07,472.97 L456.82,473.79 L458.57,474.59 L460.31,475.37 L462.06,476.12 L463.81,476.84 L465.56,477.52 L467.31,478.16 L469.06,478.77 L470.81,479.34 L472.55,479.87 L474.30,480.36 L476.05,480.82 L477.80,481.24 L479.55,481.62 L481.30,481.98 L483.05,482.30 L484.79,482.60 L486.54,482.86 L488.29,483.10 L490.04,483.31 L491.79,483.50 L493.54,483.66 L495.29,483.81 L497.03,483.94 L498.78,484.06 L500.53,484.17 L502.28,484.27 L504.03,484.36 L505.78,484.44 L507.53,484.52 L509.27,484.60 L511.02,484.67 L512.77,484.74 L514.52,484.81 L516.27,484.87 L518.02,484.93 L519.77,484.99 L521.51,485.05 L523.26,485.11 L525.01,485.16 L526.76,485.22 L528.51,485.27 L530.26,485.33 L532.01,485.38 L533.75,485.44 L535.50,485.49 L537.25,485.54 L539.00,485.60 L539.00,485.60 L537.25,485.55 L535.50,485.49 L533.75,485.44 L532.01,485.39 L530.26,485.33 L528.51,485.28 L526.76,485.23 L525.01,485.17 L523.26,485.12 L521.51,485.07 L519.77,485.01 L518.02,484.96 L516.27,484.91 L514.52,484.85 L512.77,484.80 L511.02,484.75 L509.27,484.69 L507.53,484.64 L505.78,484.59 L504.03,484.53 L502.28,484.48 L500.53,484.43 L498.78,484.37 L497.03,484.32 L495.29,484.27 L493.54,484.21 L491.79,484.14 L490.04,484.07 L488.29,483.99 L486.54,483.91 L484.79,483.83 L483.05,483.74 L481.30,483.64 L479.55,483.54 L477.80,483.44 L476.05,483.34 L474.30,483.23 L472.55,483.12 L470.81,483.01 L469.06,482.90 L467.31,482.78 L465.56,482.67 L463.81,482.55 L462.06,482.43 L460.31,482.31 L458.57,482.19 L456.82,482.08 L455.07,481.96 L453.32,481.85 L451.57,481.74 L449.82,481.62 L448.07,481.51 L446.33,481.40 L444.58,481.29 L442.83,481.17 L441.08,481.06 L439.33,480.94 L437.58,480.81 L435.83,480.67 L434.09,480.53 L432.34,480.38 L430.59,480.23 L428.84,480.07 L427.09,479.90 L425.34,479.73 L423.59,479.55 L421.85,479.37 L420.10,479.18 L418.35,478.99 L416.60,478.80 L414.85,478.60 L413.10,478.40 L411.35,478.19 L409.61,477.97 L407.86,477.76 L406.11,477.54 L404.36,477.32 L402.61,477.10 L400.86,476.88 L399.11,476.67 L397.37,476.46 L395.62,476.26 L393.87,476.06 L392.12,475.86 L390.37,475.68 L388.62,475.49 L386.87,475.31 L385.13,475.14 L383.38,474.97 L381.63,474.81 L379.88,474.65 L378.13,474.50 L376.38,474.36 L374.63,474.23 L372.89,474.10 L371.14,473.98 L369.39,473.88 L367.64,473.77 L365.89,473.67 L364.14,473.58 L362.39,473.48 L360.65,473.39 L358.90,473.30 L357.15,473.21 L355.40,473.13 L353.65,473.04 L351.90,472.95 L350.15,472.87 L348.41,472.78 L346.66,472.70 L344.91,472.61 L343.16,472.53 L341.41,472.44 L339.66,472.36 L337.91,472.28 L336.17,472.20 L334.42,472.11 L332.67,472.03 L330.92,471.95 L329.17,471.87 L327.42,471.79 L325.67,471.72 L323.93,471.64 L322.18,471.57 L320.43,471.50 L318.68,471.43 L316.93,471.37 L315.18,471.30 L313.43,471.24 L311.69,471.19 L309.94,471.13 L308.19,471.07 L306.44,471.01 L304.69,470.95 L302.94,470.89 L301.19,470.83 L299.45,470.78 L297.70,470.72 L295.95,470.66 L294.20,470.60 Z" fill="url(#gR)" stroke="none"/>
<polyline points="294.20,470.60 295.95,470.66 297.70,470.72 299.45,470.78 301.19,470.83 302.94,470.89 304.69,470.95 306.44,471.01 308.19,471.07 309.94,471.13 311.69,471.18 313.43,471.24 315.18,471.30 316.93,471.36 318.68,471.42 320.43,471.49 322.18,471.56 323.93,471.62 325.67,471.69 327.42,471.76 329.17,471.84 330.92,471.91 332.67,471.98 334.42,472.04 336.17,472.11 337.91,472.17 339.66,472.23 341.41,472.28 343.16,472.33 344.91,472.37 346.66,472.40 348.41,472.43 350.15,472.44 351.90,472.44 353.65,472.43 355.40,472.40 357.15,472.36 358.90,472.30 360.65,472.22 362.39,472.12 364.14,471.99 365.89,471.84 367.64,471.66 369.39,471.46 371.14,471.23 372.89,470.97 374.63,470.69 376.38,470.38 378.13,470.04 379.88,469.68 381.63,469.28 383.38,468.86 385.13,468.41 386.87,467.93 388.62,467.43 390.37,466.91 392.12,466.38 393.87,465.84 395.62,465.29 397.37,464.75 399.11,464.21 400.86,463.69 402.61,463.19 404.36,462.72 406.11,462.28 407.86,461.87 409.61,461.52 411.35,461.21 413.10,460.96 414.85,460.76 416.60,460.64 418.35,460.58 420.10,460.60 421.85,460.69 423.59,460.86 425.34,461.10 427.09,461.42 428.84,461.81 430.59,462.28 432.34,462.81 434.09,463.40 435.83,464.04 437.58,464.73 439.33,465.47 441.08,466.24 442.83,467.04 444.58,467.87 446.33,468.71 448.07,469.56 449.82,470.42 451.57,471.28 453.32,472.13 455.07,472.97 456.82,473.79 458.57,474.59 460.31,475.37 462.06,476.12 463.81,476.84 465.56,477.52 467.31,478.16 469.06,478.77 470.81,479.34 472.55,479.87 474.30,480.36 476.05,480.82 477.80,481.24 479.55,481.62 481.30,481.98 483.05,482.30 484.79,482.60 486.54,482.86 488.29,483.10 490.04,483.31 491.79,483.50 493.54,483.66 495.29,483.81 497.03,483.94 498.78,484.06 500.53,484.17 502.28,484.27 504.03,484.36 505.78,484.44 507.53,484.52 509.27,484.60 511.02,484.67 512.77,484.74 514.52,484.81 516.27,484.87 518.02,484.93 519.77,484.99 521.51,485.05 523.26,485.11 525.01,485.16 526.76,485.22 528.51,485.27 530.26,485.33 532.01,485.38 533.75,485.44 535.50,485.49 537.25,485.54 539.00,485.60" fill="none" stroke="#f26a72" stroke-width="0.7" stroke-linejoin="round" stroke-linecap="round" />
<path d="M294.20,470.58 L295.95,470.63 L297.70,470.68 L299.45,470.73 L301.19,470.78 L302.94,470.83 L304.69,470.87 L306.44,470.91 L308.19,470.95 L309.94,470.98 L311.69,471.01 L313.43,471.03 L315.18,471.05 L316.93,471.06 L318.68,471.07 L320.43,471.07 L322.18,471.06 L323.93,471.05 L325.67,471.02 L327.42,470.98 L329.17,470.93 L330.92,470.87 L332.67,470.79 L334.42,470.70 L336.17,470.58 L337.91,470.45 L339.66,470.31 L341.41,470.14 L343.16,469.95 L344.91,469.75 L346.66,469.53 L348.41,469.29 L350.15,469.04 L351.90,468.77 L353.65,468.50 L355.40,468.21 L357.15,467.92 L358.90,467.62 L360.65,467.33 L362.39,467.04 L364.14,466.76 L365.89,466.50 L367.64,466.25 L369.39,466.03 L371.14,465.83 L372.89,465.67 L374.63,465.55 L376.38,465.46 L378.13,465.43 L379.88,465.43 L381.63,465.49 L383.38,465.59 L385.13,465.74 L386.87,465.94 L388.62,466.18 L390.37,466.47 L392.12,466.81 L393.87,467.19 L395.62,467.61 L397.37,468.07 L399.11,468.56 L400.86,469.08 L402.61,469.63 L404.36,470.20 L406.11,470.78 L407.86,471.37 L409.61,471.97 L411.35,472.56 L413.10,473.16 L414.85,473.74 L416.60,474.31 L418.35,474.86 L420.10,475.40 L421.85,475.93 L423.59,476.43 L425.34,476.91 L427.09,477.36 L428.84,477.80 L430.59,478.21 L432.34,478.59 L434.09,478.95 L435.83,479.28 L437.58,479.59 L439.33,479.88 L441.08,480.14 L442.83,480.38 L444.58,480.61 L446.33,480.82 L448.07,481.02 L449.82,481.20 L451.57,481.38 L453.32,481.55 L455.07,481.71 L456.82,481.87 L458.57,482.02 L460.31,482.17 L462.06,482.31 L463.81,482.45 L465.56,482.59 L467.31,482.72 L469.06,482.85 L470.81,482.97 L472.55,483.09 L474.30,483.21 L476.05,483.32 L477.80,483.42 L479.55,483.53 L481.30,483.63 L483.05,483.73 L484.79,483.82 L486.54,483.91 L488.29,483.99 L490.04,484.07 L491.79,484.14 L493.54,484.20 L495.29,484.26 L497.03,484.32 L498.78,484.37 L500.53,484.43 L502.28,484.48 L504.03,484.53 L505.78,484.59 L507.53,484.64 L509.27,484.69 L511.02,484.75 L512.77,484.80 L514.52,484.85 L516.27,484.91 L518.02,484.96 L519.77,485.01 L521.51,485.07 L523.26,485.12 L525.01,485.17 L526.76,485.23 L528.51,485.28 L530.26,485.33 L532.01,485.39 L533.75,485.44 L535.50,485.49 L537.25,485.55 L539.00,485.60 L539.00,485.60 L537.25,485.55 L535.50,485.49 L533.75,485.44 L532.01,485.39 L530.26,485.33 L528.51,485.28 L526.76,485.23 L525.01,485.17 L523.26,485.12 L521.51,485.07 L519.77,485.01 L518.02,484.96 L516.27,484.91 L514.52,484.85 L512.77,484.80 L511.02,484.75 L509.27,484.69 L507.53,484.64 L505.78,484.59 L504.03,484.53 L502.28,484.48 L500.53,484.43 L498.78,484.37 L497.03,484.32 L495.29,484.27 L493.54,484.21 L491.79,484.14 L490.04,484.07 L488.29,483.99 L486.54,483.91 L484.79,483.83 L483.05,483.74 L481.30,483.64 L479.55,483.54 L477.80,483.44 L476.05,483.34 L474.30,483.23 L472.55,483.12 L470.81,483.01 L469.06,482.90 L467.31,482.78 L465.56,482.67 L463.81,482.55 L462.06,482.43 L460.31,482.31 L458.57,482.19 L456.82,482.08 L455.07,481.96 L453.32,481.85 L451.57,481.74 L449.82,481.62 L448.07,481.51 L446.33,481.40 L444.58,481.29 L442.83,481.17 L441.08,481.06 L439.33,480.94 L437.58,480.81 L435.83,480.67 L434.09,480.53 L432.34,480.38 L430.59,480.23 L428.84,480.07 L427.09,479.90 L425.34,479.73 L423.59,479.55 L421.85,479.37 L420.10,479.18 L418.35,478.99 L416.60,478.80 L414.85,478.60 L413.10,478.40 L411.35,478.19 L409.61,477.97 L407.86,477.76 L406.11,477.54 L404.36,477.32 L402.61,477.10 L400.86,476.88 L399.11,476.67 L397.37,476.46 L395.62,476.26 L393.87,476.06 L392.12,475.86 L390.37,475.68 L388.62,475.49 L386.87,475.31 L385.13,475.14 L383.38,474.97 L381.63,474.81 L379.88,474.65 L378.13,474.50 L376.38,474.36 L374.63,474.23 L372.89,474.10 L371.14,473.98 L369.39,473.88 L367.64,473.77 L365.89,473.67 L364.14,473.58 L362.39,473.48 L360.65,473.39 L358.90,473.30 L357.15,473.21 L355.40,473.13 L353.65,473.04 L351.90,472.95 L350.15,472.87 L348.41,472.78 L346.66,472.70 L344.91,472.61 L343.16,472.53 L341.41,472.44 L339.66,472.36 L337.91,472.28 L336.17,472.20 L334.42,472.11 L332.67,472.03 L330.92,471.95 L329.17,471.87 L327.42,471.79 L325.67,471.72 L323.93,471.64 L322.18,471.57 L320.43,471.50 L318.68,471.43 L316.93,471.37 L315.18,471.30 L313.43,471.24 L311.69,471.19 L309.94,471.13 L308.19,471.07 L306.44,471.01 L304.69,470.95 L302.94,470.89 L301.19,470.83 L299.45,470.78 L297.70,470.72 L295.95,470.66 L294.20,470.60 Z" fill="url(#gB)" fill-opacity="0.9" stroke="none"/>
<polyline points="294.20,470.58 295.95,470.63 297.70,470.68 299.45,470.73 301.19,470.78 302.94,470.83 304.69,470.87 306.44,470.91 308.19,470.95 309.94,470.98 311.69,471.01 313.43,471.03 315.18,471.05 316.93,471.06 318.68,471.07 320.43,471.07 322.18,471.06 323.93,471.05 325.67,471.02 327.42,470.98 329.17,470.93 330.92,470.87 332.67,470.79 334.42,470.70 336.17,470.58 337.91,470.45 339.66,470.31 341.41,470.14 343.16,469.95 344.91,469.75 346.66,469.53 348.41,469.29 350.15,469.04 351.90,468.77 353.65,468.50 355.40,468.21 357.15,467.92 358.90,467.62 360.65,467.33 362.39,467.04 364.14,466.76 365.89,466.50 367.64,466.25 369.39,466.03 371.14,465.83 372.89,465.67 374.63,465.55 376.38,465.46 378.13,465.43 379.88,465.43 381.63,465.49 383.38,465.59 385.13,465.74 386.87,465.94 388.62,466.18 390.37,466.47 392.12,466.81 393.87,467.19 395.62,467.61 397.37,468.07 399.11,468.56 400.86,469.08 402.61,469.63 404.36,470.20 406.11,470.78 407.86,471.37 409.61,471.97 411.35,472.56 413.10,473.16 414.85,473.74 416.60,474.31 418.35,474.86 420.10,475.40 421.85,475.93 423.59,476.43 425.34,476.91 427.09,477.36 428.84,477.80 430.59,478.21 432.34,478.59 434.09,478.95 435.83,479.28 437.58,479.59 439.33,479.88 441.08,480.14 442.83,480.38 444.58,480.61 446.33,480.82 448.07,481.02 449.82,481.20 451.57,481.38 453.32,481.55 455.07,481.71 456.82,481.87 458.57,482.02 460.31,482.17 462.06,482.31 463.81,482.45 465.56,482.59 467.31,482.72 469.06,482.85 470.81,482.97 472.55,483.09 474.30,483.21 476.05,483.32 477.80,483.42 479.55,483.53 481.30,483.63 483.05,483.73 484.79,483.82 486.54,483.91 488.29,483.99 490.04,484.07 491.79,484.14 493.54,484.20 495.29,484.26 497.03,484.32 498.78,484.37 500.53,484.43 502.28,484.48 504.03,484.53 505.78,484.59 507.53,484.64 509.27,484.69 511.02,484.75 512.77,484.80 514.52,484.85 516.27,484.91 518.02,484.96 519.77,485.01 521.51,485.07 523.26,485.12 525.01,485.17 526.76,485.23 528.51,485.28 530.26,485.33 532.01,485.39 533.75,485.44 535.50,485.49 537.25,485.55 539.00,485.60" fill="none" stroke="#4a7fc6" stroke-width="0.9" stroke-linejoin="round" stroke-linecap="round" />
<polyline points="294.20,470.58 295.95,470.63 297.70,470.68 299.45,470.73 301.19,470.78 302.94,470.83 304.69,470.87 306.44,470.91 308.19,470.95 309.94,470.98 311.69,471.01 313.43,471.03 315.18,471.04 316.93,471.06 318.68,471.06 320.43,471.06 322.18,471.05 323.93,471.03 325.67,471.00 327.42,470.95 329.17,470.90 330.92,470.83 332.67,470.74 334.42,470.63 336.17,470.50 337.91,470.35 339.66,470.17 341.41,469.98 343.16,469.75 344.91,469.51 346.66,469.24 348.41,468.94 350.15,468.61 351.90,468.26 353.65,467.89 355.40,467.49 357.15,467.07 358.90,466.62 360.65,466.16 362.39,465.68 364.14,465.18 365.89,464.66 367.64,464.14 369.39,463.61 371.14,463.08 372.89,462.54 374.63,462.01 376.38,461.48 378.13,460.97 379.88,460.46 381.63,459.96 383.38,459.48 385.13,459.01 386.87,458.55 388.62,458.12 390.37,457.71 392.12,457.33 393.87,456.97 395.62,456.64 397.37,456.35 399.11,456.10 400.86,455.89 402.61,455.72 404.36,455.59 406.11,455.52 407.86,455.49 409.61,455.51 411.35,455.59 413.10,455.71 414.85,455.90 416.60,456.15 418.35,456.45 420.10,456.82 421.85,457.24 423.59,457.73 425.34,458.28 427.09,458.88 428.84,459.55 430.59,460.26 432.34,461.01 434.09,461.81 435.83,462.65 437.58,463.52 439.33,464.41 441.08,465.32 442.83,466.25 444.58,467.18 446.33,468.13 448.07,469.07 449.82,470.00 451.57,470.92 453.32,471.83 455.07,472.72 456.82,473.59 458.57,474.42 460.31,475.23 462.06,476.00 463.81,476.74 465.56,477.44 467.31,478.10 469.06,478.72 470.81,479.30 472.55,479.84 474.30,480.33 476.05,480.80 477.80,481.22 479.55,481.61 481.30,481.97 483.05,482.29 484.79,482.59 486.54,482.85 488.29,483.09 490.04,483.30 491.79,483.49 493.54,483.66 495.29,483.81 497.03,483.94 498.78,484.06 500.53,484.17 502.28,484.27 504.03,484.36 505.78,484.44 507.53,484.52 509.27,484.60 511.02,484.67 512.77,484.74 514.52,484.81 516.27,484.87 518.02,484.93 519.77,484.99 521.51,485.05 523.26,485.11 525.01,485.16 526.76,485.22 528.51,485.27 530.26,485.33 532.01,485.38 533.75,485.44 535.50,485.49 537.25,485.54 539.00,485.60" fill="none" stroke="#2f4d88" stroke-width="1.25" stroke-linejoin="round" stroke-linecap="round" />
<polyline points="294.20,470.60 295.95,470.66 297.70,470.72 299.45,470.78 301.19,470.83 302.94,470.89 304.69,470.95 306.44,471.01 308.19,471.07 309.94,471.13 311.69,471.19 313.43,471.24 315.18,471.30 316.93,471.37 318.68,471.43 320.43,471.50 322.18,471.57 323.93,471.64 325.67,471.72 327.42,471.79 329.17,471.87 330.92,471.95 332.67,472.03 334.42,472.11 336.17,472.20 337.91,472.28 339.66,472.36 341.41,472.44 343.16,472.53 344.91,472.61 346.66,472.70 348.41,472.78 350.15,472.87 351.90,472.95 353.65,473.04 355.40,473.13 357.15,473.21 358.90,473.30 360.65,473.39 362.39,473.48 364.14,473.58 365.89,473.67 367.64,473.77 369.39,473.88 371.14,473.98 372.89,474.10 374.63,474.23 376.38,474.36 378.13,474.50 379.88,474.65 381.63,474.81 383.38,474.97 385.13,475.14 386.87,475.31 388.62,475.49 390.37,475.68 392.12,475.86 393.87,476.06 395.62,476.26 397.37,476.46 399.11,476.67 400.86,476.88 402.61,477.10 404.36,477.32 406.11,477.54 407.86,477.76 409.61,477.97 411.35,478.19 413.10,478.40 414.85,478.60 416.60,478.80 418.35,478.99 420.10,479.18 421.85,479.37 423.59,479.55 425.34,479.73 427.09,479.90 428.84,480.07 430.59,480.23 432.34,480.38 434.09,480.53 435.83,480.67 437.58,480.81 439.33,480.94 441.08,481.06 442.83,481.17 444.58,481.29 446.33,481.40 448.07,481.51 449.82,481.62 451.57,481.74 453.32,481.85 455.07,481.96 456.82,482.08 458.57,482.19 460.31,482.31 462.06,482.43 463.81,482.55 465.56,482.67 467.31,482.78 469.06,482.90 470.81,483.01 472.55,483.12 474.30,483.23 476.05,483.34 477.80,483.44 479.55,483.54 481.30,483.64 483.05,483.74 484.79,483.83 486.54,483.91 488.29,483.99 490.04,484.07 491.79,484.14 493.54,484.21 495.29,484.27 497.03,484.32 498.78,484.37 500.53,484.43 502.28,484.48 504.03,484.53 505.78,484.59 507.53,484.64 509.27,484.69 511.02,484.75 512.77,484.80 514.52,484.85 516.27,484.91 518.02,484.96 519.77,485.01 521.51,485.07 523.26,485.12 525.01,485.17 526.76,485.23 528.51,485.28 530.26,485.33 532.01,485.39 533.75,485.44 535.50,485.49 537.25,485.55 539.00,485.60" fill="none" stroke="#2f4d88" stroke-width="1.4" stroke-linejoin="round" stroke-linecap="round" />
<path d="M294.20,516.30 L295.95,516.48 L297.70,516.65 L299.45,516.83 L301.19,517.00 L302.94,517.18 L304.69,517.35 L306.44,517.53 L308.19,517.70 L309.94,517.88 L311.69,518.05 L313.43,518.23 L315.18,518.41 L316.93,518.58 L318.68,518.76 L320.43,518.93 L322.18,519.11 L323.93,519.28 L325.67,519.46 L327.42,519.63 L329.17,519.80 L330.92,519.97 L332.67,520.14 L334.42,520.30 L336.17,520.45 L337.91,520.60 L339.66,520.75 L341.41,520.89 L343.16,521.02 L344.91,521.15 L346.66,521.27 L348.41,521.38 L350.15,521.49 L351.90,521.59 L353.65,521.69 L355.40,521.77 L357.15,521.85 L358.90,521.92 L360.65,521.98 L362.39,522.03 L364.14,522.08 L365.89,522.11 L367.64,522.13 L369.39,522.15 L371.14,522.16 L372.89,522.16 L374.63,522.16 L376.38,522.15 L378.13,522.13 L379.88,522.10 L381.63,522.06 L383.38,522.01 L385.13,521.94 L386.87,521.86 L388.62,521.77 L390.37,521.66 L392.12,521.53 L393.87,521.39 L395.62,521.24 L397.37,521.08 L399.11,520.90 L400.86,520.71 L402.61,520.52 L404.36,520.32 L406.11,520.10 L407.86,519.88 L409.61,519.66 L411.35,519.43 L413.10,519.21 L414.85,518.99 L416.60,518.78 L418.35,518.59 L420.10,518.41 L421.85,518.26 L423.59,518.14 L425.34,518.04 L427.09,517.98 L428.84,517.96 L430.59,517.97 L432.34,518.04 L434.09,518.14 L435.83,518.30 L437.58,518.50 L439.33,518.74 L441.08,519.04 L442.83,519.38 L444.58,519.77 L446.33,520.21 L448.07,520.69 L449.82,521.21 L451.57,521.76 L453.32,522.35 L455.07,522.97 L456.82,523.61 L458.57,524.28 L460.31,524.95 L462.06,525.64 L463.81,526.34 L465.56,527.04 L467.31,527.74 L469.06,528.44 L470.81,529.13 L472.55,529.81 L474.30,530.48 L476.05,531.13 L477.80,531.77 L479.55,532.39 L481.30,532.99 L483.05,533.57 L484.79,534.13 L486.54,534.66 L488.29,535.18 L490.04,535.68 L491.79,536.16 L493.54,536.61 L495.29,537.04 L497.03,537.43 L498.78,537.81 L500.53,538.16 L502.28,538.48 L504.03,538.79 L505.78,539.07 L507.53,539.33 L509.27,539.57 L511.02,539.80 L512.77,540.01 L514.52,540.20 L516.27,540.37 L518.02,540.54 L519.77,540.68 L521.51,540.82 L523.26,540.94 L525.01,541.06 L526.76,541.17 L528.51,541.28 L530.26,541.38 L532.01,541.48 L533.75,541.59 L535.50,541.69 L537.25,541.79 L539.00,541.88 L539.00,541.90 L537.25,541.81 L535.50,541.71 L533.75,541.62 L532.01,541.52 L530.26,541.43 L528.51,541.34 L526.76,541.24 L525.01,541.15 L523.26,541.06 L521.51,540.96 L519.77,540.85 L518.02,540.73 L516.27,540.61 L514.52,540.47 L512.77,540.33 L511.02,540.19 L509.27,540.03 L507.53,539.87 L505.78,539.70 L504.03,539.52 L502.28,539.33 L500.53,539.13 L498.78,538.93 L497.03,538.72 L495.29,538.50 L493.54,538.28 L491.79,538.05 L490.04,537.81 L488.29,537.57 L486.54,537.34 L484.79,537.11 L483.05,536.88 L481.30,536.65 L479.55,536.42 L477.80,536.19 L476.05,535.97 L474.30,535.75 L472.55,535.52 L470.81,535.30 L469.06,535.08 L467.31,534.87 L465.56,534.65 L463.81,534.43 L462.06,534.22 L460.31,534.00 L458.57,533.79 L456.82,533.58 L455.07,533.36 L453.32,533.15 L451.57,532.94 L449.82,532.73 L448.07,532.53 L446.33,532.32 L444.58,532.11 L442.83,531.91 L441.08,531.71 L439.33,531.50 L437.58,531.29 L435.83,531.08 L434.09,530.87 L432.34,530.66 L430.59,530.44 L428.84,530.22 L427.09,530.00 L425.34,529.78 L423.59,529.55 L421.85,529.32 L420.10,529.08 L418.35,528.84 L416.60,528.60 L414.85,528.35 L413.10,528.10 L411.35,527.85 L409.61,527.59 L407.86,527.33 L406.11,527.07 L404.36,526.80 L402.61,526.54 L400.86,526.28 L399.11,526.02 L397.37,525.78 L395.62,525.54 L393.87,525.30 L392.12,525.08 L390.37,524.86 L388.62,524.65 L386.87,524.44 L385.13,524.25 L383.38,524.06 L381.63,523.87 L379.88,523.70 L378.13,523.54 L376.38,523.38 L374.63,523.23 L372.89,523.09 L371.14,522.96 L369.39,522.84 L367.64,522.73 L365.89,522.62 L364.14,522.51 L362.39,522.40 L360.65,522.29 L358.90,522.18 L357.15,522.07 L355.40,521.96 L353.65,521.84 L351.90,521.72 L350.15,521.59 L348.41,521.47 L346.66,521.34 L344.91,521.20 L343.16,521.07 L341.41,520.92 L339.66,520.78 L337.91,520.63 L336.17,520.47 L334.42,520.31 L332.67,520.15 L330.92,519.98 L329.17,519.81 L327.42,519.64 L325.67,519.46 L323.93,519.28 L322.18,519.11 L320.43,518.93 L318.68,518.76 L316.93,518.58 L315.18,518.41 L313.43,518.23 L311.69,518.06 L309.94,517.88 L308.19,517.70 L306.44,517.53 L304.69,517.35 L302.94,517.18 L301.19,517.00 L299.45,516.83 L297.70,516.65 L295.95,516.48 L294.20,516.30 Z" fill="url(#gR)" stroke="none"/>
<polyline points="294.20,516.30 295.95,516.48 297.70,516.65 299.45,516.83 301.19,517.00 302.94,517.18 304.69,517.35 306.44,517.53 308.19,517.70 309.94,517.88 311.69,518.05 313.43,518.23 315.18,518.41 316.93,518.58 318.68,518.76 320.43,518.93 322.18,519.11 323.93,519.28 325.67,519.46 327.42,519.63 329.17,519.80 330.92,519.97 332.67,520.14 334.42,520.30 336.17,520.45 337.91,520.60 339.66,520.75 341.41,520.89 343.16,521.02 344.91,521.15 346.66,521.27 348.41,521.38 350.15,521.49 351.90,521.59 353.65,521.69 355.40,521.77 357.15,521.85 358.90,521.92 360.65,521.98 362.39,522.03 364.14,522.08 365.89,522.11 367.64,522.13 369.39,522.15 371.14,522.16 372.89,522.16 374.63,522.16 376.38,522.15 378.13,522.13 379.88,522.10 381.63,522.06 383.38,522.01 385.13,521.94 386.87,521.86 388.62,521.77 390.37,521.66 392.12,521.53 393.87,521.39 395.62,521.24 397.37,521.08 399.11,520.90 400.86,520.71 402.61,520.52 404.36,520.32 406.11,520.10 407.86,519.88 409.61,519.66 411.35,519.43 413.10,519.21 414.85,518.99 416.60,518.78 418.35,518.59 420.10,518.41 421.85,518.26 423.59,518.14 425.34,518.04 427.09,517.98 428.84,517.96 430.59,517.97 432.34,518.04 434.09,518.14 435.83,518.30 437.58,518.50 439.33,518.74 441.08,519.04 442.83,519.38 444.58,519.77 446.33,520.21 448.07,520.69 449.82,521.21 451.57,521.76 453.32,522.35 455.07,522.97 456.82,523.61 458.57,524.28 460.31,524.95 462.06,525.64 463.81,526.34 465.56,527.04 467.31,527.74 469.06,528.44 470.81,529.13 472.55,529.81 474.30,530.48 476.05,531.13 477.80,531.77 479.55,532.39 481.30,532.99 483.05,533.57 484.79,534.13 486.54,534.66 488.29,535.18 490.04,535.68 491.79,536.16 493.54,536.61 495.29,537.04 497.03,537.43 498.78,537.81 500.53,538.16 502.28,538.48 504.03,538.79 505.78,539.07 507.53,539.33 509.27,539.57 511.02,539.80 512.77,540.01 514.52,540.20 516.27,540.37 518.02,540.54 519.77,540.68 521.51,540.82 523.26,540.94 525.01,541.06 526.76,541.17 528.51,541.28 530.26,541.38 532.01,541.48 533.75,541.59 535.50,541.69 537.25,541.79 539.00,541.88" fill="none" stroke="#f26a72" stroke-width="0.7" stroke-linejoin="round" stroke-linecap="round" />
<path d="M294.20,516.30 L295.95,516.47 L297.70,516.65 L299.45,516.82 L301.19,517.00 L302.94,517.17 L304.69,517.34 L306.44,517.52 L308.19,517.69 L309.94,517.86 L311.69,518.03 L313.43,518.20 L315.18,518.37 L316.93,518.53 L318.68,518.70 L320.43,518.86 L322.18,519.02 L323.93,519.17 L325.67,519.33 L327.42,519.47 L329.17,519.61 L330.92,519.75 L332.67,519.87 L334.42,519.98 L336.17,520.08 L337.91,520.16 L339.66,520.23 L341.41,520.29 L343.16,520.33 L344.91,520.36 L346.66,520.37 L348.41,520.36 L350.15,520.33 L351.90,520.29 L353.65,520.23 L355.40,520.16 L357.15,520.07 L358.90,519.96 L360.65,519.84 L362.39,519.71 L364.14,519.57 L365.89,519.42 L367.64,519.27 L369.39,519.11 L371.14,518.97 L372.89,518.83 L374.63,518.71 L376.38,518.60 L378.13,518.52 L379.88,518.45 L381.63,518.41 L383.38,518.40 L385.13,518.42 L386.87,518.47 L388.62,518.55 L390.37,518.66 L392.12,518.82 L393.87,519.01 L395.62,519.24 L397.37,519.50 L399.11,519.81 L400.86,520.15 L402.61,520.53 L404.36,520.93 L406.11,521.36 L407.86,521.81 L409.61,522.28 L411.35,522.76 L413.10,523.26 L414.85,523.76 L416.60,524.26 L418.35,524.77 L420.10,525.28 L421.85,525.78 L423.59,526.27 L425.34,526.76 L427.09,527.24 L428.84,527.70 L430.59,528.16 L432.34,528.59 L434.09,529.02 L435.83,529.42 L437.58,529.82 L439.33,530.19 L441.08,530.55 L442.83,530.90 L444.58,531.23 L446.33,531.55 L448.07,531.86 L449.82,532.17 L451.57,532.46 L453.32,532.74 L455.07,533.01 L456.82,533.28 L458.57,533.54 L460.31,533.80 L462.06,534.05 L463.81,534.29 L465.56,534.53 L467.31,534.77 L469.06,535.01 L470.81,535.24 L472.55,535.47 L474.30,535.71 L476.05,535.94 L477.80,536.17 L479.55,536.40 L481.30,536.63 L483.05,536.86 L484.79,537.10 L486.54,537.33 L488.29,537.57 L490.04,537.81 L491.79,538.04 L493.54,538.27 L495.29,538.50 L497.03,538.72 L498.78,538.93 L500.53,539.13 L502.28,539.33 L504.03,539.52 L505.78,539.70 L507.53,539.87 L509.27,540.03 L511.02,540.19 L512.77,540.33 L514.52,540.47 L516.27,540.61 L518.02,540.73 L519.77,540.85 L521.51,540.96 L523.26,541.06 L525.01,541.15 L526.76,541.24 L528.51,541.34 L530.26,541.43 L532.01,541.52 L533.75,541.62 L535.50,541.71 L537.25,541.81 L539.00,541.90 L539.00,541.90 L537.25,541.81 L535.50,541.71 L533.75,541.62 L532.01,541.52 L530.26,541.43 L528.51,541.34 L526.76,541.24 L525.01,541.15 L523.26,541.06 L521.51,540.96 L519.77,540.85 L518.02,540.73 L516.27,540.61 L514.52,540.47 L512.77,540.33 L511.02,540.19 L509.27,540.03 L507.53,539.87 L505.78,539.70 L504.03,539.52 L502.28,539.33 L500.53,539.13 L498.78,538.93 L497.03,538.72 L495.29,538.50 L493.54,538.28 L491.79,538.05 L490.04,537.81 L488.29,537.57 L486.54,537.34 L484.79,537.11 L483.05,536.88 L481.30,536.65 L479.55,536.42 L477.80,536.19 L476.05,535.97 L474.30,535.75 L472.55,535.52 L470.81,535.30 L469.06,535.08 L467.31,534.87 L465.56,534.65 L463.81,534.43 L462.06,534.22 L460.31,534.00 L458.57,533.79 L456.82,533.58 L455.07,533.36 L453.32,533.15 L451.57,532.94 L449.82,532.73 L448.07,532.53 L446.33,532.32 L444.58,532.11 L442.83,531.91 L441.08,531.71 L439.33,531.50 L437.58,531.29 L435.83,531.08 L434.09,530.87 L432.34,530.66 L430.59,530.44 L428.84,530.22 L427.09,530.00 L425.34,529.78 L423.59,529.55 L421.85,529.32 L420.10,529.08 L418.35,528.84 L416.60,528.60 L414.85,528.35 L413.10,528.10 L411.35,527.85 L409.61,527.59 L407.86,527.33 L406.11,527.07 L404.36,526.80 L402.61,526.54 L400.86,526.28 L399.11,526.02 L397.37,525.78 L395.62,525.54 L393.87,525.30 L392.12,525.08 L390.37,524.86 L388.62,524.65 L386.87,524.44 L385.13,524.25 L383.38,524.06 L381.63,523.87 L379.88,523.70 L378.13,523.54 L376.38,523.38 L374.63,523.23 L372.89,523.09 L371.14,522.96 L369.39,522.84 L367.64,522.73 L365.89,522.62 L364.14,522.51 L362.39,522.40 L360.65,522.29 L358.90,522.18 L357.15,522.07 L355.40,521.96 L353.65,521.84 L351.90,521.72 L350.15,521.59 L348.41,521.47 L346.66,521.34 L344.91,521.20 L343.16,521.07 L341.41,520.92 L339.66,520.78 L337.91,520.63 L336.17,520.47 L334.42,520.31 L332.67,520.15 L330.92,519.98 L329.17,519.81 L327.42,519.64 L325.67,519.46 L323.93,519.28 L322.18,519.11 L320.43,518.93 L318.68,518.76 L316.93,518.58 L315.18,518.41 L313.43,518.23 L311.69,518.06 L309.94,517.88 L308.19,517.70 L306.44,517.53 L304.69,517.35 L302.94,517.18 L301.19,517.00 L299.45,516.83 L297.70,516.65 L295.95,516.48 L294.20,516.30 Z" fill="url(#gB)" fill-opacity="0.9" stroke="none"/>
<polyline points="294.20,516.30 295.95,516.47 297.70,516.65 299.45,516.82 301.19,517.00 302.94,517.17 304.69,517.34 306.44,517.52 308.19,517.69 309.94,517.86 311.69,518.03 313.43,518.20 315.18,518.37 316.93,518.53 318.68,518.70 320.43,518.86 322.18,519.02 323.93,519.17 325.67,519.33 327.42,519.47 329.17,519.61 330.92,519.75 332.67,519.87 334.42,519.98 336.17,520.08 337.91,520.16 339.66,520.23 341.41,520.29 343.16,520.33 344.91,520.36 346.66,520.37 348.41,520.36 350.15,520.33 351.90,520.29 353.65,520.23 355.40,520.16 357.15,520.07 358.90,519.96 360.65,519.84 362.39,519.71 364.14,519.57 365.89,519.42 367.64,519.27 369.39,519.11 371.14,518.97 372.89,518.83 374.63,518.71 376.38,518.60 378.13,518.52 379.88,518.45 381.63,518.41 383.38,518.40 385.13,518.42 386.87,518.47 388.62,518.55 390.37,518.66 392.12,518.82 393.87,519.01 395.62,519.24 397.37,519.50 399.11,519.81 400.86,520.15 402.61,520.53 404.36,520.93 406.11,521.36 407.86,521.81 409.61,522.28 411.35,522.76 413.10,523.26 414.85,523.76 416.60,524.26 418.35,524.77 420.10,525.28 421.85,525.78 423.59,526.27 425.34,526.76 427.09,527.24 428.84,527.70 430.59,528.16 432.34,528.59 434.09,529.02 435.83,529.42 437.58,529.82 439.33,530.19 441.08,530.55 442.83,530.90 444.58,531.23 446.33,531.55 448.07,531.86 449.82,532.17 451.57,532.46 453.32,532.74 455.07,533.01 456.82,533.28 458.57,533.54 460.31,533.80 462.06,534.05 463.81,534.29 465.56,534.53 467.31,534.77 469.06,535.01 470.81,535.24 472.55,535.47 474.30,535.71 476.05,535.94 477.80,536.17 479.55,536.40 481.30,536.63 483.05,536.86 484.79,537.10 486.54,537.33 488.29,537.57 490.04,537.81 491.79,538.04 493.54,538.27 495.29,538.50 497.03,538.72 498.78,538.93 500.53,539.13 502.28,539.33 504.03,539.52 505.78,539.70 507.53,539.87 509.27,540.03 511.02,540.19 512.77,540.33 514.52,540.47 516.27,540.61 518.02,540.73 519.77,540.85 521.51,540.96 523.26,541.06 525.01,541.15 526.76,541.24 528.51,541.34 530.26,541.43 532.01,541.52 533.75,541.62 535.50,541.71 537.25,541.81 539.00,541.90" fill="none" stroke="#4a7fc6" stroke-width="0.9" stroke-linejoin="round" stroke-linecap="round" />
<polyline points="294.20,516.30 295.95,516.47 297.70,516.65 299.45,516.82 301.19,517.00 302.94,517.17 304.69,517.34 306.44,517.52 308.19,517.69 309.94,517.86 311.69,518.03 313.43,518.20 315.18,518.37 316.93,518.53 318.68,518.70 320.43,518.86 322.18,519.02 323.93,519.17 325.67,519.32 327.42,519.47 329.17,519.61 330.92,519.74 332.67,519.86 334.42,519.96 336.17,520.06 337.91,520.14 339.66,520.20 341.41,520.25 343.16,520.29 344.91,520.30 346.66,520.30 348.41,520.27 350.15,520.23 351.90,520.17 353.65,520.08 355.40,519.98 357.15,519.85 358.90,519.70 360.65,519.53 362.39,519.34 364.14,519.13 365.89,518.91 367.64,518.67 369.39,518.42 371.14,518.16 372.89,517.90 374.63,517.64 376.38,517.38 378.13,517.11 379.88,516.86 381.63,516.60 383.38,516.36 385.13,516.12 386.87,515.89 388.62,515.67 390.37,515.47 392.12,515.27 393.87,515.10 395.62,514.94 397.37,514.80 399.11,514.68 400.86,514.58 402.61,514.51 404.36,514.44 406.11,514.39 407.86,514.36 409.61,514.35 411.35,514.35 413.10,514.36 414.85,514.39 416.60,514.45 418.35,514.52 420.10,514.61 421.85,514.72 423.59,514.86 425.34,515.02 427.09,515.22 428.84,515.44 430.59,515.69 432.34,515.97 434.09,516.29 435.83,516.64 437.58,517.02 439.33,517.44 441.08,517.89 442.83,518.37 444.58,518.89 446.33,519.44 448.07,520.03 449.82,520.64 451.57,521.28 453.32,521.94 455.07,522.62 456.82,523.32 458.57,524.03 460.31,524.75 462.06,525.47 463.81,526.20 465.56,526.92 467.31,527.65 469.06,528.36 470.81,529.06 472.55,529.76 474.30,530.44 476.05,531.10 477.80,531.74 479.55,532.37 481.30,532.97 483.05,533.55 484.79,534.12 486.54,534.66 488.29,535.18 490.04,535.68 491.79,536.16 493.54,536.61 495.29,537.03 497.03,537.43 498.78,537.81 500.53,538.16 502.28,538.48 504.03,538.79 505.78,539.07 507.53,539.33 509.27,539.57 511.02,539.80 512.77,540.01 514.52,540.20 516.27,540.37 518.02,540.54 519.77,540.68 521.51,540.82 523.26,540.94 525.01,541.06 526.76,541.17 528.51,541.28 530.26,541.38 532.01,541.48 533.75,541.59 535.50,541.69 537.25,541.79 539.00,541.88" fill="none" stroke="#2f4d88" stroke-width="1.25" stroke-linejoin="round" stroke-linecap="round" />
<polyline points="294.20,516.30 295.95,516.48 297.70,516.65 299.45,516.83 301.19,517.00 302.94,517.18 304.69,517.35 306.44,517.53 308.19,517.70 309.94,517.88 311.69,518.06 313.43,518.23 315.18,518.41 316.93,518.58 318.68,518.76 320.43,518.93 322.18,519.11 323.93,519.28 325.67,519.46 327.42,519.64 329.17,519.81 330.92,519.98 332.67,520.15 334.42,520.31 336.17,520.47 337.91,520.63 339.66,520.78 341.41,520.92 343.16,521.07 344.91,521.20 346.66,521.34 348.41,521.47 350.15,521.59 351.90,521.72 353.65,521.84 355.40,521.96 357.15,522.07 358.90,522.18 360.65,522.29 362.39,522.40 364.14,522.51 365.89,522.62 367.64,522.73 369.39,522.84 371.14,522.96 372.89,523.09 374.63,523.23 376.38,523.38 378.13,523.54 379.88,523.70 381.63,523.87 383.38,524.06 385.13,524.25 386.87,524.44 388.62,524.65 390.37,524.86 392.12,525.08 393.87,525.30 395.62,525.54 397.37,525.78 399.11,526.02 400.86,526.28 402.61,526.54 404.36,526.80 406.11,527.07 407.86,527.33 409.61,527.59 411.35,527.85 413.10,528.10 414.85,528.35 416.60,528.60 418.35,528.84 420.10,529.08 421.85,529.32 423.59,529.55 425.34,529.78 427.09,530.00 428.84,530.22 430.59,530.44 432.34,530.66 434.09,530.87 435.83,531.08 437.58,531.29 439.33,531.50 441.08,531.71 442.83,531.91 444.58,532.11 446.33,532.32 448.07,532.53 449.82,532.73 451.57,532.94 453.32,533.15 455.07,533.36 456.82,533.58 458.57,533.79 460.31,534.00 462.06,534.22 463.81,534.43 465.56,534.65 467.31,534.87 469.06,535.08 470.81,535.30 472.55,535.52 474.30,535.75 476.05,535.97 477.80,536.19 479.55,536.42 481.30,536.65 483.05,536.88 484.79,537.11 486.54,537.34 488.29,537.57 490.04,537.81 491.79,538.05 493.54,538.28 495.29,538.50 497.03,538.72 498.78,538.93 500.53,539.13 502.28,539.33 504.03,539.52 505.78,539.70 507.53,539.87 509.27,540.03 511.02,540.19 512.77,540.33 514.52,540.47 516.27,540.61 518.02,540.73 519.77,540.85 521.51,540.96 523.26,541.06 525.01,541.15 526.76,541.24 528.51,541.34 530.26,541.43 532.01,541.52 533.75,541.62 535.50,541.71 537.25,541.81 539.00,541.90" fill="none" stroke="#141414" stroke-width="1.4" stroke-linejoin="round" stroke-linecap="round" />
<path d="M304.20,598.69 L305.88,598.85 L307.55,599.02 L309.23,599.18 L310.91,599.34 L312.59,599.51 L314.26,599.67 L315.94,599.83 L317.62,599.99 L319.29,600.15 L320.97,600.31 L322.65,600.47 L324.33,600.63 L326.00,600.79 L327.68,600.94 L329.36,601.10 L331.03,601.24 L332.71,601.38 L334.39,601.52 L336.07,601.65 L337.74,601.77 L339.42,601.88 L341.10,601.99 L342.77,602.08 L344.45,602.17 L346.13,602.24 L347.81,602.31 L349.48,602.36 L351.16,602.40 L352.84,602.43 L354.51,602.45 L356.19,602.46 L357.87,602.45 L359.55,602.44 L361.22,602.41 L362.90,602.37 L364.58,602.31 L366.25,602.25 L367.93,602.18 L369.61,602.10 L371.29,602.01 L372.96,601.92 L374.64,601.83 L376.32,601.73 L377.99,601.63 L379.67,601.53 L381.35,601.42 L383.03,601.32 L384.70,601.23 L386.38,601.13 L388.06,601.05 L389.73,600.97 L391.41,600.89 L393.09,600.84 L394.77,600.79 L396.44,600.76 L398.12,600.75 L399.80,600.76 L401.47,600.78 L403.15,600.83 L404.83,600.90 L406.51,600.99 L408.18,601.11 L409.86,601.25 L411.54,601.41 L413.21,601.59 L414.89,601.78 L416.57,602.00 L418.25,602.25 L419.92,602.51 L421.60,602.78 L423.28,603.08 L424.95,603.40 L426.63,603.73 L428.31,604.07 L429.99,604.43 L431.66,604.80 L433.34,605.18 L435.02,605.57 L436.69,605.96 L438.37,606.36 L440.05,606.77 L441.73,607.17 L443.40,607.58 L445.08,607.99 L446.76,608.40 L448.43,608.81 L450.11,609.22 L451.79,609.63 L453.47,610.04 L455.14,610.45 L456.82,610.85 L458.50,611.25 L460.17,611.65 L461.85,612.04 L463.53,612.42 L465.21,612.80 L466.88,613.17 L468.56,613.53 L470.24,613.88 L471.91,614.23 L473.59,614.57 L475.27,614.91 L476.95,615.24 L478.62,615.56 L480.30,615.88 L481.98,616.19 L483.65,616.49 L485.33,616.79 L487.01,617.08 L488.69,617.37 L490.36,617.64 L492.04,617.91 L493.72,618.18 L495.39,618.44 L497.07,618.70 L498.75,618.94 L500.43,619.19 L502.10,619.43 L503.78,619.66 L505.46,619.89 L507.13,620.12 L508.81,620.34 L510.49,620.56 L512.17,620.78 L513.84,620.99 L515.52,621.21 L517.20,621.41 L518.87,621.62 L520.55,621.82 L522.23,622.03 L523.91,622.23 L525.58,622.42 L527.26,622.62 L528.94,622.82 L530.61,623.02 L532.29,623.21 L533.97,623.41 L535.65,623.61 L537.32,623.80 L539.00,624.00 L539.00,624.00 L537.32,623.80 L535.65,623.61 L533.97,623.41 L532.29,623.22 L530.61,623.02 L528.94,622.82 L527.26,622.63 L525.58,622.43 L523.91,622.24 L522.23,622.04 L520.55,621.84 L518.87,621.64 L517.20,621.44 L515.52,621.23 L513.84,621.03 L512.17,620.82 L510.49,620.61 L508.81,620.40 L507.13,620.19 L505.46,619.97 L503.78,619.76 L502.10,619.54 L500.43,619.32 L498.75,619.10 L497.07,618.87 L495.39,618.65 L493.72,618.42 L492.04,618.19 L490.36,617.96 L488.69,617.73 L487.01,617.51 L485.33,617.28 L483.65,617.05 L481.98,616.82 L480.30,616.59 L478.62,616.36 L476.95,616.14 L475.27,615.93 L473.59,615.71 L471.91,615.50 L470.24,615.30 L468.56,615.10 L466.88,614.90 L465.21,614.71 L463.53,614.52 L461.85,614.34 L460.17,614.16 L458.50,613.98 L456.82,613.81 L455.14,613.65 L453.47,613.49 L451.79,613.34 L450.11,613.20 L448.43,613.06 L446.76,612.92 L445.08,612.79 L443.40,612.65 L441.73,612.52 L440.05,612.39 L438.37,612.26 L436.69,612.12 L435.02,611.98 L433.34,611.84 L431.66,611.69 L429.99,611.54 L428.31,611.39 L426.63,611.23 L424.95,611.07 L423.28,610.90 L421.60,610.73 L419.92,610.55 L418.25,610.36 L416.57,610.17 L414.89,609.98 L413.21,609.78 L411.54,609.58 L409.86,609.37 L408.18,609.16 L406.51,608.94 L404.83,608.73 L403.15,608.51 L401.47,608.30 L399.80,608.09 L398.12,607.88 L396.44,607.67 L394.77,607.47 L393.09,607.27 L391.41,607.07 L389.73,606.88 L388.06,606.69 L386.38,606.50 L384.70,606.32 L383.03,606.14 L381.35,605.96 L379.67,605.79 L377.99,605.62 L376.32,605.45 L374.64,605.29 L372.96,605.14 L371.29,604.99 L369.61,604.84 L367.93,604.70 L366.25,604.56 L364.58,604.42 L362.90,604.29 L361.22,604.15 L359.55,604.02 L357.87,603.88 L356.19,603.74 L354.51,603.60 L352.84,603.46 L351.16,603.32 L349.48,603.17 L347.81,603.03 L346.13,602.88 L344.45,602.73 L342.77,602.57 L341.10,602.42 L339.42,602.26 L337.74,602.10 L336.07,601.93 L334.39,601.76 L332.71,601.59 L331.03,601.42 L329.36,601.25 L327.68,601.07 L326.00,600.90 L324.33,600.73 L322.65,600.55 L320.97,600.38 L319.29,600.21 L317.62,600.04 L315.94,599.87 L314.26,599.70 L312.59,599.53 L310.91,599.36 L309.23,599.20 L307.55,599.03 L305.88,598.87 L304.20,598.70 Z" fill="url(#gR)" stroke="none"/>
<polyline points="304.20,598.69 305.88,598.85 307.55,599.02 309.23,599.18 310.91,599.34 312.59,599.51 314.26,599.67 315.94,599.83 317.62,599.99 319.29,600.15 320.97,600.31 322.65,600.47 324.33,600.63 326.00,600.79 327.68,600.94 329.36,601.10 331.03,601.24 332.71,601.38 334.39,601.52 336.07,601.65 337.74,601.77 339.42,601.88 341.10,601.99 342.77,602.08 344.45,602.17 346.13,602.24 347.81,602.31 349.48,602.36 351.16,602.40 352.84,602.43 354.51,602.45 356.19,602.46 357.87,602.45 359.55,602.44 361.22,602.41 362.90,602.37 364.58,602.31 366.25,602.25 367.93,602.18 369.61,602.10 371.29,602.01 372.96,601.92 374.64,601.83 376.32,601.73 377.99,601.63 379.67,601.53 381.35,601.42 383.03,601.32 384.70,601.23 386.38,601.13 388.06,601.05 389.73,600.97 391.41,600.89 393.09,600.84 394.77,600.79 396.44,600.76 398.12,600.75 399.80,600.76 401.47,600.78 403.15,600.83 404.83,600.90 406.51,600.99 408.18,601.11 409.86,601.25 411.54,601.41 413.21,601.59 414.89,601.78 416.57,602.00 418.25,602.25 419.92,602.51 421.60,602.78 423.28,603.08 424.95,603.40 426.63,603.73 428.31,604.07 429.99,604.43 431.66,604.80 433.34,605.18 435.02,605.57 436.69,605.96 438.37,606.36 440.05,606.77 441.73,607.17 443.40,607.58 445.08,607.99 446.76,608.40 448.43,608.81 450.11,609.22 451.79,609.63 453.47,610.04 455.14,610.45 456.82,610.85 458.50,611.25 460.17,611.65 461.85,612.04 463.53,612.42 465.21,612.80 466.88,613.17 468.56,613.53 470.24,613.88 471.91,614.23 473.59,614.57 475.27,614.91 476.95,615.24 478.62,615.56 480.30,615.88 481.98,616.19 483.65,616.49 485.33,616.79 487.01,617.08 488.69,617.37 490.36,617.64 492.04,617.91 493.72,618.18 495.39,618.44 497.07,618.70 498.75,618.94 500.43,619.19 502.10,619.43 503.78,619.66 505.46,619.89 507.13,620.12 508.81,620.34 510.49,620.56 512.17,620.78 513.84,620.99 515.52,621.21 517.20,621.41 518.87,621.62 520.55,621.82 522.23,622.03 523.91,622.23 525.58,622.42 527.26,622.62 528.94,622.82 530.61,623.02 532.29,623.21 533.97,623.41 535.65,623.61 537.32,623.80 539.00,624.00" fill="none" stroke="#f26a72" stroke-width="0.7" stroke-linejoin="round" stroke-linecap="round" />
<path d="M304.20,598.70 L305.88,598.86 L307.55,599.03 L309.23,599.19 L310.91,599.35 L312.59,599.52 L314.26,599.68 L315.94,599.85 L317.62,600.01 L319.29,600.17 L320.97,600.33 L322.65,600.48 L324.33,600.63 L326.00,600.78 L327.68,600.92 L329.36,601.05 L331.03,601.17 L332.71,601.28 L334.39,601.37 L336.07,601.44 L337.74,601.50 L339.42,601.53 L341.10,601.54 L342.77,601.53 L344.45,601.48 L346.13,601.41 L347.81,601.30 L349.48,601.16 L351.16,601.00 L352.84,600.80 L354.51,600.57 L356.19,600.32 L357.87,600.04 L359.55,599.75 L361.22,599.43 L362.90,599.11 L364.58,598.79 L366.25,598.48 L367.93,598.18 L369.61,597.89 L371.29,597.64 L372.96,597.43 L374.64,597.27 L376.32,597.16 L377.99,597.10 L379.67,597.11 L381.35,597.19 L383.03,597.34 L384.70,597.55 L386.38,597.83 L388.06,598.18 L389.73,598.59 L391.41,599.05 L393.09,599.57 L394.77,600.13 L396.44,600.73 L398.12,601.36 L399.80,602.01 L401.47,602.68 L403.15,603.36 L404.83,604.03 L406.51,604.69 L408.18,605.33 L409.86,605.96 L411.54,606.56 L413.21,607.13 L414.89,607.67 L416.57,608.18 L418.25,608.65 L419.92,609.08 L421.60,609.48 L423.28,609.86 L424.95,610.20 L426.63,610.51 L428.31,610.80 L429.99,611.06 L431.66,611.30 L433.34,611.52 L435.02,611.73 L436.69,611.92 L438.37,612.10 L440.05,612.27 L441.73,612.43 L443.40,612.58 L445.08,612.73 L446.76,612.88 L448.43,613.03 L450.11,613.17 L451.79,613.32 L453.47,613.48 L455.14,613.64 L456.82,613.81 L458.50,613.98 L460.17,614.15 L461.85,614.33 L463.53,614.52 L465.21,614.71 L466.88,614.90 L468.56,615.10 L470.24,615.30 L471.91,615.50 L473.59,615.71 L475.27,615.93 L476.95,616.14 L478.62,616.36 L480.30,616.59 L481.98,616.82 L483.65,617.05 L485.33,617.28 L487.01,617.51 L488.69,617.73 L490.36,617.96 L492.04,618.19 L493.72,618.42 L495.39,618.65 L497.07,618.87 L498.75,619.10 L500.43,619.32 L502.10,619.54 L503.78,619.76 L505.46,619.97 L507.13,620.19 L508.81,620.40 L510.49,620.61 L512.17,620.82 L513.84,621.03 L515.52,621.23 L517.20,621.44 L518.87,621.64 L520.55,621.84 L522.23,622.04 L523.91,622.24 L525.58,622.43 L527.26,622.63 L528.94,622.82 L530.61,623.02 L532.29,623.22 L533.97,623.41 L535.65,623.61 L537.32,623.80 L539.00,624.00 L539.00,624.00 L537.32,623.80 L535.65,623.61 L533.97,623.41 L532.29,623.22 L530.61,623.02 L528.94,622.82 L527.26,622.63 L525.58,622.43 L523.91,622.24 L522.23,622.04 L520.55,621.84 L518.87,621.64 L517.20,621.44 L515.52,621.23 L513.84,621.03 L512.17,620.82 L510.49,620.61 L508.81,620.40 L507.13,620.19 L505.46,619.97 L503.78,619.76 L502.10,619.54 L500.43,619.32 L498.75,619.10 L497.07,618.87 L495.39,618.65 L493.72,618.42 L492.04,618.19 L490.36,617.96 L488.69,617.73 L487.01,617.51 L485.33,617.28 L483.65,617.05 L481.98,616.82 L480.30,616.59 L478.62,616.36 L476.95,616.14 L475.27,615.93 L473.59,615.71 L471.91,615.50 L470.24,615.30 L468.56,615.10 L466.88,614.90 L465.21,614.71 L463.53,614.52 L461.85,614.34 L460.17,614.16 L458.50,613.98 L456.82,613.81 L455.14,613.65 L453.47,613.49 L451.79,613.34 L450.11,613.20 L448.43,613.06 L446.76,612.92 L445.08,612.79 L443.40,612.65 L441.73,612.52 L440.05,612.39 L438.37,612.26 L436.69,612.12 L435.02,611.98 L433.34,611.84 L431.66,611.69 L429.99,611.54 L428.31,611.39 L426.63,611.23 L424.95,611.07 L423.28,610.90 L421.60,610.73 L419.92,610.55 L418.25,610.36 L416.57,610.17 L414.89,609.98 L413.21,609.78 L411.54,609.58 L409.86,609.37 L408.18,609.16 L406.51,608.94 L404.83,608.73 L403.15,608.51 L401.47,608.30 L399.80,608.09 L398.12,607.88 L396.44,607.67 L394.77,607.47 L393.09,607.27 L391.41,607.07 L389.73,606.88 L388.06,606.69 L386.38,606.50 L384.70,606.32 L383.03,606.14 L381.35,605.96 L379.67,605.79 L377.99,605.62 L376.32,605.45 L374.64,605.29 L372.96,605.14 L371.29,604.99 L369.61,604.84 L367.93,604.70 L366.25,604.56 L364.58,604.42 L362.90,604.29 L361.22,604.15 L359.55,604.02 L357.87,603.88 L356.19,603.74 L354.51,603.60 L352.84,603.46 L351.16,603.32 L349.48,603.17 L347.81,603.03 L346.13,602.88 L344.45,602.73 L342.77,602.57 L341.10,602.42 L339.42,602.26 L337.74,602.10 L336.07,601.93 L334.39,601.76 L332.71,601.59 L331.03,601.42 L329.36,601.25 L327.68,601.07 L326.00,600.90 L324.33,600.73 L322.65,600.55 L320.97,600.38 L319.29,600.21 L317.62,600.04 L315.94,599.87 L314.26,599.70 L312.59,599.53 L310.91,599.36 L309.23,599.20 L307.55,599.03 L305.88,598.87 L304.20,598.70 Z" fill="url(#gB)" fill-opacity="0.9" stroke="none"/>
<polyline points="304.20,598.70 305.88,598.86 307.55,599.03 309.23,599.19 310.91,599.35 312.59,599.52 314.26,599.68 315.94,599.85 317.62,600.01 319.29,600.17 320.97,600.33 322.65,600.48 324.33,600.63 326.00,600.78 327.68,600.92 329.36,601.05 331.03,601.17 332.71,601.28 334.39,601.37 336.07,601.44 337.74,601.50 339.42,601.53 341.10,601.54 342.77,601.53 344.45,601.48 346.13,601.41 347.81,601.30 349.48,601.16 351.16,601.00 352.84,600.80 354.51,600.57 356.19,600.32 357.87,600.04 359.55,599.75 361.22,599.43 362.90,599.11 364.58,598.79 366.25,598.48 367.93,598.18 369.61,597.89 371.29,597.64 372.96,597.43 374.64,597.27 376.32,597.16 377.99,597.10 379.67,597.11 381.35,597.19 383.03,597.34 384.70,597.55 386.38,597.83 388.06,598.18 389.73,598.59 391.41,599.05 393.09,599.57 394.77,600.13 396.44,600.73 398.12,601.36 399.80,602.01 401.47,602.68 403.15,603.36 404.83,604.03 406.51,604.69 408.18,605.33 409.86,605.96 411.54,606.56 413.21,607.13 414.89,607.67 416.57,608.18 418.25,608.65 419.92,609.08 421.60,609.48 423.28,609.86 424.95,610.20 426.63,610.51 428.31,610.80 429.99,611.06 431.66,611.30 433.34,611.52 435.02,611.73 436.69,611.92 438.37,612.10 440.05,612.27 441.73,612.43 443.40,612.58 445.08,612.73 446.76,612.88 448.43,613.03 450.11,613.17 451.79,613.32 453.47,613.48 455.14,613.64 456.82,613.81 458.50,613.98 460.17,614.15 461.85,614.33 463.53,614.52 465.21,614.71 466.88,614.90 468.56,615.10 470.24,615.30 471.91,615.50 473.59,615.71 475.27,615.93 476.95,616.14 478.62,616.36 480.30,616.59 481.98,616.82 483.65,617.05 485.33,617.28 487.01,617.51 488.69,617.73 490.36,617.96 492.04,618.19 493.72,618.42 495.39,618.65 497.07,618.87 498.75,619.10 500.43,619.32 502.10,619.54 503.78,619.76 505.46,619.97 507.13,620.19 508.81,620.40 510.49,620.61 512.17,620.82 513.84,621.03 515.52,621.23 517.20,621.44 518.87,621.64 520.55,621.84 522.23,622.04 523.91,622.24 525.58,622.43 527.26,622.63 528.94,622.82 530.61,623.02 532.29,623.22 533.97,623.41 535.65,623.61 537.32,623.80 539.00,624.00" fill="none" stroke="#4a7fc6" stroke-width="0.9" stroke-linejoin="round" stroke-linecap="round" />
<polyline points="304.20,598.69 305.88,598.85 307.55,599.01 309.23,599.17 310.91,599.33 312.59,599.49 314.26,599.65 315.94,599.81 317.62,599.96 319.29,600.11 320.97,600.26 322.65,600.40 324.33,600.54 326.00,600.67 327.68,600.79 329.36,600.89 331.03,600.99 332.71,601.07 334.39,601.13 336.07,601.16 337.74,601.18 339.42,601.16 341.10,601.11 342.77,601.04 344.45,600.92 346.13,600.77 347.81,600.58 349.48,600.35 351.16,600.08 352.84,599.77 354.51,599.42 356.19,599.04 357.87,598.62 359.55,598.17 361.22,597.69 362.90,597.19 364.58,596.68 366.25,596.17 367.93,595.65 369.61,595.15 371.29,594.67 372.96,594.21 374.64,593.80 376.32,593.43 377.99,593.11 379.67,592.85 381.35,592.66 383.03,592.52 384.70,592.46 386.38,592.46 388.06,592.54 389.73,592.67 391.41,592.88 393.09,593.14 394.77,593.46 396.44,593.82 398.12,594.23 399.80,594.68 401.47,595.17 403.15,595.67 404.83,596.20 406.51,596.74 408.18,597.29 409.86,597.84 411.54,598.39 413.21,598.94 414.89,599.47 416.57,600.01 418.25,600.53 419.92,601.04 421.60,601.54 423.28,602.04 424.95,602.53 426.63,603.01 428.31,603.48 429.99,603.94 431.66,604.41 433.34,604.86 435.02,605.31 436.69,605.76 438.37,606.21 440.05,606.64 441.73,607.08 443.40,607.51 445.08,607.94 446.76,608.36 448.43,608.78 450.11,609.20 451.79,609.62 453.47,610.03 455.14,610.44 456.82,610.84 458.50,611.25 460.17,611.64 461.85,612.04 463.53,612.42 465.21,612.80 466.88,613.17 468.56,613.53 470.24,613.88 471.91,614.23 473.59,614.57 475.27,614.91 476.95,615.24 478.62,615.56 480.30,615.88 481.98,616.19 483.65,616.49 485.33,616.79 487.01,617.08 488.69,617.37 490.36,617.64 492.04,617.91 493.72,618.18 495.39,618.44 497.07,618.70 498.75,618.94 500.43,619.19 502.10,619.43 503.78,619.66 505.46,619.89 507.13,620.12 508.81,620.34 510.49,620.56 512.17,620.78 513.84,620.99 515.52,621.21 517.20,621.41 518.87,621.62 520.55,621.82 522.23,622.03 523.91,622.23 525.58,622.42 527.26,622.62 528.94,622.82 530.61,623.02 532.29,623.21 533.97,623.41 535.65,623.61 537.32,623.80 539.00,624.00" fill="none" stroke="#2f4d88" stroke-width="1.25" stroke-linejoin="round" stroke-linecap="round" />
<polyline points="304.20,598.70 305.88,598.87 307.55,599.03 309.23,599.20 310.91,599.36 312.59,599.53 314.26,599.70 315.94,599.87 317.62,600.04 319.29,600.21 320.97,600.38 322.65,600.55 324.33,600.73 326.00,600.90 327.68,601.07 329.36,601.25 331.03,601.42 332.71,601.59 334.39,601.76 336.07,601.93 337.74,602.10 339.42,602.26 341.10,602.42 342.77,602.57 344.45,602.73 346.13,602.88 347.81,603.03 349.48,603.17 351.16,603.32 352.84,603.46 354.51,603.60 356.19,603.74 357.87,603.88 359.55,604.02 361.22,604.15 362.90,604.29 364.58,604.42 366.25,604.56 367.93,604.70 369.61,604.84 371.29,604.99 372.96,605.14 374.64,605.29 376.32,605.45 377.99,605.62 379.67,605.79 381.35,605.96 383.03,606.14 384.70,606.32 386.38,606.50 388.06,606.69 389.73,606.88 391.41,607.07 393.09,607.27 394.77,607.47 396.44,607.67 398.12,607.88 399.80,608.09 401.47,608.30 403.15,608.51 404.83,608.73 406.51,608.94 408.18,609.16 409.86,609.37 411.54,609.58 413.21,609.78 414.89,609.98 416.57,610.17 418.25,610.36 419.92,610.55 421.60,610.73 423.28,610.90 424.95,611.07 426.63,611.23 428.31,611.39 429.99,611.54 431.66,611.69 433.34,611.84 435.02,611.98 436.69,612.12 438.37,612.26 440.05,612.39 441.73,612.52 443.40,612.65 445.08,612.79 446.76,612.92 448.43,613.06 450.11,613.20 451.79,613.34 453.47,613.49 455.14,613.65 456.82,613.81 458.50,613.98 460.17,614.16 461.85,614.34 463.53,614.52 465.21,614.71 466.88,614.90 468.56,615.10 470.24,615.30 471.91,615.50 473.59,615.71 475.27,615.93 476.95,616.14 478.62,616.36 480.30,616.59 481.98,616.82 483.65,617.05 485.33,617.28 487.01,617.51 488.69,617.73 490.36,617.96 492.04,618.19 493.72,618.42 495.39,618.65 497.07,618.87 498.75,619.10 500.43,619.32 502.10,619.54 503.78,619.76 505.46,619.97 507.13,620.19 508.81,620.40 510.49,620.61 512.17,620.82 513.84,621.03 515.52,621.23 517.20,621.44 518.87,621.64 520.55,621.84 522.23,622.04 523.91,622.24 525.58,622.43 527.26,622.63 528.94,622.82 530.61,623.02 532.29,623.22 533.97,623.41 535.65,623.61 537.32,623.80 539.00,624.00" fill="none" stroke="#2f4d88" stroke-width="1.4" stroke-linejoin="round" stroke-linecap="round" />
<path d="M294.20,654.98 L295.95,655.07 L297.70,655.16 L299.45,655.26 L301.19,655.35 L302.94,655.44 L304.69,655.53 L306.44,655.61 L308.19,655.70 L309.94,655.79 L311.69,655.87 L313.43,655.95 L315.18,656.03 L316.93,656.10 L318.68,656.17 L320.43,656.24 L322.18,656.30 L323.93,656.35 L325.67,656.40 L327.42,656.44 L329.17,656.48 L330.92,656.50 L332.67,656.53 L334.42,656.55 L336.17,656.56 L337.91,656.56 L339.66,656.56 L341.41,656.55 L343.16,656.53 L344.91,656.50 L346.66,656.47 L348.41,656.42 L350.15,656.37 L351.90,656.31 L353.65,656.25 L355.40,656.18 L357.15,656.10 L358.90,656.02 L360.65,655.93 L362.39,655.83 L364.14,655.72 L365.89,655.61 L367.64,655.49 L369.39,655.35 L371.14,655.22 L372.89,655.08 L374.63,654.93 L376.38,654.78 L378.13,654.63 L379.88,654.48 L381.63,654.32 L383.38,654.17 L385.13,654.01 L386.87,653.85 L388.62,653.69 L390.37,653.53 L392.12,653.38 L393.87,653.23 L395.62,653.09 L397.37,652.96 L399.11,652.83 L400.86,652.72 L402.61,652.61 L404.36,652.52 L406.11,652.44 L407.86,652.38 L409.61,652.33 L411.35,652.29 L413.10,652.26 L414.85,652.25 L416.60,652.25 L418.35,652.27 L420.10,652.31 L421.85,652.37 L423.59,652.44 L425.34,652.54 L427.09,652.65 L428.84,652.79 L430.59,652.94 L432.34,653.11 L434.09,653.30 L435.83,653.51 L437.58,653.74 L439.33,653.99 L441.08,654.25 L442.83,654.53 L444.58,654.83 L446.33,655.15 L448.07,655.48 L449.82,655.83 L451.57,656.19 L453.32,656.57 L455.07,656.97 L456.82,657.37 L458.57,657.79 L460.31,658.21 L462.06,658.64 L463.81,659.07 L465.56,659.51 L467.31,659.95 L469.06,660.39 L470.81,660.83 L472.55,661.27 L474.30,661.71 L476.05,662.14 L477.80,662.57 L479.55,662.99 L481.30,663.41 L483.05,663.82 L484.79,664.22 L486.54,664.61 L488.29,664.98 L490.04,665.35 L491.79,665.71 L493.54,666.06 L495.29,666.40 L497.03,666.72 L498.78,667.04 L500.53,667.35 L502.28,667.65 L504.03,667.94 L505.78,668.22 L507.53,668.49 L509.27,668.76 L511.02,669.01 L512.77,669.26 L514.52,669.50 L516.27,669.74 L518.02,669.97 L519.77,670.19 L521.51,670.41 L523.26,670.62 L525.01,670.83 L526.76,671.03 L528.51,671.23 L530.26,671.42 L532.01,671.61 L533.75,671.80 L535.50,671.98 L537.25,672.16 L539.00,672.34 L539.00,672.50 L537.25,672.35 L535.50,672.19 L533.75,672.04 L532.01,671.89 L530.26,671.73 L528.51,671.58 L526.76,671.43 L525.01,671.27 L523.26,671.12 L521.51,670.97 L519.77,670.82 L518.02,670.67 L516.27,670.52 L514.52,670.37 L512.77,670.23 L511.02,670.08 L509.27,669.94 L507.53,669.79 L505.78,669.65 L504.03,669.51 L502.28,669.37 L500.53,669.23 L498.78,669.09 L497.03,668.95 L495.29,668.82 L493.54,668.68 L491.79,668.55 L490.04,668.41 L488.29,668.28 L486.54,668.15 L484.79,668.01 L483.05,667.88 L481.30,667.74 L479.55,667.61 L477.80,667.48 L476.05,667.35 L474.30,667.23 L472.55,667.10 L470.81,666.98 L469.06,666.86 L467.31,666.74 L465.56,666.63 L463.81,666.51 L462.06,666.40 L460.31,666.29 L458.57,666.18 L456.82,666.07 L455.07,665.97 L453.32,665.87 L451.57,665.76 L449.82,665.67 L448.07,665.57 L446.33,665.47 L444.58,665.38 L442.83,665.28 L441.08,665.18 L439.33,665.08 L437.58,664.98 L435.83,664.87 L434.09,664.76 L432.34,664.64 L430.59,664.51 L428.84,664.38 L427.09,664.25 L425.34,664.11 L423.59,663.97 L421.85,663.82 L420.10,663.66 L418.35,663.51 L416.60,663.34 L414.85,663.18 L413.10,663.00 L411.35,662.83 L409.61,662.64 L407.86,662.46 L406.11,662.27 L404.36,662.08 L402.61,661.89 L400.86,661.71 L399.11,661.52 L397.37,661.34 L395.62,661.16 L393.87,660.98 L392.12,660.81 L390.37,660.64 L388.62,660.47 L386.87,660.31 L385.13,660.15 L383.38,659.99 L381.63,659.83 L379.88,659.68 L378.13,659.54 L376.38,659.39 L374.63,659.26 L372.89,659.13 L371.14,659.00 L369.39,658.89 L367.64,658.77 L365.89,658.66 L364.14,658.55 L362.39,658.44 L360.65,658.34 L358.90,658.24 L357.15,658.14 L355.40,658.05 L353.65,657.96 L351.90,657.87 L350.15,657.79 L348.41,657.71 L346.66,657.64 L344.91,657.56 L343.16,657.49 L341.41,657.41 L339.66,657.34 L337.91,657.26 L336.17,657.18 L334.42,657.11 L332.67,657.03 L330.92,656.95 L329.17,656.87 L327.42,656.79 L325.67,656.71 L323.93,656.62 L322.18,656.54 L320.43,656.45 L318.68,656.36 L316.93,656.27 L315.18,656.17 L313.43,656.07 L311.69,655.98 L309.94,655.88 L308.19,655.78 L306.44,655.68 L304.69,655.59 L302.94,655.49 L301.19,655.39 L299.45,655.29 L297.70,655.20 L295.95,655.10 L294.20,655.00 Z" fill="url(#gR)" stroke="none"/>
<polyline points="294.20,654.98 295.95,655.07 297.70,655.16 299.45,655.26 301.19,655.35 302.94,655.44 304.69,655.53 306.44,655.61 308.19,655.70 309.94,655.79 311.69,655.87 313.43,655.95 315.18,656.03 316.93,656.10 318.68,656.17 320.43,656.24 322.18,656.30 323.93,656.35 325.67,656.40 327.42,656.44 329.17,656.48 330.92,656.50 332.67,656.53 334.42,656.55 336.17,656.56 337.91,656.56 339.66,656.56 341.41,656.55 343.16,656.53 344.91,656.50 346.66,656.47 348.41,656.42 350.15,656.37 351.90,656.31 353.65,656.25 355.40,656.18 357.15,656.10 358.90,656.02 360.65,655.93 362.39,655.83 364.14,655.72 365.89,655.61 367.64,655.49 369.39,655.35 371.14,655.22 372.89,655.08 374.63,654.93 376.38,654.78 378.13,654.63 379.88,654.48 381.63,654.32 383.38,654.17 385.13,654.01 386.87,653.85 388.62,653.69 390.37,653.53 392.12,653.38 393.87,653.23 395.62,653.09 397.37,652.96 399.11,652.83 400.86,652.72 402.61,652.61 404.36,652.52 406.11,652.44 407.86,652.38 409.61,652.33 411.35,652.29 413.10,652.26 414.85,652.25 416.60,652.25 418.35,652.27 420.10,652.31 421.85,652.37 423.59,652.44 425.34,652.54 427.09,652.65 428.84,652.79 430.59,652.94 432.34,653.11 434.09,653.30 435.83,653.51 437.58,653.74 439.33,653.99 441.08,654.25 442.83,654.53 444.58,654.83 446.33,655.15 448.07,655.48 449.82,655.83 451.57,656.19 453.32,656.57 455.07,656.97 456.82,657.37 458.57,657.79 460.31,658.21 462.06,658.64 463.81,659.07 465.56,659.51 467.31,659.95 469.06,660.39 470.81,660.83 472.55,661.27 474.30,661.71 476.05,662.14 477.80,662.57 479.55,662.99 481.30,663.41 483.05,663.82 484.79,664.22 486.54,664.61 488.29,664.98 490.04,665.35 491.79,665.71 493.54,666.06 495.29,666.40 497.03,666.72 498.78,667.04 500.53,667.35 502.28,667.65 504.03,667.94 505.78,668.22 507.53,668.49 509.27,668.76 511.02,669.01 512.77,669.26 514.52,669.50 516.27,669.74 518.02,669.97 519.77,670.19 521.51,670.41 523.26,670.62 525.01,670.83 526.76,671.03 528.51,671.23 530.26,671.42 532.01,671.61 533.75,671.80 535.50,671.98 537.25,672.16 539.00,672.34" fill="none" stroke="#f26a72" stroke-width="0.7" stroke-linejoin="round" stroke-linecap="round" />
<path d="M294.20,654.88 L295.95,654.96 L297.70,655.04 L299.45,655.11 L301.19,655.18 L302.94,655.25 L304.69,655.31 L306.44,655.37 L308.19,655.43 L309.94,655.48 L311.69,655.52 L313.43,655.56 L315.18,655.59 L316.93,655.62 L318.68,655.63 L320.43,655.64 L322.18,655.63 L323.93,655.62 L325.67,655.60 L327.42,655.57 L329.17,655.52 L330.92,655.47 L332.67,655.41 L334.42,655.34 L336.17,655.26 L337.91,655.17 L339.66,655.08 L341.41,654.98 L343.16,654.87 L344.91,654.75 L346.66,654.63 L348.41,654.50 L350.15,654.37 L351.90,654.24 L353.65,654.12 L355.40,654.00 L357.15,653.88 L358.90,653.76 L360.65,653.66 L362.39,653.56 L364.14,653.47 L365.89,653.39 L367.64,653.32 L369.39,653.26 L371.14,653.21 L372.89,653.19 L374.63,653.18 L376.38,653.19 L378.13,653.22 L379.88,653.28 L381.63,653.35 L383.38,653.45 L385.13,653.57 L386.87,653.71 L388.62,653.87 L390.37,654.06 L392.12,654.26 L393.87,654.49 L395.62,654.73 L397.37,655.00 L399.11,655.28 L400.86,655.59 L402.61,655.91 L404.36,656.24 L406.11,656.59 L407.86,656.95 L409.61,657.32 L411.35,657.69 L413.10,658.06 L414.85,658.44 L416.60,658.81 L418.35,659.18 L420.10,659.55 L421.85,659.92 L423.59,660.28 L425.34,660.63 L427.09,660.98 L428.84,661.31 L430.59,661.64 L432.34,661.96 L434.09,662.27 L435.83,662.56 L437.58,662.84 L439.33,663.12 L441.08,663.37 L442.83,663.62 L444.58,663.86 L446.33,664.09 L448.07,664.31 L449.82,664.52 L451.57,664.73 L453.32,664.93 L455.07,665.13 L456.82,665.32 L458.57,665.51 L460.31,665.69 L462.06,665.87 L463.81,666.04 L465.56,666.21 L467.31,666.37 L469.06,666.54 L470.81,666.70 L472.55,666.86 L474.30,667.01 L476.05,667.17 L477.80,667.32 L479.55,667.47 L481.30,667.62 L483.05,667.77 L484.79,667.92 L486.54,668.07 L488.29,668.21 L490.04,668.36 L491.79,668.50 L493.54,668.64 L495.29,668.78 L497.03,668.92 L498.78,669.07 L500.53,669.21 L502.28,669.35 L504.03,669.49 L505.78,669.64 L507.53,669.78 L509.27,669.93 L511.02,670.07 L512.77,670.22 L514.52,670.37 L516.27,670.52 L518.02,670.67 L519.77,670.82 L521.51,670.97 L523.26,671.12 L525.01,671.27 L526.76,671.43 L528.51,671.58 L530.26,671.73 L532.01,671.89 L533.75,672.04 L535.50,672.19 L537.25,672.35 L539.00,672.50 L539.00,672.50 L537.25,672.35 L535.50,672.19 L533.75,672.04 L532.01,671.89 L530.26,671.73 L528.51,671.58 L526.76,671.43 L525.01,671.27 L523.26,671.12 L521.51,670.97 L519.77,670.82 L518.02,670.67 L516.27,670.52 L514.52,670.37 L512.77,670.23 L511.02,670.08 L509.27,669.94 L507.53,669.79 L505.78,669.65 L504.03,669.51 L502.28,669.37 L500.53,669.23 L498.78,669.09 L497.03,668.95 L495.29,668.82 L493.54,668.68 L491.79,668.55 L490.04,668.41 L488.29,668.28 L486.54,668.15 L484.79,668.01 L483.05,667.88 L481.30,667.74 L479.55,667.61 L477.80,667.48 L476.05,667.35 L474.30,667.23 L472.55,667.10 L470.81,666.98 L469.06,666.86 L467.31,666.74 L465.56,666.63 L463.81,666.51 L462.06,666.40 L460.31,666.29 L458.57,666.18 L456.82,666.07 L455.07,665.97 L453.32,665.87 L451.57,665.76 L449.82,665.67 L448.07,665.57 L446.33,665.47 L444.58,665.38 L442.83,665.28 L441.08,665.18 L439.33,665.08 L437.58,664.98 L435.83,664.87 L434.09,664.76 L432.34,664.64 L430.59,664.51 L428.84,664.38 L427.09,664.25 L425.34,664.11 L423.59,663.97 L421.85,663.82 L420.10,663.66 L418.35,663.51 L416.60,663.34 L414.85,663.18 L413.10,663.00 L411.35,662.83 L409.61,662.64 L407.86,662.46 L406.11,662.27 L404.36,662.08 L402.61,661.89 L400.86,661.71 L399.11,661.52 L397.37,661.34 L395.62,661.16 L393.87,660.98 L392.12,660.81 L390.37,660.64 L388.62,660.47 L386.87,660.31 L385.13,660.15 L383.38,659.99 L381.63,659.83 L379.88,659.68 L378.13,659.54 L376.38,659.39 L374.63,659.26 L372.89,659.13 L371.14,659.00 L369.39,658.89 L367.64,658.77 L365.89,658.66 L364.14,658.55 L362.39,658.44 L360.65,658.34 L358.90,658.24 L357.15,658.14 L355.40,658.05 L353.65,657.96 L351.90,657.87 L350.15,657.79 L348.41,657.71 L346.66,657.64 L344.91,657.56 L343.16,657.49 L341.41,657.41 L339.66,657.34 L337.91,657.26 L336.17,657.18 L334.42,657.11 L332.67,657.03 L330.92,656.95 L329.17,656.87 L327.42,656.79 L325.67,656.71 L323.93,656.62 L322.18,656.54 L320.43,656.45 L318.68,656.36 L316.93,656.27 L315.18,656.17 L313.43,656.07 L311.69,655.98 L309.94,655.88 L308.19,655.78 L306.44,655.68 L304.69,655.59 L302.94,655.49 L301.19,655.39 L299.45,655.29 L297.70,655.20 L295.95,655.10 L294.20,655.00 Z" fill="url(#gB)" fill-opacity="0.9" stroke="none"/>
<polyline points="294.20,654.88 295.95,654.96 297.70,655.04 299.45,655.11 301.19,655.18 302.94,655.25 304.69,655.31 306.44,655.37 308.19,655.43 309.94,655.48 311.69,655.52 313.43,655.56 315.18,655.59 316.93,655.62 318.68,655.63 320.43,655.64 322.18,655.63 323.93,655.62 325.67,655.60 327.42,655.57 329.17,655.52 330.92,655.47 332.67,655.41 334.42,655.34 336.17,655.26 337.91,655.17 339.66,655.08 341.41,654.98 343.16,654.87 344.91,654.75 346.66,654.63 348.41,654.50 350.15,654.37 351.90,654.24 353.65,654.12 355.40,654.00 357.15,653.88 358.90,653.76 360.65,653.66 362.39,653.56 364.14,653.47 365.89,653.39 367.64,653.32 369.39,653.26 371.14,653.21 372.89,653.19 374.63,653.18 376.38,653.19 378.13,653.22 379.88,653.28 381.63,653.35 383.38,653.45 385.13,653.57 386.87,653.71 388.62,653.87 390.37,654.06 392.12,654.26 393.87,654.49 395.62,654.73 397.37,655.00 399.11,655.28 400.86,655.59 402.61,655.91 404.36,656.24 406.11,656.59 407.86,656.95 409.61,657.32 411.35,657.69 413.10,658.06 414.85,658.44 416.60,658.81 418.35,659.18 420.10,659.55 421.85,659.92 423.59,660.28 425.34,660.63 427.09,660.98 428.84,661.31 430.59,661.64 432.34,661.96 434.09,662.27 435.83,662.56 437.58,662.84 439.33,663.12 441.08,663.37 442.83,663.62 444.58,663.86 446.33,664.09 448.07,664.31 449.82,664.52 451.57,664.73 453.32,664.93 455.07,665.13 456.82,665.32 458.57,665.51 460.31,665.69 462.06,665.87 463.81,666.04 465.56,666.21 467.31,666.37 469.06,666.54 470.81,666.70 472.55,666.86 474.30,667.01 476.05,667.17 477.80,667.32 479.55,667.47 481.30,667.62 483.05,667.77 484.79,667.92 486.54,668.07 488.29,668.21 490.04,668.36 491.79,668.50 493.54,668.64 495.29,668.78 497.03,668.92 498.78,669.07 500.53,669.21 502.28,669.35 504.03,669.49 505.78,669.64 507.53,669.78 509.27,669.93 511.02,670.07 512.77,670.22 514.52,670.37 516.27,670.52 518.02,670.67 519.77,670.82 521.51,670.97 523.26,671.12 525.01,671.27 526.76,671.43 528.51,671.58 530.26,671.73 532.01,671.89 533.75,672.04 535.50,672.19 537.25,672.35 539.00,672.50" fill="none" stroke="#4a7fc6" stroke-width="0.9" stroke-linejoin="round" stroke-linecap="round" />
<polyline points="294.20,654.86 295.95,654.94 297.70,655.01 299.45,655.07 301.19,655.14 302.94,655.20 304.69,655.25 306.44,655.30 308.19,655.35 309.94,655.38 311.69,655.41 313.43,655.44 315.18,655.45 316.93,655.45 318.68,655.45 320.43,655.43 322.18,655.39 323.93,655.35 325.67,655.29 327.42,655.22 329.17,655.13 330.92,655.03 332.67,654.91 334.42,654.78 336.17,654.64 337.91,654.48 339.66,654.30 341.41,654.11 343.16,653.91 344.91,653.69 346.66,653.45 348.41,653.21 350.15,652.95 351.90,652.68 353.65,652.41 355.40,652.13 357.15,651.84 358.90,651.54 360.65,651.25 362.39,650.95 364.14,650.64 365.89,650.34 367.64,650.03 369.39,649.73 371.14,649.43 372.89,649.13 374.63,648.85 376.38,648.58 378.13,648.32 379.88,648.08 381.63,647.85 383.38,647.63 385.13,647.43 386.87,647.25 388.62,647.09 390.37,646.95 392.12,646.83 393.87,646.74 395.62,646.66 397.37,646.62 399.11,646.59 400.86,646.60 402.61,646.63 404.36,646.69 406.11,646.77 407.86,646.87 409.61,647.00 411.35,647.15 413.10,647.32 414.85,647.51 416.60,647.72 418.35,647.95 420.10,648.20 421.85,648.47 423.59,648.76 425.34,649.06 427.09,649.38 428.84,649.72 430.59,650.07 432.34,650.43 434.09,650.81 435.83,651.21 437.58,651.61 439.33,652.02 441.08,652.44 442.83,652.87 444.58,653.31 446.33,653.76 448.07,654.22 449.82,654.69 451.57,655.16 453.32,655.64 455.07,656.13 456.82,656.62 458.57,657.11 460.31,657.61 462.06,658.10 463.81,658.60 465.56,659.09 467.31,659.58 469.06,660.07 470.81,660.55 472.55,661.02 474.30,661.49 476.05,661.95 477.80,662.40 479.55,662.85 481.30,663.29 483.05,663.71 484.79,664.13 486.54,664.53 488.29,664.92 490.04,665.30 491.79,665.66 493.54,666.02 495.29,666.36 497.03,666.70 498.78,667.02 500.53,667.33 502.28,667.63 504.03,667.93 505.78,668.21 507.53,668.48 509.27,668.75 511.02,669.01 512.77,669.26 514.52,669.50 516.27,669.73 518.02,669.96 519.77,670.19 521.51,670.41 523.26,670.62 525.01,670.83 526.76,671.03 528.51,671.23 530.26,671.42 532.01,671.61 533.75,671.80 535.50,671.98 537.25,672.16 539.00,672.34" fill="none" stroke="#2f4d88" stroke-width="1.25" stroke-linejoin="round" stroke-linecap="round" />
<polyline points="294.20,655.00 295.95,655.10 297.70,655.20 299.45,655.29 301.19,655.39 302.94,655.49 304.69,655.59 306.44,655.68 308.19,655.78 309.94,655.88 311.69,655.98 313.43,656.07 315.18,656.17 316.93,656.27 318.68,656.36 320.43,656.45 322.18,656.54 323.93,656.62 325.67,656.71 327.42,656.79 329.17,656.87 330.92,656.95 332.67,657.03 334.42,657.11 336.17,657.18 337.91,657.26 339.66,657.34 341.41,657.41 343.16,657.49 344.91,657.56 346.66,657.64 348.41,657.71 350.15,657.79 351.90,657.87 353.65,657.96 355.40,658.05 357.15,658.14 358.90,658.24 360.65,658.34 362.39,658.44 364.14,658.55 365.89,658.66 367.64,658.77 369.39,658.89 371.14,659.00 372.89,659.13 374.63,659.26 376.38,659.39 378.13,659.54 379.88,659.68 381.63,659.83 383.38,659.99 385.13,660.15 386.87,660.31 388.62,660.47 390.37,660.64 392.12,660.81 393.87,660.98 395.62,661.16 397.37,661.34 399.11,661.52 400.86,661.71 402.61,661.89 404.36,662.08 406.11,662.27 407.86,662.46 409.61,662.64 411.35,662.83 413.10,663.00 414.85,663.18 416.60,663.34 418.35,663.51 420.10,663.66 421.85,663.82 423.59,663.97 425.34,664.11 427.09,664.25 428.84,664.38 430.59,664.51 432.34,664.64 434.09,664.76 435.83,664.87 437.58,664.98 439.33,665.08 441.08,665.18 442.83,665.28 444.58,665.38 446.33,665.47 448.07,665.57 449.82,665.67 451.57,665.76 453.32,665.87 455.07,665.97 456.82,666.07 458.57,666.18 460.31,666.29 462.06,666.40 463.81,666.51 465.56,666.63 467.31,666.74 469.06,666.86 470.81,666.98 472.55,667.10 474.30,667.23 476.05,667.35 477.80,667.48 479.55,667.61 481.30,667.74 483.05,667.88 484.79,668.01 486.54,668.15 488.29,668.28 490.04,668.41 491.79,668.55 493.54,668.68 495.29,668.82 497.03,668.95 498.78,669.09 500.53,669.23 502.28,669.37 504.03,669.51 505.78,669.65 507.53,669.79 509.27,669.94 511.02,670.08 512.77,670.23 514.52,670.37 516.27,670.52 518.02,670.67 519.77,670.82 521.51,670.97 523.26,671.12 525.01,671.27 526.76,671.43 528.51,671.58 530.26,671.73 532.01,671.89 533.75,672.04 535.50,672.19 537.25,672.35 539.00,672.50" fill="none" stroke="#2f4d88" stroke-width="1.4" stroke-linejoin="round" stroke-linecap="round" />
<path d="M294.20,699.50 L295.70,699.64 L297.20,699.78 L298.71,699.92 L300.21,700.06 L301.71,700.19 L303.21,700.33 L304.71,700.47 L306.22,700.61 L307.72,700.75 L309.22,700.89 L310.72,701.03 L312.23,701.17 L313.73,701.31 L315.23,701.45 L316.73,701.58 L318.23,701.72 L319.74,701.86 L321.24,702.00 L322.74,702.14 L324.24,702.28 L325.75,702.42 L327.25,702.56 L328.75,702.69 L330.25,702.83 L331.75,702.97 L333.26,703.11 L334.76,703.24 L336.26,703.37 L337.76,703.49 L339.26,703.61 L340.77,703.73 L342.27,703.85 L343.77,703.96 L345.27,704.07 L346.77,704.17 L348.28,704.27 L349.78,704.37 L351.28,704.46 L352.78,704.55 L354.29,704.64 L355.79,704.72 L357.29,704.80 L358.79,704.87 L360.29,704.94 L361.80,705.01 L363.30,705.08 L364.80,705.14 L366.30,705.20 L367.81,705.26 L369.31,705.31 L370.81,705.35 L372.31,705.40 L373.81,705.44 L375.32,705.48 L376.82,705.51 L378.32,705.54 L379.82,705.57 L381.32,705.59 L382.83,705.61 L384.33,705.62 L385.83,705.62 L387.33,705.60 L388.83,705.58 L390.34,705.56 L391.84,705.51 L393.34,705.46 L394.84,705.40 L396.35,705.33 L397.85,705.25 L399.35,705.16 L400.85,705.06 L402.35,704.94 L403.86,704.81 L405.36,704.67 L406.86,704.53 L408.36,704.37 L409.87,704.21 L411.37,704.05 L412.87,703.88 L414.37,703.70 L415.87,703.53 L417.38,703.36 L418.88,703.19 L420.38,703.03 L421.88,702.87 L423.38,702.73 L424.89,702.61 L426.39,702.51 L427.89,702.42 L429.39,702.36 L430.89,702.32 L432.40,702.31 L433.90,702.32 L435.40,702.37 L436.90,702.44 L438.41,702.54 L439.91,702.68 L441.41,702.85 L442.91,703.05 L444.41,703.29 L445.92,703.56 L447.42,703.86 L448.92,704.19 L450.42,704.55 L451.93,704.93 L453.43,705.34 L454.93,705.77 L456.43,706.23 L457.93,706.71 L459.44,707.21 L460.94,707.72 L462.44,708.24 L463.94,708.77 L465.44,709.30 L466.95,709.84 L468.45,710.38 L469.95,710.92 L471.45,711.45 L472.95,711.99 L474.46,712.51 L475.96,713.03 L477.46,713.55 L478.96,714.05 L480.47,714.54 L481.97,715.02 L483.47,715.48 L484.97,715.93 L486.47,716.36 L487.98,716.78 L489.48,717.18 L490.98,717.56 L492.48,717.94 L493.99,718.30 L495.49,718.64 L496.99,718.98 L498.49,719.30 L499.99,719.62 L501.50,719.92 L503.00,720.21 L504.50,720.50 L504.50,720.90 L503.00,720.68 L501.50,720.45 L499.99,720.23 L498.49,720.00 L496.99,719.78 L495.49,719.55 L493.99,719.33 L492.48,719.11 L490.98,718.88 L489.48,718.66 L487.98,718.43 L486.47,718.21 L484.97,717.98 L483.47,717.76 L481.97,717.53 L480.47,717.31 L478.96,717.09 L477.46,716.87 L475.96,716.65 L474.46,716.44 L472.95,716.24 L471.45,716.04 L469.95,715.85 L468.45,715.67 L466.95,715.49 L465.44,715.32 L463.94,715.15 L462.44,714.99 L460.94,714.83 L459.44,714.68 L457.93,714.54 L456.43,714.40 L454.93,714.27 L453.43,714.14 L451.93,714.03 L450.42,713.91 L448.92,713.80 L447.42,713.69 L445.92,713.58 L444.41,713.48 L442.91,713.37 L441.41,713.26 L439.91,713.15 L438.41,713.04 L436.90,712.93 L435.40,712.81 L433.90,712.69 L432.40,712.56 L430.89,712.43 L429.39,712.30 L427.89,712.16 L426.39,712.01 L424.89,711.86 L423.38,711.70 L421.88,711.54 L420.38,711.37 L418.88,711.20 L417.38,711.02 L415.87,710.84 L414.37,710.65 L412.87,710.46 L411.37,710.26 L409.87,710.06 L408.36,709.85 L406.86,709.65 L405.36,709.45 L403.86,709.25 L402.35,709.04 L400.85,708.84 L399.35,708.64 L397.85,708.44 L396.35,708.24 L394.84,708.05 L393.34,707.87 L391.84,707.69 L390.34,707.51 L388.83,707.34 L387.33,707.18 L385.83,707.02 L384.33,706.86 L382.83,706.71 L381.32,706.57 L379.82,706.43 L378.32,706.30 L376.82,706.17 L375.32,706.05 L373.81,705.94 L372.31,705.83 L370.81,705.73 L369.31,705.63 L367.81,705.53 L366.30,705.44 L364.80,705.34 L363.30,705.25 L361.80,705.16 L360.29,705.07 L358.79,704.98 L357.29,704.88 L355.79,704.79 L354.29,704.70 L352.78,704.60 L351.28,704.50 L349.78,704.40 L348.28,704.30 L346.77,704.20 L345.27,704.09 L343.77,703.97 L342.27,703.86 L340.77,703.74 L339.26,703.62 L337.76,703.50 L336.26,703.37 L334.76,703.24 L333.26,703.11 L331.75,702.97 L330.25,702.84 L328.75,702.70 L327.25,702.56 L325.75,702.42 L324.24,702.28 L322.74,702.14 L321.24,702.00 L319.74,701.86 L318.23,701.72 L316.73,701.58 L315.23,701.45 L313.73,701.31 L312.23,701.17 L310.72,701.03 L309.22,700.89 L307.72,700.75 L306.22,700.61 L304.71,700.47 L303.21,700.33 L301.71,700.19 L300.21,700.06 L298.71,699.92 L297.20,699.78 L295.70,699.64 L294.20,699.50 Z" fill="url(#gR)" stroke="none"/>
<polyline points="294.20,699.50 295.70,699.64 297.20,699.78 298.71,699.92 300.21,700.06 301.71,700.19 303.21,700.33 304.71,700.47 306.22,700.61 307.72,700.75 309.22,700.89 310.72,701.03 312.23,701.17 313.73,701.31 315.23,701.45 316.73,701.58 318.23,701.72 319.74,701.86 321.24,702.00 322.74,702.14 324.24,702.28 325.75,702.42 327.25,702.56 328.75,702.69 330.25,702.83 331.75,702.97 333.26,703.11 334.76,703.24 336.26,703.37 337.76,703.49 339.26,703.61 340.77,703.73 342.27,703.85 343.77,703.96 345.27,704.07 346.77,704.17 348.28,704.27 349.78,704.37 351.28,704.46 352.78,704.55 354.29,704.64 355.79,704.72 357.29,704.80 358.79,704.87 360.29,704.94 361.80,705.01 363.30,705.08 364.80,705.14 366.30,705.20 367.81,705.26 369.31,705.31 370.81,705.35 372.31,705.40 373.81,705.44 375.32,705.48 376.82,705.51 378.32,705.54 379.82,705.57 381.32,705.59 382.83,705.61 384.33,705.62 385.83,705.62 387.33,705.60 388.83,705.58 390.34,705.56 391.84,705.51 393.34,705.46 394.84,705.40 396.35,705.33 397.85,705.25 399.35,705.16 400.85,705.06 402.35,704.94 403.86,704.81 405.36,704.67 406.86,704.53 408.36,704.37 409.87,704.21 411.37,704.05 412.87,703.88 414.37,703.70 415.87,703.53 417.38,703.36 418.88,703.19 420.38,703.03 421.88,702.87 423.38,702.73 424.89,702.61 426.39,702.51 427.89,702.42 429.39,702.36 430.89,702.32 432.40,702.31 433.90,702.32 435.40,702.37 436.90,702.44 438.41,702.54 439.91,702.68 441.41,702.85 442.91,703.05 444.41,703.29 445.92,703.56 447.42,703.86 448.92,704.19 450.42,704.55 451.93,704.93 453.43,705.34 454.93,705.77 456.43,706.23 457.93,706.71 459.44,707.21 460.94,707.72 462.44,708.24 463.94,708.77 465.44,709.30 466.95,709.84 468.45,710.38 469.95,710.92 471.45,711.45 472.95,711.99 474.46,712.51 475.96,713.03 477.46,713.55 478.96,714.05 480.47,714.54 481.97,715.02 483.47,715.48 484.97,715.93 486.47,716.36 487.98,716.78 489.48,717.18 490.98,717.56 492.48,717.94 493.99,718.30 495.49,718.64 496.99,718.98 498.49,719.30 499.99,719.62 501.50,719.92 503.00,720.21 504.50,720.50" fill="none" stroke="#f26a72" stroke-width="0.7" stroke-linejoin="round" stroke-linecap="round" />
<path d="M294.20,699.50 L295.70,699.64 L297.20,699.78 L298.71,699.92 L300.21,700.06 L301.71,700.19 L303.21,700.33 L304.71,700.47 L306.22,700.61 L307.72,700.75 L309.22,700.89 L310.72,701.03 L312.23,701.17 L313.73,701.31 L315.23,701.45 L316.73,701.58 L318.23,701.72 L319.74,701.86 L321.24,702.00 L322.74,702.14 L324.24,702.28 L325.75,702.41 L327.25,702.55 L328.75,702.69 L330.25,702.82 L331.75,702.96 L333.26,703.09 L334.76,703.22 L336.26,703.34 L337.76,703.46 L339.26,703.57 L340.77,703.68 L342.27,703.79 L343.77,703.88 L345.27,703.97 L346.77,704.06 L348.28,704.13 L349.78,704.20 L351.28,704.26 L352.78,704.31 L354.29,704.35 L355.79,704.38 L357.29,704.39 L358.79,704.40 L360.29,704.40 L361.80,704.38 L363.30,704.36 L364.80,704.32 L366.30,704.27 L367.81,704.22 L369.31,704.15 L370.81,704.07 L372.31,703.99 L373.81,703.90 L375.32,703.81 L376.82,703.72 L378.32,703.63 L379.82,703.55 L381.32,703.47 L382.83,703.39 L384.33,703.33 L385.83,703.28 L387.33,703.25 L388.83,703.23 L390.34,703.24 L391.84,703.27 L393.34,703.32 L394.84,703.41 L396.35,703.52 L397.85,703.66 L399.35,703.84 L400.85,704.04 L402.35,704.28 L403.86,704.53 L405.36,704.82 L406.86,705.13 L408.36,705.46 L409.87,705.81 L411.37,706.18 L412.87,706.56 L414.37,706.94 L415.87,707.34 L417.38,707.73 L418.88,708.12 L420.38,708.51 L421.88,708.90 L423.38,709.28 L424.89,709.64 L426.39,710.00 L427.89,710.34 L429.39,710.67 L430.89,710.98 L432.40,711.27 L433.90,711.55 L435.40,711.81 L436.90,712.06 L438.41,712.28 L439.91,712.50 L441.41,712.70 L442.91,712.89 L444.41,713.07 L445.92,713.24 L447.42,713.40 L448.92,713.56 L450.42,713.71 L451.93,713.86 L453.43,714.01 L454.93,714.16 L456.43,714.31 L457.93,714.47 L459.44,714.62 L460.94,714.78 L462.44,714.95 L463.94,715.12 L465.44,715.29 L466.95,715.47 L468.45,715.65 L469.95,715.84 L471.45,716.04 L472.95,716.23 L474.46,716.44 L475.96,716.65 L477.46,716.86 L478.96,717.08 L480.47,717.31 L481.97,717.53 L483.47,717.76 L484.97,717.98 L486.47,718.21 L487.98,718.43 L489.48,718.66 L490.98,718.88 L492.48,719.10 L493.99,719.33 L495.49,719.55 L496.99,719.78 L498.49,720.00 L499.99,720.23 L501.50,720.45 L503.00,720.68 L504.50,720.90 L504.50,720.90 L503.00,720.68 L501.50,720.45 L499.99,720.23 L498.49,720.00 L496.99,719.78 L495.49,719.55 L493.99,719.33 L492.48,719.11 L490.98,718.88 L489.48,718.66 L487.98,718.43 L486.47,718.21 L484.97,717.98 L483.47,717.76 L481.97,717.53 L480.47,717.31 L478.96,717.09 L477.46,716.87 L475.96,716.65 L474.46,716.44 L472.95,716.24 L471.45,716.04 L469.95,715.85 L468.45,715.67 L466.95,715.49 L465.44,715.32 L463.94,715.15 L462.44,714.99 L460.94,714.83 L459.44,714.68 L457.93,714.54 L456.43,714.40 L454.93,714.27 L453.43,714.14 L451.93,714.03 L450.42,713.91 L448.92,713.80 L447.42,713.69 L445.92,713.58 L444.41,713.48 L442.91,713.37 L441.41,713.26 L439.91,713.15 L438.41,713.04 L436.90,712.93 L435.40,712.81 L433.90,712.69 L432.40,712.56 L430.89,712.43 L429.39,712.30 L427.89,712.16 L426.39,712.01 L424.89,711.86 L423.38,711.70 L421.88,711.54 L420.38,711.37 L418.88,711.20 L417.38,711.02 L415.87,710.84 L414.37,710.65 L412.87,710.46 L411.37,710.26 L409.87,710.06 L408.36,709.85 L406.86,709.65 L405.36,709.45 L403.86,709.25 L402.35,709.04 L400.85,708.84 L399.35,708.64 L397.85,708.44 L396.35,708.24 L394.84,708.05 L393.34,707.87 L391.84,707.69 L390.34,707.51 L388.83,707.34 L387.33,707.18 L385.83,707.02 L384.33,706.86 L382.83,706.71 L381.32,706.57 L379.82,706.43 L378.32,706.30 L376.82,706.17 L375.32,706.05 L373.81,705.94 L372.31,705.83 L370.81,705.73 L369.31,705.63 L367.81,705.53 L366.30,705.44 L364.80,705.34 L363.30,705.25 L361.80,705.16 L360.29,705.07 L358.79,704.98 L357.29,704.88 L355.79,704.79 L354.29,704.70 L352.78,704.60 L351.28,704.50 L349.78,704.40 L348.28,704.30 L346.77,704.20 L345.27,704.09 L343.77,703.97 L342.27,703.86 L340.77,703.74 L339.26,703.62 L337.76,703.50 L336.26,703.37 L334.76,703.24 L333.26,703.11 L331.75,702.97 L330.25,702.84 L328.75,702.70 L327.25,702.56 L325.75,702.42 L324.24,702.28 L322.74,702.14 L321.24,702.00 L319.74,701.86 L318.23,701.72 L316.73,701.58 L315.23,701.45 L313.73,701.31 L312.23,701.17 L310.72,701.03 L309.22,700.89 L307.72,700.75 L306.22,700.61 L304.71,700.47 L303.21,700.33 L301.71,700.19 L300.21,700.06 L298.71,699.92 L297.20,699.78 L295.70,699.64 L294.20,699.50 Z" fill="url(#gB)" fill-opacity="0.9" stroke="none"/>
<polyline points="294.20,699.50 295.70,699.64 297.20,699.78 298.71,699.92 300.21,700.06 301.71,700.19 303.21,700.33 304.71,700.47 306.22,700.61 307.72,700.75 309.22,700.89 310.72,701.03 312.23,701.17 313.73,701.31 315.23,701.45 316.73,701.58 318.23,701.72 319.74,701.86 321.24,702.00 322.74,702.14 324.24,702.28 325.75,702.41 327.25,702.55 328.75,702.69 330.25,702.82 331.75,702.96 333.26,703.09 334.76,703.22 336.26,703.34 337.76,703.46 339.26,703.57 340.77,703.68 342.27,703.79 343.77,703.88 345.27,703.97 346.77,704.06 348.28,704.13 349.78,704.20 351.28,704.26 352.78,704.31 354.29,704.35 355.79,704.38 357.29,704.39 358.79,704.40 360.29,704.40 361.80,704.38 363.30,704.36 364.80,704.32 366.30,704.27 367.81,704.22 369.31,704.15 370.81,704.07 372.31,703.99 373.81,703.90 375.32,703.81 376.82,703.72 378.32,703.63 379.82,703.55 381.32,703.47 382.83,703.39 384.33,703.33 385.83,703.28 387.33,703.25 388.83,703.23 390.34,703.24 391.84,703.27 393.34,703.32 394.84,703.41 396.35,703.52 397.85,703.66 399.35,703.84 400.85,704.04 402.35,704.28 403.86,704.53 405.36,704.82 406.86,705.13 408.36,705.46 409.87,705.81 411.37,706.18 412.87,706.56 414.37,706.94 415.87,707.34 417.38,707.73 418.88,708.12 420.38,708.51 421.88,708.90 423.38,709.28 424.89,709.64 426.39,710.00 427.89,710.34 429.39,710.67 430.89,710.98 432.40,711.27 433.90,711.55 435.40,711.81 436.90,712.06 438.41,712.28 439.91,712.50 441.41,712.70 442.91,712.89 444.41,713.07 445.92,713.24 447.42,713.40 448.92,713.56 450.42,713.71 451.93,713.86 453.43,714.01 454.93,714.16 456.43,714.31 457.93,714.47 459.44,714.62 460.94,714.78 462.44,714.95 463.94,715.12 465.44,715.29 466.95,715.47 468.45,715.65 469.95,715.84 471.45,716.04 472.95,716.23 474.46,716.44 475.96,716.65 477.46,716.86 478.96,717.08 480.47,717.31 481.97,717.53 483.47,717.76 484.97,717.98 486.47,718.21 487.98,718.43 489.48,718.66 490.98,718.88 492.48,719.10 493.99,719.33 495.49,719.55 496.99,719.78 498.49,720.00 499.99,720.23 501.50,720.45 503.00,720.68 504.50,720.90" fill="none" stroke="#4a7fc6" stroke-width="0.9" stroke-linejoin="round" stroke-linecap="round" />
<polyline points="294.20,699.50 295.70,699.64 297.20,699.78 298.71,699.92 300.21,700.06 301.71,700.19 303.21,700.33 304.71,700.47 306.22,700.61 307.72,700.75 309.22,700.89 310.72,701.03 312.23,701.17 313.73,701.31 315.23,701.44 316.73,701.58 318.23,701.72 319.74,701.86 321.24,702.00 322.74,702.14 324.24,702.28 325.75,702.41 327.25,702.55 328.75,702.69 330.25,702.82 331.75,702.96 333.26,703.09 334.76,703.21 336.26,703.34 337.76,703.45 339.26,703.57 340.77,703.67 342.27,703.77 343.77,703.87 345.27,703.95 346.77,704.03 348.28,704.10 349.78,704.17 351.28,704.22 352.78,704.26 354.29,704.29 355.79,704.30 357.29,704.31 358.79,704.30 360.29,704.28 361.80,704.24 363.30,704.19 364.80,704.12 366.30,704.04 367.81,703.94 369.31,703.83 370.81,703.70 372.31,703.55 373.81,703.40 375.32,703.23 376.82,703.06 378.32,702.88 379.82,702.69 381.32,702.49 382.83,702.29 384.33,702.09 385.83,701.88 387.33,701.68 388.83,701.48 390.34,701.28 391.84,701.10 393.34,700.92 394.84,700.76 396.35,700.61 397.85,700.48 399.35,700.36 400.85,700.26 402.35,700.17 403.86,700.10 405.36,700.04 406.86,700.00 408.36,699.97 409.87,699.96 411.37,699.96 412.87,699.97 414.37,699.99 415.87,700.03 417.38,700.06 418.88,700.11 420.38,700.17 421.88,700.24 423.38,700.31 424.89,700.40 426.39,700.50 427.89,700.60 429.39,700.73 430.89,700.86 432.40,701.01 433.90,701.18 435.40,701.36 436.90,701.57 438.41,701.78 439.91,702.02 441.41,702.29 442.91,702.57 444.41,702.88 445.92,703.22 447.42,703.57 448.92,703.95 450.42,704.35 451.93,704.76 453.43,705.20 454.93,705.66 456.43,706.14 457.93,706.64 459.44,707.15 460.94,707.67 462.44,708.20 463.94,708.74 465.44,709.28 466.95,709.82 468.45,710.36 469.95,710.91 471.45,711.45 472.95,711.98 474.46,712.51 475.96,713.03 477.46,713.54 478.96,714.05 480.47,714.54 481.97,715.02 483.47,715.48 484.97,715.93 486.47,716.36 487.98,716.78 489.48,717.18 490.98,717.56 492.48,717.94 493.99,718.30 495.49,718.64 496.99,718.98 498.49,719.30 499.99,719.61 501.50,719.92 503.00,720.21 504.50,720.50" fill="none" stroke="#2f4d88" stroke-width="1.25" stroke-linejoin="round" stroke-linecap="round" />
<polyline points="294.20,699.50 295.70,699.64 297.20,699.78 298.71,699.92 300.21,700.06 301.71,700.19 303.21,700.33 304.71,700.47 306.22,700.61 307.72,700.75 309.22,700.89 310.72,701.03 312.23,701.17 313.73,701.31 315.23,701.45 316.73,701.58 318.23,701.72 319.74,701.86 321.24,702.00 322.74,702.14 324.24,702.28 325.75,702.42 327.25,702.56 328.75,702.70 330.25,702.84 331.75,702.97 333.26,703.11 334.76,703.24 336.26,703.37 337.76,703.50 339.26,703.62 340.77,703.74 342.27,703.86 343.77,703.97 345.27,704.09 346.77,704.20 348.28,704.30 349.78,704.40 351.28,704.50 352.78,704.60 354.29,704.70 355.79,704.79 357.29,704.88 358.79,704.98 360.29,705.07 361.80,705.16 363.30,705.25 364.80,705.34 366.30,705.44 367.81,705.53 369.31,705.63 370.81,705.73 372.31,705.83 373.81,705.94 375.32,706.05 376.82,706.17 378.32,706.30 379.82,706.43 381.32,706.57 382.83,706.71 384.33,706.86 385.83,707.02 387.33,707.18 388.83,707.34 390.34,707.51 391.84,707.69 393.34,707.87 394.84,708.05 396.35,708.24 397.85,708.44 399.35,708.64 400.85,708.84 402.35,709.04 403.86,709.25 405.36,709.45 406.86,709.65 408.36,709.85 409.87,710.06 411.37,710.26 412.87,710.46 414.37,710.65 415.87,710.84 417.38,711.02 418.88,711.20 420.38,711.37 421.88,711.54 423.38,711.70 424.89,711.86 426.39,712.01 427.89,712.16 429.39,712.30 430.89,712.43 432.40,712.56 433.90,712.69 435.40,712.81 436.90,712.93 438.41,713.04 439.91,713.15 441.41,713.26 442.91,713.37 444.41,713.48 445.92,713.58 447.42,713.69 448.92,713.80 450.42,713.91 451.93,714.03 453.43,714.14 454.93,714.27 456.43,714.40 457.93,714.54 459.44,714.68 460.94,714.83 462.44,714.99 463.94,715.15 465.44,715.32 466.95,715.49 468.45,715.67 469.95,715.85 471.45,716.04 472.95,716.24 474.46,716.44 475.96,716.65 477.46,716.87 478.96,717.09 480.47,717.31 481.97,717.53 483.47,717.76 484.97,717.98 486.47,718.21 487.98,718.43 489.48,718.66 490.98,718.88 492.48,719.11 493.99,719.33 495.49,719.55 496.99,719.78 498.49,720.00 499.99,720.23 501.50,720.45 503.00,720.68 504.50,720.90" fill="none" stroke="#2f4d88" stroke-width="1.4" stroke-linejoin="round" stroke-linecap="round" />
<text x="298.40" y="18.80" font-size="11.6" text-anchor="start" word-spacing="1">P 2p</text>
<text x="536.00" y="19.80" font-size="13.0" text-anchor="end" >(e)</text>
<text x="495.40" y="37.10" font-size="10" text-anchor="start" >&lt; 53 µm</text>
<text x="488.00" y="83.80" font-size="10" text-anchor="start" >53-250 µm</text>
<text x="493.50" y="137.00" font-size="10" text-anchor="start" >&gt; 250 µm</text>
<text x="297.40" y="206.70" font-size="11.6" text-anchor="start" word-spacing="1">P 2p</text>
<text x="536.00" y="206.30" font-size="13.0" text-anchor="end" >(f)</text>
<text x="497.10" y="232.00" font-size="10" text-anchor="start" >&lt; 53 µm</text>
<text x="491.00" y="287.80" font-size="10" text-anchor="start" >53-250 µm</text>
<text x="496.40" y="338.10" font-size="10" text-anchor="start" >&gt; 250 µm</text>
<text x="346.30" y="207.00" font-size="8.3" text-anchor="start" >P2p1/2</text>
<text x="346.30" y="216.80" font-size="8.3" text-anchor="start" >134.38 eV</text>
<line x1="365.20" y1="217.00" x2="365.20" y2="223.50" stroke="#222" stroke-width="0.65"/>
<polygon points="365.20,229.00 363.45,223.50 366.95,223.50" fill="#111"/>
<text x="457.90" y="206.80" font-size="8.3" text-anchor="start" >P2p3/2</text>
<text x="457.90" y="217.10" font-size="8.3" text-anchor="start" >133.51 eV</text>
<line x1="454.20" y1="216.50" x2="446.57" y2="228.37" stroke="#222" stroke-width="0.65"/>
<polygon points="443.60,233.00 445.10,227.43 448.05,229.32" fill="#111"/>
<text x="343.90" y="251.90" font-size="8.3" text-anchor="start" >P2p1/2</text>
<text x="343.90" y="262.30" font-size="8.3" text-anchor="start" >134.52 eV</text>
<line x1="360.40" y1="262.00" x2="360.40" y2="271.70" stroke="#222" stroke-width="0.65"/>
<polygon points="360.40,277.20 358.65,271.70 362.15,271.70" fill="#111"/>
<text x="424.20" y="260.30" font-size="8.3" text-anchor="start" >P2p3/2</text>
<text x="424.20" y="271.10" font-size="8.3" text-anchor="start" >133.65 eV</text>
<line x1="423.50" y1="272.20" x2="422.18" y2="275.83" stroke="#222" stroke-width="0.65"/>
<polygon points="420.30,281.00 420.53,275.23 423.82,276.43" fill="#111"/>
<text x="357.40" y="307.00" font-size="8.3" text-anchor="start" >P2p1/2</text>
<text x="357.40" y="316.60" font-size="8.3" text-anchor="start" >133.92 eV</text>
<line x1="375.50" y1="317.00" x2="375.61" y2="323.90" stroke="#222" stroke-width="0.65"/>
<polygon points="375.70,329.40 373.86,323.93 377.36,323.87" fill="#111"/>
<text x="454.70" y="309.40" font-size="8.3" text-anchor="start" >P2p3/2</text>
<text x="454.70" y="320.20" font-size="8.3" text-anchor="start" >133.05 eV</text>
<line x1="454.20" y1="321.30" x2="453.41" y2="324.83" stroke="#222" stroke-width="0.65"/>
<polygon points="452.20,330.20 451.70,324.45 455.11,325.22" fill="#111"/>
<text x="296.50" y="395.40" font-size="11.6" text-anchor="start" word-spacing="1">P 2p</text>
<text x="537.60" y="393.50" font-size="13.0" text-anchor="end" >(g)</text>
<text x="500.30" y="419.30" font-size="10" text-anchor="start" >&lt; 53 µm</text>
<text x="491.00" y="466.70" font-size="10" text-anchor="start" >53-250 µm</text>
<text x="495.90" y="523.60" font-size="10" text-anchor="start" >&gt; 250 µm</text>
<text x="343.20" y="390.20" font-size="8.3" text-anchor="start" >P2p1/2</text>
<text x="343.20" y="400.10" font-size="8.3" text-anchor="start" >134.18 eV</text>
<line x1="362.60" y1="400.50" x2="362.60" y2="409.10" stroke="#222" stroke-width="0.65"/>
<polygon points="362.60,414.60 360.85,409.10 364.35,409.10" fill="#111"/>
<text x="451.20" y="395.60" font-size="8.3" text-anchor="start" >P2p3/2</text>
<text x="451.20" y="405.80" font-size="8.3" text-anchor="start" >133.31 eV</text>
<line x1="453.70" y1="409.60" x2="453.26" y2="410.58" stroke="#222" stroke-width="0.65"/>
<polygon points="451.00,415.60 451.66,409.87 454.85,411.30" fill="#111"/>
<text x="345.60" y="444.60" font-size="8.3" text-anchor="start" >P2p1/2</text>
<text x="345.60" y="454.50" font-size="8.3" text-anchor="start" >134.22 eV</text>
<line x1="365.20" y1="455.00" x2="365.20" y2="463.50" stroke="#222" stroke-width="0.65"/>
<polygon points="365.20,469.00 363.45,463.50 366.95,463.50" fill="#111"/>
<text x="453.70" y="447.10" font-size="8.3" text-anchor="start" >P2p3/2</text>
<text x="453.70" y="457.40" font-size="8.3" text-anchor="start" >133.35 eV</text>
<line x1="449.30" y1="460.00" x2="448.53" y2="462.05" stroke="#222" stroke-width="0.65"/>
<polygon points="446.60,467.20 446.89,461.44 450.17,462.66" fill="#111"/>
<text x="363.80" y="495.00" font-size="8.3" text-anchor="start" >P2p1/2</text>
<text x="363.80" y="504.60" font-size="8.3" text-anchor="start" >133.99 eV</text>
<line x1="386.50" y1="505.00" x2="386.50" y2="515.50" stroke="#222" stroke-width="0.65"/>
<polygon points="386.50,521.00 384.75,515.50 388.25,515.50" fill="#111"/>
<text x="454.70" y="502.30" font-size="8.3" text-anchor="start" >P2p3/2</text>
<text x="454.70" y="512.30" font-size="8.3" text-anchor="start" >133.12 eV</text>
<line x1="460.30" y1="513.50" x2="459.04" y2="519.42" stroke="#222" stroke-width="0.65"/>
<polygon points="457.90,524.80 457.33,519.06 460.75,519.78" fill="#111"/>
<text x="296.10" y="582.50" font-size="11.6" text-anchor="start" word-spacing="1">P 2p</text>
<text x="537.90" y="581.60" font-size="13.0" text-anchor="end" >(h)</text>
<text x="500.80" y="608.80" font-size="10" text-anchor="start" >&lt; 53 µm</text>
<text x="491.00" y="648.00" font-size="10" text-anchor="start" >53-250 µm</text>
<text x="494.70" y="698.30" font-size="10" text-anchor="start" >&gt; 250 µm</text>
<text x="341.50" y="577.90" font-size="8.3" text-anchor="start" >P2p1/2</text>
<text x="341.50" y="588.80" font-size="8.3" text-anchor="start" >134.31 eV</text>
<line x1="363.30" y1="589.00" x2="364.40" y2="592.37" stroke="#222" stroke-width="0.65"/>
<polygon points="366.10,597.60 362.73,592.91 366.06,591.83" fill="#111"/>
<text x="453.70" y="585.70" font-size="8.3" text-anchor="start" >P2p3/2</text>
<text x="453.70" y="595.80" font-size="8.3" text-anchor="start" >133.44 eV</text>
<line x1="450.50" y1="599.00" x2="449.36" y2="601.80" stroke="#222" stroke-width="0.65"/>
<polygon points="447.30,606.90 447.74,601.15 450.99,602.46" fill="#111"/>
<text x="351.00" y="625.70" font-size="8.3" text-anchor="start" >P2p1/2</text>
<text x="351.00" y="636.00" font-size="8.3" text-anchor="start" >134.12 eV</text>
<line x1="372.70" y1="636.50" x2="374.02" y2="648.93" stroke="#222" stroke-width="0.65"/>
<polygon points="374.60,654.40 372.28,649.12 375.76,648.75" fill="#111"/>
<text x="446.30" y="629.20" font-size="8.3" text-anchor="start" >P2p3/2</text>
<text x="446.30" y="639.90" font-size="8.3" text-anchor="start" >133.25 eV</text>
<line x1="452.00" y1="639.80" x2="448.73" y2="650.35" stroke="#222" stroke-width="0.65"/>
<polygon points="447.10,655.60 447.06,649.83 450.40,650.87" fill="#111"/>
<text x="360.40" y="678.90" font-size="8.3" text-anchor="start" >P2p1/2</text>
<text x="360.40" y="689.30" font-size="8.3" text-anchor="start" >133.91 eV</text>
<line x1="379.80" y1="690.00" x2="380.99" y2="699.05" stroke="#222" stroke-width="0.65"/>
<polygon points="381.70,704.50 379.25,699.27 382.72,698.82" fill="#111"/>
<text x="449.80" y="683.90" font-size="8.3" text-anchor="start" >P2p3/2</text>
<text x="449.80" y="695.20" font-size="8.3" text-anchor="start" >133.04 eV</text>
<line x1="453.00" y1="695.00" x2="451.30" y2="701.01" stroke="#222" stroke-width="0.65"/>
<polygon points="449.80,706.30 449.61,700.53 452.98,701.48" fill="#111"/>
</svg>
</body></html>
